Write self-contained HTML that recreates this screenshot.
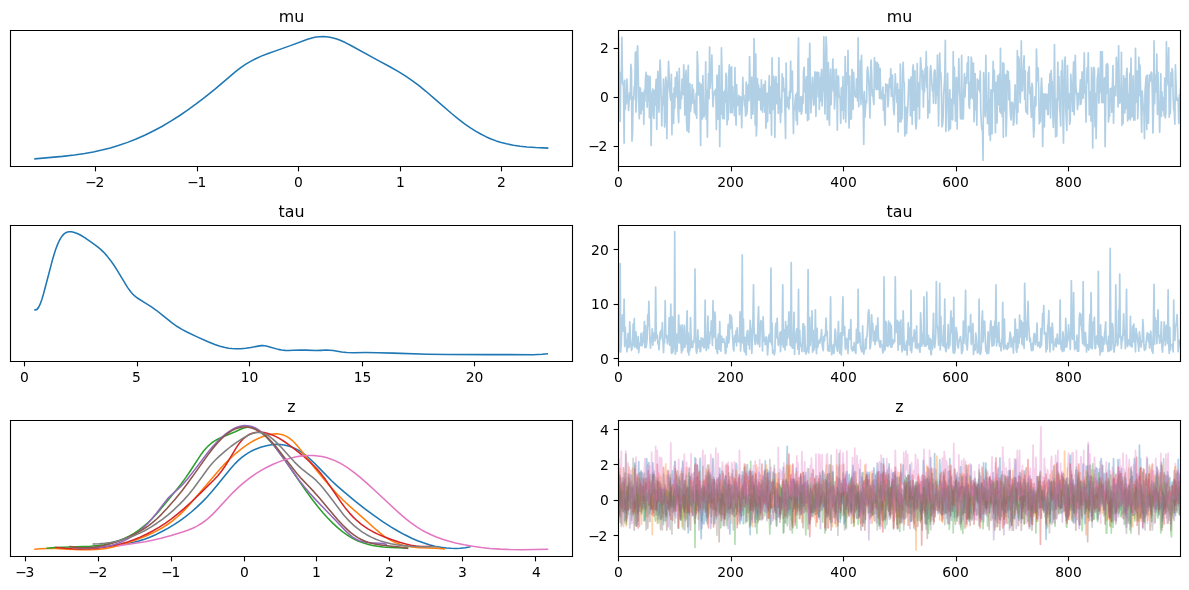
<!DOCTYPE html>
<html><head><meta charset="utf-8"><title>Trace plot</title>
<style>html,body{margin:0;padding:0;background:#fff;overflow:hidden}svg{display:block}</style>
</head><body>
<svg width="1189" height="590" viewBox="0 0 856.08 424.8">
 
 <defs>
  <style type="text/css">*{stroke-linejoin: round; stroke-linecap: butt}</style>
 </defs>
 <g id="figure_1">
  <g id="patch_1">
   <path d="M 0 424.8 
L 856.08 424.8 
L 856.08 0 
L 0 0 
z
" style="fill: #ffffff"/>
  </g>
  <g id="axes_1">
   <g id="patch_2">
    <path d="M 7.56 119.88 
L 412.2 119.88 
L 412.2 21.96 
L 7.56 21.96 
z
" style="fill: #ffffff"/>
   </g>
   <g id="matplotlib.axis_1">
    <g id="xtick_1">
     <g id="line2d_1">
      <defs>
       <path id="m1504cfccaf" d="M 0 0 
L 0 3.5 
" style="stroke: #000000; stroke-width: 0.8"/>
      </defs>
      <g>
       <use href="#m1504cfccaf" x="68.76" y="119.88" style="stroke: #000000; stroke-width: 0.8"/>
      </g>
     </g>
     <g id="text_1">
      <text style="font-size: 10px; font-family: 'DejaVu Sans', 'Liberation Sans', sans-serif; text-anchor: middle" x="68.26" y="134.48">−<tspan dx="-1.00">2</tspan></text>
     </g>
    </g>
    <g id="xtick_2">
     <g id="line2d_2">
      <g>
       <use href="#m1504cfccaf" x="142.20" y="119.88" style="stroke: #000000; stroke-width: 0.8"/>
      </g>
     </g>
     <g id="text_2">
      <text style="font-size: 10px; font-family: 'DejaVu Sans', 'Liberation Sans', sans-serif; text-anchor: middle" x="141.70" y="134.48">−<tspan dx="-1.00">1</tspan></text>
     </g>
    </g>
    <g id="xtick_3">
     <g id="line2d_3">
      <g>
       <use href="#m1504cfccaf" x="214.92" y="119.88" style="stroke: #000000; stroke-width: 0.8"/>
      </g>
     </g>
     <g id="text_3">
      <text style="font-size: 10px; font-family: 'DejaVu Sans', 'Liberation Sans', sans-serif; text-anchor: middle" x="214.92" y="134.48">0</text>
     </g>
    </g>
    <g id="xtick_4">
     <g id="line2d_4">
      <g>
       <use href="#m1504cfccaf" x="288.36" y="119.88" style="stroke: #000000; stroke-width: 0.8"/>
      </g>
     </g>
     <g id="text_4">
      <text style="font-size: 10px; font-family: 'DejaVu Sans', 'Liberation Sans', sans-serif; text-anchor: middle" x="288.36" y="134.48">1</text>
     </g>
    </g>
    <g id="xtick_5">
     <g id="line2d_5">
      <g>
       <use href="#m1504cfccaf" x="361.08" y="119.88" style="stroke: #000000; stroke-width: 0.8"/>
      </g>
     </g>
     <g id="text_5">
      <text style="font-size: 10px; font-family: 'DejaVu Sans', 'Liberation Sans', sans-serif; text-anchor: middle" x="361.08" y="134.48">2</text>
     </g>
    </g>
   </g>
   <g id="matplotlib.axis_2"/>
   <g id="line2d_6">
    <path d="M 25.2 114.36 
L 44.94 112.60 
L 53.59 111.60 
L 60.99 110.51 
L 67.16 109.41 
L 73.33 108.08 
L 79.51 106.50 
L 85.68 104.64 
L 91.85 102.50 
L 98.02 100.07 
L 104.19 97.36 
L 110.37 94.35 
L 116.54 91.05 
L 122.71 87.44 
L 128.88 83.53 
L 135.05 79.33 
L 141.22 74.85 
L 147.40 70.11 
L 154.80 64.11 
L 162.21 57.82 
L 169.61 51.59 
L 173.32 48.74 
L 177.02 46.19 
L 180.72 43.99 
L 184.43 42.08 
L 188.13 40.42 
L 193.07 38.48 
L 200.47 35.90 
L 209.11 32.86 
L 221.46 28.20 
L 225.16 27.17 
L 227.63 26.68 
L 230.10 26.39 
L 232.57 26.32 
L 235.04 26.46 
L 237.50 26.81 
L 239.97 27.35 
L 242.44 28.08 
L 244.91 28.99 
L 248.61 30.66 
L 252.32 32.60 
L 270.83 42.78 
L 280.71 48.07 
L 286.88 51.62 
L 291.82 54.69 
L 296.75 58.04 
L 301.69 61.72 
L 306.63 65.72 
L 314.03 72.09 
L 325.14 81.72 
L 330.08 85.75 
L 335.02 89.48 
L 338.72 92.04 
L 342.42 94.39 
L 346.13 96.51 
L 349.83 98.40 
L 353.53 100.04 
L 357.24 101.44 
L 360.94 102.61 
L 364.64 103.57 
L 369.58 104.57 
L 374.52 105.30 
L 379.45 105.81 
L 385.63 106.24 
L 394.27 106.62 
L 394.27 106.62 
" clip-path="url(#p5a673e6192)" style="fill: none; stroke: #1f77b4; stroke-width: 1.12; stroke-linecap: square"/>
   </g>
   <g id="patch_3">
    <path d="M 7.56 119.88 
L 7.56 21.96 
" style="fill: none; stroke: #000000; stroke-width: 0.8; stroke-linejoin: miter; stroke-linecap: square"/>
   </g>
   <g id="patch_4">
    <path d="M 412.2 119.88 
L 412.2 21.96 
" style="fill: none; stroke: #000000; stroke-width: 0.8; stroke-linejoin: miter; stroke-linecap: square"/>
   </g>
   <g id="patch_5">
    <path d="M 7.56 119.88 
L 412.2 119.88 
" style="fill: none; stroke: #000000; stroke-width: 0.8; stroke-linejoin: miter; stroke-linecap: square"/>
   </g>
   <g id="patch_6">
    <path d="M 7.56 21.96 
L 412.2 21.96 
" style="fill: none; stroke: #000000; stroke-width: 0.8; stroke-linejoin: miter; stroke-linecap: square"/>
   </g>
   <g id="text_6">
    <text style="font-size: 11.43px; font-family: 'DejaVu Sans', 'Liberation Sans', sans-serif; text-anchor: middle" x="209.88" y="15.96">mu</text>
   </g>
  </g>
  <g id="axes_2">
   <g id="patch_7">
    <path d="M 445.32 119.88 
L 849.96 119.88 
L 849.96 21.96 
L 445.32 21.96 
z
" style="fill: #ffffff"/>
   </g>
   <g id="matplotlib.axis_3">
    <g id="xtick_6">
     <g id="line2d_7">
      <g>
       <use href="#m1504cfccaf" x="445.32" y="119.88" style="stroke: #000000; stroke-width: 0.8"/>
      </g>
     </g>
     <g id="text_7">
      <text style="font-size: 10px; font-family: 'DejaVu Sans', 'Liberation Sans', sans-serif; text-anchor: middle" x="445.32" y="134.48">0</text>
     </g>
    </g>
    <g id="xtick_7">
     <g id="line2d_8">
      <g>
       <use href="#m1504cfccaf" x="526.68" y="119.88" style="stroke: #000000; stroke-width: 0.8"/>
      </g>
     </g>
     <g id="text_8">
      <text style="font-size: 10px; font-family: 'DejaVu Sans', 'Liberation Sans', sans-serif; text-anchor: middle" x="525.96" y="134.48">200</text>
     </g>
    </g>
    <g id="xtick_8">
     <g id="line2d_9">
      <g>
       <use href="#m1504cfccaf" x="607.32" y="119.88" style="stroke: #000000; stroke-width: 0.8"/>
      </g>
     </g>
     <g id="text_9">
      <text style="font-size: 10px; font-family: 'DejaVu Sans', 'Liberation Sans', sans-serif; text-anchor: middle" x="607.32" y="134.48">400</text>
     </g>
    </g>
    <g id="xtick_9">
     <g id="line2d_10">
      <g>
       <use href="#m1504cfccaf" x="688.68" y="119.88" style="stroke: #000000; stroke-width: 0.8"/>
      </g>
     </g>
     <g id="text_10">
      <text style="font-size: 10px; font-family: 'DejaVu Sans', 'Liberation Sans', sans-serif; text-anchor: middle" x="687.96" y="134.48">600</text>
     </g>
    </g>
    <g id="xtick_10">
     <g id="line2d_11">
      <g>
       <use href="#m1504cfccaf" x="769.32" y="119.88" style="stroke: #000000; stroke-width: 0.8"/>
      </g>
     </g>
     <g id="text_11">
      <text style="font-size: 10px; font-family: 'DejaVu Sans', 'Liberation Sans', sans-serif; text-anchor: middle" x="769.32" y="134.48">800</text>
     </g>
    </g>
   </g>
   <g id="matplotlib.axis_4">
    <g id="ytick_1">
     <g id="line2d_12">
      <defs>
       <path id="m5d545ce8f8" d="M 0 0 
L -3.5 0 
" style="stroke: #000000; stroke-width: 0.8"/>
      </defs>
      <g>
       <use href="#m5d545ce8f8" x="445.32" y="105.48" style="stroke: #000000; stroke-width: 0.8"/>
      </g>
     </g>
     <g id="text_12">
      <text style="font-size: 10px; font-family: 'DejaVu Sans', 'Liberation Sans', sans-serif; text-anchor: end" x="437.32" y="108.56">−<tspan dx="-1.00">2</tspan></text>
     </g>
    </g>
    <g id="ytick_2">
     <g id="line2d_13">
      <g>
       <use href="#m5d545ce8f8" x="445.32" y="70.20" style="stroke: #000000; stroke-width: 0.8"/>
      </g>
     </g>
     <g id="text_13">
      <text style="font-size: 10px; font-family: 'DejaVu Sans', 'Liberation Sans', sans-serif; text-anchor: end" x="438.32" y="73.28">0</text>
     </g>
    </g>
    <g id="ytick_3">
     <g id="line2d_14">
      <g>
       <use href="#m5d545ce8f8" x="445.32" y="34.92" style="stroke: #000000; stroke-width: 0.8"/>
      </g>
     </g>
     <g id="text_14">
      <text style="font-size: 10px; font-family: 'DejaVu Sans', 'Liberation Sans', sans-serif; text-anchor: end" x="438.32" y="38.00">2</text>
     </g>
    </g>
   </g>
   <g id="line2d_15">
    <path d="M 445.32 26.98 
L 445.72 53.40 
L 446.13 61.41 
L 446.53 87.32 
L 446.94 52.09 
L 447.34 59.51 
L 447.75 26.98 
L 448.15 57.29 
L 448.56 60.86 
L 448.96 62.01 
L 449.37 103.01 
L 449.77 57.85 
L 450.18 78.76 
L 450.58 69.40 
L 450.99 74.70 
L 451.39 56.99 
L 451.80 66.11 
L 452.20 71.55 
L 452.61 79.47 
L 453.01 70.97 
L 453.42 66.62 
L 453.82 71.27 
L 454.23 46.29 
L 454.63 50.54 
L 455.04 101.59 
L 455.44 95.16 
L 455.85 69.60 
L 456.25 71.75 
L 456.66 62.38 
L 457.06 62.32 
L 457.47 37.52 
L 457.87 80.66 
L 458.28 71.09 
L 458.68 38.21 
L 459.09 32.97 
L 459.90 73.07 
L 460.30 85.50 
L 460.71 63.07 
L 461.11 63.94 
L 461.52 81.87 
L 461.92 75.43 
L 462.33 66.61 
L 462.73 78.76 
L 463.14 66.99 
L 463.54 89.42 
L 463.95 65.02 
L 464.35 72.96 
L 464.76 56.58 
L 465.16 52.18 
L 465.57 60.76 
L 465.97 77.20 
L 466.38 54.50 
L 466.78 72.89 
L 467.19 55.44 
L 467.59 84.71 
L 468.00 54.97 
L 468.40 68.47 
L 468.81 104.77 
L 469.21 73.11 
L 469.62 67.33 
L 470.02 64.07 
L 470.43 83.37 
L 470.83 85.25 
L 471.24 65.15 
L 471.64 75.53 
L 472.05 64.62 
L 472.45 57.05 
L 472.86 93.02 
L 473.26 64.34 
L 473.67 51.30 
L 474.07 72.84 
L 474.48 80.81 
L 474.88 57.15 
L 475.29 43.21 
L 475.69 55.22 
L 476.50 90.71 
L 476.91 69.87 
L 477.31 75.20 
L 477.72 57.01 
L 478.12 65.22 
L 478.53 91.32 
L 478.93 85.76 
L 479.34 55.59 
L 479.74 58.30 
L 480.15 99.65 
L 480.55 68.09 
L 480.96 61.60 
L 481.36 44.09 
L 482.17 64.31 
L 482.58 69.50 
L 482.98 72.04 
L 483.39 53.50 
L 483.79 96.90 
L 484.20 70.18 
L 484.60 67.58 
L 485.01 88.81 
L 485.41 63.21 
L 485.82 78.04 
L 486.22 55.87 
L 486.63 69.98 
L 487.03 58.45 
L 487.44 51.71 
L 487.84 62.49 
L 488.25 81.29 
L 488.65 88.29 
L 489.06 49.27 
L 489.46 69.86 
L 489.87 78.19 
L 490.28 66.24 
L 490.68 71.03 
L 491.09 56.97 
L 491.49 67.78 
L 491.90 68.06 
L 492.30 46.73 
L 492.71 61.83 
L 493.11 82.73 
L 493.52 59.27 
L 493.92 50.63 
L 494.33 88.39 
L 494.73 94.26 
L 495.14 59.90 
L 495.54 47.11 
L 495.95 95.24 
L 496.35 85.38 
L 496.76 60.26 
L 497.16 80.24 
L 497.57 75.63 
L 497.97 73.34 
L 498.38 61.01 
L 498.78 74.17 
L 499.19 64.40 
L 499.59 70.22 
L 500.00 80.89 
L 500.40 72.57 
L 500.81 82.50 
L 501.21 67.29 
L 501.62 85.13 
L 502.02 37.21 
L 502.43 46.40 
L 502.83 68.24 
L 503.24 68.25 
L 503.64 59.40 
L 504.05 74.22 
L 504.45 104.77 
L 504.86 60.75 
L 505.26 62.98 
L 505.67 85.66 
L 506.07 54.48 
L 506.48 76.95 
L 506.88 84.10 
L 507.29 81.74 
L 507.69 73.73 
L 508.10 44.57 
L 508.50 85.91 
L 508.91 64.88 
L 509.31 98.71 
L 509.72 67.42 
L 510.12 53.00 
L 510.53 71.03 
L 510.93 33.86 
L 511.34 63.50 
L 511.74 56.04 
L 512.15 56.61 
L 512.55 39.68 
L 512.96 63.85 
L 513.36 76.86 
L 513.77 69.21 
L 514.17 68.34 
L 514.58 65.44 
L 514.98 67.66 
L 515.39 64.41 
L 515.79 93.13 
L 516.20 54.05 
L 516.60 76.58 
L 517.01 85.84 
L 517.41 57.02 
L 517.82 47.22 
L 518.22 105.48 
L 518.63 64.61 
L 519.03 82.15 
L 519.44 34.52 
L 519.84 53.28 
L 520.25 85.32 
L 520.65 79.80 
L 521.06 66.32 
L 521.46 85.67 
L 521.87 65.24 
L 522.27 73.78 
L 522.68 52.77 
L 523.08 55.37 
L 523.49 89.83 
L 523.89 66.93 
L 524.30 86.13 
L 524.70 53.86 
L 525.11 46.73 
L 525.51 60.30 
L 525.92 81.17 
L 526.32 48.83 
L 526.73 48.12 
L 527.13 81.17 
L 527.54 62.56 
L 527.94 76.59 
L 528.35 67.80 
L 528.75 83.20 
L 529.16 48.67 
L 529.56 80.12 
L 529.97 90.13 
L 530.37 60.90 
L 530.78 76.26 
L 531.18 70.76 
L 531.59 75.17 
L 531.99 68.61 
L 532.40 82.67 
L 532.80 73.11 
L 533.21 69.69 
L 533.61 71.57 
L 534.02 91.89 
L 534.83 55.78 
L 535.24 71.42 
L 535.64 68.66 
L 536.05 76.35 
L 536.45 74.40 
L 536.86 83.70 
L 537.26 59.12 
L 537.67 82.35 
L 538.07 77.45 
L 538.48 61.45 
L 538.88 60.81 
L 539.29 72.56 
L 539.69 40.74 
L 540.10 60.55 
L 540.50 62.89 
L 540.91 85.21 
L 541.31 55.55 
L 541.72 76.84 
L 542.12 82.17 
L 542.53 64.95 
L 542.93 27.86 
L 543.74 89.89 
L 544.15 38.89 
L 544.55 97.89 
L 544.96 89.12 
L 545.36 56.52 
L 545.77 72.17 
L 546.17 61.30 
L 546.58 71.93 
L 547.39 63.90 
L 547.79 79.06 
L 548.20 57.53 
L 548.60 74.90 
L 549.01 80.83 
L 549.41 66.42 
L 549.82 60.95 
L 550.63 80.73 
L 551.03 58.38 
L 551.44 92.24 
L 551.84 83.10 
L 552.25 66.98 
L 552.65 87.56 
L 553.06 67.16 
L 553.46 68.42 
L 553.87 54.48 
L 554.27 81.47 
L 554.68 77.27 
L 555.08 62.60 
L 555.49 97.21 
L 555.89 41.62 
L 556.30 78.35 
L 556.70 78.81 
L 557.11 54.98 
L 557.51 68.19 
L 557.92 98.77 
L 558.32 58.32 
L 558.73 55.09 
L 559.13 74.69 
L 559.54 72.03 
L 559.94 60.39 
L 560.35 81.54 
L 560.75 41.62 
L 561.16 64.64 
L 561.97 88.23 
L 562.37 71.15 
L 562.78 81.06 
L 563.18 53.17 
L 563.59 65.47 
L 563.99 56.10 
L 564.40 65.61 
L 564.80 63.70 
L 565.61 99.65 
L 566.02 45.44 
L 566.42 72.48 
L 566.83 76.89 
L 567.23 70.08 
L 567.64 75.17 
L 568.04 78.52 
L 568.45 65.56 
L 568.85 70.90 
L 569.26 44.08 
L 569.66 66.27 
L 570.07 61.15 
L 570.47 51.16 
L 571.28 96.13 
L 571.69 76.29 
L 572.09 78.88 
L 572.50 72.11 
L 572.90 68.08 
L 573.31 86.77 
L 573.71 66.83 
L 574.12 89.72 
L 574.52 44.75 
L 574.93 27.33 
L 575.33 76.43 
L 575.74 80.31 
L 576.14 72.40 
L 576.55 69.81 
L 576.95 82.18 
L 577.36 80.47 
L 577.76 69.24 
L 578.17 74.56 
L 578.57 51.35 
L 578.98 48.41 
L 579.38 66.02 
L 579.79 57.83 
L 580.2 81.31 
L 580.60 55.35 
L 581.01 65.30 
L 581.41 86.78 
L 581.82 42.27 
L 582.22 85.98 
L 583.03 31.21 
L 583.84 81.13 
L 585.06 55.71 
L 585.46 63.79 
L 585.87 75.74 
L 586.27 72.65 
L 586.68 51.73 
L 587.08 64.94 
L 587.49 83.76 
L 587.89 52.32 
L 588.30 58.70 
L 588.70 51.89 
L 589.11 69.64 
L 589.51 52.54 
L 589.92 78.76 
L 590.32 56.36 
L 590.73 72.74 
L 591.13 54.89 
L 591.54 49.87 
L 591.94 76.23 
L 592.35 66.17 
L 592.75 64.81 
L 593.16 26.62 
L 593.97 82.05 
L 594.37 58.31 
L 594.78 26.62 
L 595.18 33.50 
L 595.59 86.16 
L 595.99 73.42 
L 596.40 45.16 
L 596.80 83.43 
L 597.21 90.13 
L 597.61 57.37 
L 598.02 49.68 
L 598.42 75.30 
L 598.83 57.00 
L 599.23 63.62 
L 599.64 42.49 
L 600.04 65.42 
L 600.45 50.10 
L 600.85 78.40 
L 601.26 69.28 
L 601.66 67.93 
L 602.07 49.70 
L 602.47 57.65 
L 602.88 93.66 
L 603.28 56.10 
L 603.69 54.78 
L 604.09 68.16 
L 604.50 70.40 
L 604.90 69.41 
L 605.31 88.70 
L 605.71 63.62 
L 606.12 62.93 
L 606.52 79.33 
L 606.93 55.20 
L 607.33 85.55 
L 607.74 74.89 
L 608.14 73.74 
L 608.55 40.69 
L 608.95 87.85 
L 609.36 57.91 
L 609.76 52.33 
L 610.17 60.74 
L 610.57 36.33 
L 610.98 81.12 
L 611.38 92.19 
L 611.79 54.84 
L 612.19 85.86 
L 612.60 72.18 
L 613.00 85.60 
L 613.41 49.91 
L 613.81 52.77 
L 614.22 78.59 
L 614.62 52.17 
L 615.03 64.85 
L 615.43 69.07 
L 615.84 65.87 
L 616.24 70.12 
L 616.65 56.78 
L 617.05 61.79 
L 617.46 72.57 
L 617.86 27.33 
L 618.27 76.87 
L 618.67 62.17 
L 619.08 59.96 
L 619.48 43.70 
L 619.89 75.15 
L 620.29 39.83 
L 620.70 63.96 
L 621.10 69.97 
L 621.51 77.84 
L 621.91 103.89 
L 622.32 66.01 
L 622.72 84.47 
L 623.53 72.51 
L 623.94 73.98 
L 624.34 51.11 
L 624.75 48.22 
L 625.56 60.47 
L 625.97 70.90 
L 626.37 85.01 
L 626.78 53.51 
L 627.18 43.30 
L 627.59 53.17 
L 627.99 68.98 
L 628.40 64.78 
L 628.80 71.59 
L 629.21 75.22 
L 629.61 41.62 
L 630.02 62.67 
L 630.42 44.73 
L 630.83 64.60 
L 631.23 48.39 
L 631.64 45.15 
L 632.04 64.24 
L 632.45 46.27 
L 632.85 55.66 
L 633.26 70.76 
L 633.66 49.20 
L 634.07 67.87 
L 634.47 71.25 
L 634.88 70.80 
L 635.69 62.71 
L 636.09 79.49 
L 636.50 68.29 
L 636.90 85.59 
L 637.31 90.13 
L 637.71 60.46 
L 638.12 66.06 
L 638.52 64.53 
L 638.93 60.86 
L 639.33 76.90 
L 639.74 71.34 
L 640.14 61.79 
L 640.55 56.40 
L 640.95 63.19 
L 641.36 49.49 
L 641.76 69.37 
L 642.17 56.42 
L 642.57 54.09 
L 642.98 69.93 
L 643.38 78.76 
L 643.79 82.63 
L 644.60 53.26 
L 645.00 64.20 
L 645.41 65.61 
L 645.81 73.85 
L 646.22 60.16 
L 646.62 94.96 
L 647.03 64.76 
L 647.43 67.70 
L 647.84 87.62 
L 648.24 46.17 
L 648.65 87.83 
L 649.05 83.83 
L 649.46 85.47 
L 649.86 53.26 
L 650.27 44.97 
L 650.67 58.69 
L 651.08 59.79 
L 651.48 97.89 
L 652.29 77.17 
L 652.70 96.13 
L 653.10 86.11 
L 653.51 80.21 
L 653.91 70.52 
L 654.32 57.13 
L 654.72 64.58 
L 655.13 57.98 
L 655.53 83.32 
L 655.94 55.50 
L 656.34 60.25 
L 656.75 89.48 
L 657.15 49.91 
L 657.56 46.67 
L 657.96 79.35 
L 658.37 67.34 
L 658.77 50.99 
L 659.18 88.29 
L 659.58 92.81 
L 659.99 86.18 
L 660.39 45.85 
L 660.80 76.68 
L 661.20 59.74 
L 661.61 64.35 
L 662.01 85.56 
L 662.42 56.75 
L 662.82 41.74 
L 663.23 48.48 
L 663.63 50.99 
L 664.04 64.51 
L 664.44 51.09 
L 664.85 76.97 
L 665.25 54.17 
L 665.66 65.97 
L 666.06 49.27 
L 666.47 58.20 
L 666.87 37.21 
L 667.28 63.01 
L 667.68 48.23 
L 668.09 85.01 
L 668.49 72.24 
L 668.90 74.80 
L 669.30 81.36 
L 669.71 51.38 
L 670.12 47.17 
L 671.33 65.49 
L 671.74 61.45 
L 672.14 74.37 
L 672.55 52.25 
L 672.95 50.31 
L 673.36 51.55 
L 673.76 74.48 
L 674.17 64.96 
L 674.57 68.75 
L 674.98 39.59 
L 675.79 90.67 
L 676.19 59.92 
L 676.60 38.32 
L 677.00 55.34 
L 677.41 52.34 
L 677.81 65.61 
L 678.22 91.30 
L 678.62 90.12 
L 679.03 84.31 
L 679.43 68.15 
L 680.24 55.27 
L 680.65 29.09 
L 681.05 94.54 
L 681.46 70.55 
L 681.86 77.08 
L 682.27 52.76 
L 682.67 80.03 
L 683.08 94.05 
L 683.48 81.96 
L 683.89 64.71 
L 684.29 92.64 
L 684.70 71.81 
L 685.10 71.43 
L 685.51 85.71 
L 685.91 86.27 
L 686.32 37.21 
L 686.72 74.66 
L 687.13 48.36 
L 687.53 60.79 
L 687.94 87.19 
L 688.34 78.96 
L 688.75 55.81 
L 689.15 92.77 
L 689.56 60.62 
L 689.96 61.76 
L 690.37 42.18 
L 690.77 66.75 
L 691.18 71.08 
L 691.58 85.57 
L 691.99 74.16 
L 692.39 39.91 
L 692.80 85.66 
L 693.20 66.25 
L 693.61 85.52 
L 694.01 64.50 
L 694.42 53.19 
L 694.82 69.85 
L 695.23 55.92 
L 695.63 56.05 
L 696.04 59.94 
L 696.44 45.18 
L 696.85 55.26 
L 697.25 40.74 
L 697.66 76.02 
L 698.06 78.14 
L 698.47 59.53 
L 698.87 71.01 
L 699.28 41.15 
L 699.68 44.29 
L 700.09 69.43 
L 700.49 71.09 
L 700.90 45.38 
L 701.30 87.57 
L 701.71 72.85 
L 702.11 53.00 
L 702.52 78.95 
L 702.92 73.21 
L 703.33 90.13 
L 703.73 56.89 
L 704.14 64.39 
L 704.95 57.81 
L 705.35 65.92 
L 705.76 51.26 
L 706.16 78.96 
L 706.57 89.11 
L 706.97 93.36 
L 707.38 91.50 
L 707.78 115.35 
L 708.19 52.29 
L 709.00 76.97 
L 709.40 83.97 
L 709.81 39.85 
L 710.21 73.91 
L 710.62 76.46 
L 711.02 89.06 
L 711.43 75.06 
L 711.83 52.45 
L 712.24 97.20 
L 712.64 71.29 
L 713.05 101.07 
L 713.45 64.69 
L 714.26 96.47 
L 714.67 65.95 
L 715.08 44.14 
L 715.48 65.82 
L 715.89 50.63 
L 716.29 68.61 
L 716.70 95.54 
L 717.10 59.22 
L 717.91 88.61 
L 718.32 54.65 
L 718.72 62.42 
L 719.13 75.27 
L 719.53 53.41 
L 719.94 80.50 
L 720.34 34.74 
L 720.75 81.49 
L 721.15 58.53 
L 721.56 83.77 
L 721.96 45.19 
L 722.37 98.77 
L 722.77 45.87 
L 723.18 79.78 
L 723.58 74.50 
L 723.99 53.83 
L 724.39 98.03 
L 724.80 83.29 
L 725.20 51.05 
L 725.61 59.62 
L 726.01 51.81 
L 726.42 71.83 
L 726.82 58.06 
L 727.23 76.22 
L 727.63 83.62 
L 728.04 86.29 
L 728.44 73.71 
L 728.85 73.67 
L 729.25 74.82 
L 729.66 90.13 
L 730.06 88.04 
L 730.87 61.15 
L 731.28 74.10 
L 731.68 78.13 
L 732.09 89.12 
L 732.49 36.49 
L 732.90 80.80 
L 733.30 40.91 
L 733.71 42.55 
L 734.11 61.35 
L 734.52 74.01 
L 734.92 63.52 
L 735.33 29.45 
L 735.73 61.56 
L 736.14 65.46 
L 737.35 40.25 
L 737.76 71.31 
L 738.16 51.00 
L 738.57 79.35 
L 738.97 80.85 
L 739.38 76.74 
L 739.78 82.10 
L 740.19 51.88 
L 740.59 52.69 
L 741.00 47.98 
L 741.40 67.32 
L 741.81 62.66 
L 742.21 76.13 
L 742.62 84.48 
L 743.02 59.96 
L 743.43 62.75 
L 743.83 83.87 
L 744.24 98.77 
L 744.64 91.89 
L 745.05 69.75 
L 745.45 76.93 
L 745.86 75.36 
L 746.26 35.27 
L 746.67 52.27 
L 747.07 58.09 
L 747.48 49.12 
L 747.88 64.90 
L 748.29 89.03 
L 748.69 75.73 
L 749.10 87.51 
L 749.50 64.21 
L 749.91 56.18 
L 750.31 65.87 
L 750.72 105.48 
L 751.12 75.80 
L 751.53 67.52 
L 751.93 91.31 
L 752.34 68.28 
L 752.74 67.62 
L 753.15 78.39 
L 753.55 76.54 
L 753.96 68.02 
L 754.36 82.40 
L 754.77 82.43 
L 755.17 60.50 
L 755.58 67.35 
L 755.98 53.20 
L 756.39 84.85 
L 756.79 50.79 
L 757.20 58.79 
L 757.60 58.64 
L 758.01 81.30 
L 758.41 91.76 
L 758.82 71.20 
L 759.22 32.09 
L 759.63 73.02 
L 760.04 98.50 
L 760.44 71.35 
L 760.85 97.97 
L 761.66 44.66 
L 762.06 71.89 
L 762.47 55.25 
L 762.87 77.98 
L 763.28 81.83 
L 763.68 90.70 
L 764.09 51.21 
L 764.49 68.55 
L 764.90 43.42 
L 765.30 86.19 
L 765.71 103.01 
L 766.11 66.41 
L 766.52 46.17 
L 766.92 41.04 
L 767.33 78.26 
L 768.14 93.96 
L 768.54 47.23 
L 768.95 69.18 
L 769.35 78.30 
L 769.76 67.55 
L 770.16 89.42 
L 770.57 86.42 
L 770.97 53.54 
L 771.38 61.17 
L 771.78 64.70 
L 772.19 80.23 
L 772.59 58.40 
L 773.00 44.58 
L 773.40 82.54 
L 773.81 66.65 
L 774.21 39.85 
L 774.62 61.70 
L 775.02 66.66 
L 775.43 68.97 
L 775.83 78.90 
L 776.24 67.10 
L 776.64 75.55 
L 777.05 68.97 
L 777.45 67.78 
L 777.86 57.46 
L 778.26 75.13 
L 778.67 71.51 
L 779.07 51.82 
L 779.48 70.00 
L 779.88 70.63 
L 780.69 38.09 
L 781.10 66.93 
L 781.50 64.92 
L 781.91 87.90 
L 782.31 61.16 
L 782.72 48.81 
L 783.12 59.27 
L 783.53 38.09 
L 784.34 82.70 
L 784.74 71.94 
L 785.15 66.20 
L 785.55 87.05 
L 785.96 48.60 
L 786.36 69.30 
L 786.77 106.53 
L 787.17 58.29 
L 787.58 48.46 
L 787.98 50.32 
L 788.39 91.17 
L 788.79 67.44 
L 789.20 99.77 
L 790.01 56.98 
L 790.41 54.03 
L 790.82 49.06 
L 791.22 74.21 
L 791.63 62.94 
L 792.03 66.41 
L 792.44 37.21 
L 792.84 45.33 
L 793.25 73.78 
L 793.65 37.23 
L 794.06 67.98 
L 794.46 73.90 
L 794.87 58.53 
L 795.27 56.08 
L 795.68 105.48 
L 796.49 46.56 
L 796.89 67.00 
L 797.30 45.81 
L 797.70 47.45 
L 798.11 87.84 
L 798.51 83.38 
L 798.92 83.68 
L 799.32 63.86 
L 799.73 66.91 
L 800.13 63.54 
L 800.54 80.76 
L 800.94 61.05 
L 801.35 47.23 
L 801.75 88.65 
L 802.16 68.85 
L 802.56 62.23 
L 802.97 67.86 
L 803.37 68.86 
L 803.78 41.27 
L 804.59 53.08 
L 805 76.93 
L 805.40 32.97 
L 805.81 60.48 
L 806.21 74.41 
L 806.62 70.91 
L 807.02 73.14 
L 807.43 37.65 
L 807.83 90.13 
L 808.24 64.95 
L 808.64 88.72 
L 809.05 54.70 
L 809.45 80.53 
L 809.86 81.33 
L 810.26 56.58 
L 810.67 78.20 
L 811.07 53.24 
L 811.48 49.23 
L 811.88 87.02 
L 812.29 67.89 
L 812.69 85.53 
L 813.50 52.78 
L 813.91 86.25 
L 814.31 41.77 
L 814.72 71.61 
L 815.12 84.08 
L 815.93 54.58 
L 816.34 86.44 
L 816.74 66.77 
L 817.15 86.40 
L 817.55 34.74 
L 817.96 64.44 
L 818.36 73.46 
L 818.77 51.11 
L 819.17 85.42 
L 819.58 72.97 
L 819.98 41.38 
L 820.39 68.76 
L 820.79 46.92 
L 822.01 95.24 
L 822.41 65.68 
L 823.22 79.40 
L 823.63 78.81 
L 824.03 99.65 
L 824.44 65.26 
L 825.25 55.01 
L 825.65 93.12 
L 826.06 54.12 
L 826.46 67.30 
L 826.87 88.65 
L 827.27 65.47 
L 827.68 53.98 
L 828.08 58.66 
L 828.89 51.98 
L 829.30 52.73 
L 829.70 67.59 
L 830.11 95.67 
L 830.51 79.15 
L 830.92 29.45 
L 831.32 74.63 
L 831.73 56.01 
L 832.13 54.23 
L 832.54 66.24 
L 832.94 38.93 
L 833.35 82.31 
L 833.75 52.16 
L 834.16 74.66 
L 834.56 78.65 
L 834.97 95.24 
L 835.78 53.11 
L 836.18 83.84 
L 836.59 66.06 
L 836.99 79.53 
L 837.40 70.30 
L 837.80 72.47 
L 838.21 83.35 
L 838.61 56.26 
L 839.02 84.82 
L 839.42 81.39 
L 839.83 30.15 
L 840.23 51.38 
L 841.04 61.27 
L 841.45 34.49 
L 841.85 84.36 
L 842.26 78.08 
L 842.66 81.55 
L 843.07 52.47 
L 843.47 62.08 
L 843.88 49.37 
L 844.28 51.37 
L 844.69 70.09 
L 845.09 79.14 
L 845.50 80.25 
L 845.90 89.42 
L 846.31 46.73 
L 847.12 72.15 
L 847.52 70.23 
L 847.93 72.22 
L 848.33 71.94 
L 848.74 88.79 
L 849.14 68.37 
L 849.55 72.74 
L 849.96 63.73 
L 849.96 63.73 
" clip-path="url(#p54a7ca2164)" style="fill: none; stroke: #1f77b4; stroke-opacity: 0.35; stroke-width: 1.23; stroke-linecap: square"/>
   </g>
   <g id="patch_8">
    <path d="M 445.32 119.88 
L 445.32 21.96 
" style="fill: none; stroke: #000000; stroke-width: 0.8; stroke-linejoin: miter; stroke-linecap: square"/>
   </g>
   <g id="patch_9">
    <path d="M 849.96 119.88 
L 849.96 21.96 
" style="fill: none; stroke: #000000; stroke-width: 0.8; stroke-linejoin: miter; stroke-linecap: square"/>
   </g>
   <g id="patch_10">
    <path d="M 445.32 119.88 
L 849.96 119.88 
" style="fill: none; stroke: #000000; stroke-width: 0.8; stroke-linejoin: miter; stroke-linecap: square"/>
   </g>
   <g id="patch_11">
    <path d="M 445.32 21.96 
L 849.96 21.96 
" style="fill: none; stroke: #000000; stroke-width: 0.8; stroke-linejoin: miter; stroke-linecap: square"/>
   </g>
   <g id="text_15">
    <text style="font-size: 11.43px; font-family: 'DejaVu Sans', 'Liberation Sans', sans-serif; text-anchor: middle" x="647.64" y="15.96">mu</text>
   </g>
  </g>
  <g id="axes_3">
   <g id="patch_12">
    <path d="M 7.56 260.28 
L 412.2 260.28 
L 412.2 162.36 
L 7.56 162.36 
z
" style="fill: #ffffff"/>
   </g>
   <g id="matplotlib.axis_5">
    <g id="xtick_11">
     <g id="line2d_16">
      <g>
       <use href="#m1504cfccaf" x="17.64" y="260.28" style="stroke: #000000; stroke-width: 0.8"/>
      </g>
     </g>
     <g id="text_16">
      <text style="font-size: 10px; font-family: 'DejaVu Sans', 'Liberation Sans', sans-serif; text-anchor: middle" x="17.64" y="274.88">0</text>
     </g>
    </g>
    <g id="xtick_12">
     <g id="line2d_17">
      <g>
       <use href="#m1504cfccaf" x="99.00" y="260.28" style="stroke: #000000; stroke-width: 0.8"/>
      </g>
     </g>
     <g id="text_17">
      <text style="font-size: 10px; font-family: 'DejaVu Sans', 'Liberation Sans', sans-serif; text-anchor: middle" x="98.28" y="274.88">5</text>
     </g>
    </g>
    <g id="xtick_13">
     <g id="line2d_18">
      <g>
       <use href="#m1504cfccaf" x="179.64" y="260.28" style="stroke: #000000; stroke-width: 0.8"/>
      </g>
     </g>
     <g id="text_18">
      <text style="font-size: 10px; font-family: 'DejaVu Sans', 'Liberation Sans', sans-serif; text-anchor: middle" x="179.64" y="274.88">10</text>
     </g>
    </g>
    <g id="xtick_14">
     <g id="line2d_19">
      <g>
       <use href="#m1504cfccaf" x="261.00" y="260.28" style="stroke: #000000; stroke-width: 0.8"/>
      </g>
     </g>
     <g id="text_19">
      <text style="font-size: 10px; font-family: 'DejaVu Sans', 'Liberation Sans', sans-serif; text-anchor: middle" x="261.00" y="274.88">15</text>
     </g>
    </g>
    <g id="xtick_15">
     <g id="line2d_20">
      <g>
       <use href="#m1504cfccaf" x="341.64" y="260.28" style="stroke: #000000; stroke-width: 0.8"/>
      </g>
     </g>
     <g id="text_20">
      <text style="font-size: 10px; font-family: 'DejaVu Sans', 'Liberation Sans', sans-serif; text-anchor: middle" x="341.64" y="274.88">20</text>
     </g>
    </g>
   </g>
   <g id="matplotlib.axis_6"/>
   <g id="line2d_21">
    <path d="M 25.2 223.11 
L 26.43 222.93 
L 27.66 221.49 
L 28.90 218.99 
L 30.13 215.58 
L 31.36 211.48 
L 33.83 202.13 
L 37.53 187.98 
L 38.76 183.72 
L 40.00 179.87 
L 41.23 176.52 
L 42.46 173.71 
L 43.70 171.42 
L 44.93 169.65 
L 46.16 168.38 
L 47.40 167.53 
L 48.63 167.04 
L 49.86 166.84 
L 51.10 166.86 
L 52.33 167.03 
L 53.56 167.33 
L 56.03 168.26 
L 58.50 169.55 
L 60.96 171.09 
L 65.90 174.54 
L 69.60 177.20 
L 72.06 179.19 
L 74.53 181.51 
L 77.00 184.22 
L 79.46 187.32 
L 81.93 190.80 
L 84.40 194.67 
L 91.80 206.90 
L 94.26 210.27 
L 95.50 211.66 
L 96.73 212.85 
L 99.20 214.75 
L 104.13 217.84 
L 109.07 220.96 
L 112.77 223.57 
L 116.47 226.52 
L 123.87 232.52 
L 127.57 235.09 
L 131.27 237.29 
L 134.97 239.24 
L 141.13 242.17 
L 149.77 246.05 
L 154.70 248.01 
L 158.40 249.24 
L 162.10 250.21 
L 164.57 250.68 
L 167.04 250.99 
L 169.50 251.14 
L 173.20 251.08 
L 176.90 250.75 
L 180.60 250.18 
L 188.00 248.85 
L 189.24 248.82 
L 191.70 249.13 
L 194.17 249.76 
L 200.34 251.55 
L 202.80 252.02 
L 205.27 252.28 
L 207.74 252.35 
L 211.44 252.21 
L 216.37 251.99 
L 220.07 252.09 
L 227.47 252.43 
L 231.17 252.26 
L 234.87 252.06 
L 237.34 252.11 
L 239.81 252.41 
L 245.97 253.47 
L 249.67 253.80 
L 254.61 253.96 
L 263.24 253.87 
L 271.87 253.91 
L 282.97 254.24 
L 307.64 255.08 
L 322.44 255.27 
L 350.81 255.34 
L 384.11 255.36 
L 390.28 255.06 
L 393.98 254.76 
L 393.98 254.76 
" clip-path="url(#pdcc25c7797)" style="fill: none; stroke: #1f77b4; stroke-width: 1.12; stroke-linecap: square"/>
   </g>
   <g id="patch_13">
    <path d="M 7.56 260.28 
L 7.56 162.36 
" style="fill: none; stroke: #000000; stroke-width: 0.8; stroke-linejoin: miter; stroke-linecap: square"/>
   </g>
   <g id="patch_14">
    <path d="M 412.2 260.28 
L 412.2 162.36 
" style="fill: none; stroke: #000000; stroke-width: 0.8; stroke-linejoin: miter; stroke-linecap: square"/>
   </g>
   <g id="patch_15">
    <path d="M 7.56 260.28 
L 412.2 260.28 
" style="fill: none; stroke: #000000; stroke-width: 0.8; stroke-linejoin: miter; stroke-linecap: square"/>
   </g>
   <g id="patch_16">
    <path d="M 7.56 162.36 
L 412.2 162.36 
" style="fill: none; stroke: #000000; stroke-width: 0.8; stroke-linejoin: miter; stroke-linecap: square"/>
   </g>
   <g id="text_21">
    <text style="font-size: 11.43px; font-family: 'DejaVu Sans', 'Liberation Sans', sans-serif; text-anchor: middle" x="209.88" y="156.36">tau</text>
   </g>
  </g>
  <g id="axes_4">
   <g id="patch_17">
    <path d="M 445.32 260.28 
L 849.96 260.28 
L 849.96 162.36 
L 445.32 162.36 
z
" style="fill: #ffffff"/>
   </g>
   <g id="matplotlib.axis_7">
    <g id="xtick_16">
     <g id="line2d_22">
      <g>
       <use href="#m1504cfccaf" x="445.32" y="260.28" style="stroke: #000000; stroke-width: 0.8"/>
      </g>
     </g>
     <g id="text_22">
      <text style="font-size: 10px; font-family: 'DejaVu Sans', 'Liberation Sans', sans-serif; text-anchor: middle" x="445.32" y="274.88">0</text>
     </g>
    </g>
    <g id="xtick_17">
     <g id="line2d_23">
      <g>
       <use href="#m1504cfccaf" x="526.68" y="260.28" style="stroke: #000000; stroke-width: 0.8"/>
      </g>
     </g>
     <g id="text_23">
      <text style="font-size: 10px; font-family: 'DejaVu Sans', 'Liberation Sans', sans-serif; text-anchor: middle" x="525.96" y="274.88">200</text>
     </g>
    </g>
    <g id="xtick_18">
     <g id="line2d_24">
      <g>
       <use href="#m1504cfccaf" x="607.32" y="260.28" style="stroke: #000000; stroke-width: 0.8"/>
      </g>
     </g>
     <g id="text_24">
      <text style="font-size: 10px; font-family: 'DejaVu Sans', 'Liberation Sans', sans-serif; text-anchor: middle" x="607.32" y="274.88">400</text>
     </g>
    </g>
    <g id="xtick_19">
     <g id="line2d_25">
      <g>
       <use href="#m1504cfccaf" x="688.68" y="260.28" style="stroke: #000000; stroke-width: 0.8"/>
      </g>
     </g>
     <g id="text_25">
      <text style="font-size: 10px; font-family: 'DejaVu Sans', 'Liberation Sans', sans-serif; text-anchor: middle" x="687.96" y="274.88">600</text>
     </g>
    </g>
    <g id="xtick_20">
     <g id="line2d_26">
      <g>
       <use href="#m1504cfccaf" x="769.32" y="260.28" style="stroke: #000000; stroke-width: 0.8"/>
      </g>
     </g>
     <g id="text_26">
      <text style="font-size: 10px; font-family: 'DejaVu Sans', 'Liberation Sans', sans-serif; text-anchor: middle" x="769.32" y="274.88">800</text>
     </g>
    </g>
   </g>
   <g id="matplotlib.axis_8">
    <g id="ytick_4">
     <g id="line2d_27">
      <g>
       <use href="#m5d545ce8f8" x="445.32" y="258.12" style="stroke: #000000; stroke-width: 0.8"/>
      </g>
     </g>
     <g id="text_27">
      <text style="font-size: 10px; font-family: 'DejaVu Sans', 'Liberation Sans', sans-serif; text-anchor: end" x="438.32" y="261.92">0</text>
     </g>
    </g>
    <g id="ytick_5">
     <g id="line2d_28">
      <g>
       <use href="#m5d545ce8f8" x="445.32" y="219.24" style="stroke: #000000; stroke-width: 0.8"/>
      </g>
     </g>
     <g id="text_28">
      <text style="font-size: 10px; font-family: 'DejaVu Sans', 'Liberation Sans', sans-serif; text-anchor: end" x="438.32" y="222.68">10</text>
     </g>
    </g>
    <g id="ytick_6">
     <g id="line2d_29">
      <g>
       <use href="#m5d545ce8f8" x="445.32" y="179.64" style="stroke: #000000; stroke-width: 0.8"/>
      </g>
     </g>
     <g id="text_29">
      <text style="font-size: 10px; font-family: 'DejaVu Sans', 'Liberation Sans', sans-serif; text-anchor: end" x="438.32" y="183.44">20</text>
     </g>
    </g>
   </g>
   <g id="line2d_30">
    <path d="M 445.32 244.13 
L 445.72 241.29 
L 446.13 253.29 
L 446.53 189.84 
L 446.94 253.40 
L 447.34 245.90 
L 447.75 232.99 
L 448.15 226.76 
L 448.56 238.34 
L 448.96 236.46 
L 449.37 215.34 
L 449.77 249.41 
L 450.18 235.63 
L 450.58 244.40 
L 450.99 246.45 
L 451.39 253.30 
L 452.20 240.28 
L 452.61 250.24 
L 453.01 249.77 
L 453.42 231.71 
L 453.82 242.44 
L 454.63 252.39 
L 455.04 250.74 
L 455.44 248.30 
L 455.85 233.41 
L 456.25 248.58 
L 456.66 229.47 
L 457.06 250.08 
L 457.47 248.86 
L 457.87 238.86 
L 458.28 246.60 
L 458.68 251.00 
L 459.09 247.56 
L 459.49 242.37 
L 459.90 253.99 
L 460.30 249.09 
L 460.71 247.03 
L 461.11 248.69 
L 461.52 239.94 
L 461.92 248.92 
L 462.33 248.71 
L 462.73 245.89 
L 463.14 239.38 
L 463.54 246.52 
L 463.95 231.60 
L 464.35 250.16 
L 464.76 234.67 
L 465.16 250.14 
L 465.57 247.60 
L 465.97 243.10 
L 466.38 226.62 
L 466.78 234.41 
L 467.19 216.91 
L 467.59 233.88 
L 468.00 245.86 
L 468.40 250.74 
L 468.81 243.06 
L 469.21 244.56 
L 469.62 236.76 
L 470.02 248.52 
L 470.43 243.13 
L 470.83 239.81 
L 471.64 245.46 
L 472.05 206.71 
L 472.45 238.59 
L 472.86 243.65 
L 473.26 241.25 
L 473.67 247.64 
L 474.07 245.89 
L 474.48 251.87 
L 475.29 239.07 
L 475.69 244.07 
L 476.10 237.64 
L 476.50 242.05 
L 476.91 232.27 
L 477.31 245.49 
L 477.72 253.93 
L 478.12 244.22 
L 478.53 246.70 
L 478.93 216.52 
L 479.34 241.56 
L 479.74 242.97 
L 480.15 241.61 
L 480.55 247.55 
L 480.96 244.45 
L 481.36 243.48 
L 481.77 228.75 
L 482.17 248.57 
L 482.58 246.22 
L 482.98 218.88 
L 483.39 254.04 
L 483.79 254.49 
L 484.20 228.18 
L 484.60 253.48 
L 485.01 242.86 
L 485.41 250.74 
L 485.82 166.69 
L 486.22 255.01 
L 486.63 252.57 
L 487.03 240.62 
L 487.44 252.86 
L 487.84 242.45 
L 488.25 242.69 
L 488.65 226.82 
L 489.06 246.89 
L 489.46 234.14 
L 489.87 235.76 
L 490.28 246.61 
L 490.68 254.06 
L 491.09 233.96 
L 491.49 252.41 
L 491.90 249.98 
L 492.30 238.74 
L 492.71 234.19 
L 493.11 250.04 
L 493.52 246.65 
L 493.92 247.69 
L 494.73 223.90 
L 495.14 253.31 
L 495.54 239.61 
L 495.95 255.62 
L 496.35 248.49 
L 496.76 252.38 
L 497.16 228.75 
L 497.57 242.12 
L 497.97 250.09 
L 498.38 249.70 
L 498.78 250.06 
L 499.19 245.00 
L 499.59 246.75 
L 500.00 240.30 
L 500.40 193.76 
L 500.81 237.06 
L 501.21 252.04 
L 501.62 254.33 
L 502.02 251.79 
L 502.43 237.54 
L 502.83 247.15 
L 503.24 250.24 
L 503.64 245.42 
L 504.05 253.25 
L 504.45 253.05 
L 504.86 243.24 
L 505.26 247.54 
L 505.67 249.07 
L 506.07 243.76 
L 506.48 249.40 
L 506.88 250.60 
L 507.29 249.56 
L 507.69 216.13 
L 508.10 244.62 
L 508.50 252.40 
L 508.91 248.99 
L 509.31 240.86 
L 509.72 227.65 
L 510.12 251.00 
L 510.53 244.03 
L 510.93 247.34 
L 511.34 238.68 
L 511.74 240.94 
L 512.15 231.06 
L 512.96 248.70 
L 513.36 216.52 
L 513.77 243.18 
L 514.17 242.09 
L 514.58 224.66 
L 514.98 227.01 
L 515.39 251.09 
L 515.79 243.95 
L 516.20 252.86 
L 516.60 254.49 
L 517.01 241.88 
L 517.41 240.43 
L 517.82 251.45 
L 518.22 231.58 
L 518.63 250.52 
L 519.03 252.80 
L 519.44 241.93 
L 519.84 243.38 
L 520.25 246.55 
L 520.65 246.31 
L 521.06 244.03 
L 521.46 246.48 
L 521.87 247.07 
L 522.27 254.65 
L 522.68 253.92 
L 523.08 242.75 
L 523.49 249.98 
L 524.30 233.52 
L 524.70 246.86 
L 525.11 243.64 
L 525.51 226.55 
L 525.92 236.39 
L 526.32 227.38 
L 526.73 228.62 
L 527.94 250.94 
L 528.35 252.64 
L 528.75 243.30 
L 529.16 241.45 
L 529.56 246.41 
L 529.97 238.23 
L 530.37 248.99 
L 530.78 236.12 
L 531.18 244.15 
L 531.59 245.73 
L 531.99 245.69 
L 532.40 246.42 
L 532.80 224.62 
L 533.21 252.65 
L 533.61 245.75 
L 534.02 234.10 
L 534.42 183.56 
L 534.83 246.91 
L 535.24 229.62 
L 535.64 250.82 
L 536.05 253.30 
L 536.45 242.85 
L 536.86 253.22 
L 537.26 255.53 
L 537.67 241.62 
L 538.07 238.22 
L 538.48 237.98 
L 538.88 248.23 
L 539.29 244.68 
L 539.69 251.45 
L 540.10 230.73 
L 540.50 236.21 
L 540.91 237.57 
L 541.31 254.40 
L 542.12 230.90 
L 542.53 205.14 
L 542.93 236.44 
L 543.34 244.52 
L 543.74 247.97 
L 544.15 241.08 
L 544.55 241.88 
L 544.96 243.25 
L 545.36 247.59 
L 545.77 230.27 
L 546.17 220.84 
L 546.58 246.87 
L 546.98 249.72 
L 547.39 237.11 
L 547.79 230.92 
L 548.20 231.80 
L 548.60 236.74 
L 549.01 252.71 
L 549.41 228.14 
L 549.82 238.58 
L 550.22 245.59 
L 550.63 245.50 
L 551.03 248.08 
L 551.44 242.69 
L 551.84 242.75 
L 552.25 247.87 
L 552.65 255.55 
L 553.46 242.35 
L 553.87 240.75 
L 554.27 246.17 
L 554.68 242.08 
L 555.08 192.98 
L 555.49 247.88 
L 555.89 232.37 
L 556.30 254.22 
L 556.70 253.60 
L 557.11 252.24 
L 557.51 255.55 
L 557.92 253.19 
L 558.32 236.11 
L 558.73 232.59 
L 559.13 243.24 
L 559.54 229.17 
L 559.94 241.53 
L 560.35 248.63 
L 560.75 244.29 
L 561.16 246.50 
L 561.56 239.44 
L 561.97 253.20 
L 562.37 238.69 
L 562.78 248.11 
L 563.18 238.55 
L 563.59 205.14 
L 563.99 249.88 
L 564.40 245.81 
L 564.80 237.55 
L 565.21 252.04 
L 565.61 231.55 
L 566.42 248.62 
L 566.83 234.97 
L 567.23 243.50 
L 568.04 224.50 
L 568.85 248.20 
L 569.26 248.99 
L 569.66 189.05 
L 570.07 242.76 
L 570.47 250.65 
L 570.88 250.69 
L 571.28 241.13 
L 571.69 224.81 
L 572.09 255.23 
L 572.50 242.60 
L 572.90 246.82 
L 573.31 239.05 
L 573.71 236.70 
L 574.52 251.63 
L 574.93 208.28 
L 575.33 254.99 
L 575.74 237.47 
L 576.14 246.23 
L 576.55 249.42 
L 576.95 248.24 
L 577.36 253.19 
L 577.76 244.94 
L 578.17 233.22 
L 578.57 233.17 
L 578.98 253.09 
L 579.38 234.92 
L 579.79 249.65 
L 580.2 254.81 
L 581.01 252.48 
L 581.41 247.05 
L 581.82 194.15 
L 582.22 254.03 
L 582.63 249.20 
L 583.03 228.51 
L 583.44 248.65 
L 583.84 242.45 
L 584.25 244.59 
L 584.65 223.89 
L 585.06 253.52 
L 585.46 237.84 
L 585.87 252.31 
L 586.27 250.59 
L 586.68 247.23 
L 587.08 223.06 
L 587.49 247.77 
L 587.89 254.67 
L 588.30 236.43 
L 588.70 250.19 
L 589.51 246.25 
L 589.92 245.02 
L 590.32 246.84 
L 590.73 243.76 
L 591.13 242.25 
L 591.54 237.36 
L 591.94 247.77 
L 592.35 250.72 
L 592.75 252.43 
L 593.16 242.33 
L 593.56 245.56 
L 593.97 241.06 
L 594.37 240.43 
L 594.78 229.07 
L 595.18 241.81 
L 595.59 238.34 
L 595.99 252.02 
L 596.40 252.66 
L 596.80 249.10 
L 597.21 252.84 
L 597.61 241.61 
L 598.02 213.77 
L 598.42 246.58 
L 598.83 255.45 
L 599.23 253.46 
L 599.64 249.47 
L 600.04 248.12 
L 600.45 254.47 
L 600.85 246.92 
L 601.26 237.03 
L 601.66 238.69 
L 602.07 249.35 
L 602.47 250.08 
L 602.88 252.82 
L 603.69 231.53 
L 604.09 247.84 
L 604.50 254.22 
L 605.31 239.65 
L 605.71 255.55 
L 606.12 247.53 
L 606.52 226.48 
L 606.93 213.77 
L 607.33 239.42 
L 607.74 241.48 
L 608.14 235.12 
L 608.55 250.61 
L 608.95 251.52 
L 609.36 243.60 
L 609.76 249.96 
L 610.17 244.42 
L 610.57 254.57 
L 610.98 241.80 
L 611.38 237.35 
L 611.79 244.27 
L 612.19 244.18 
L 612.60 230.20 
L 613.00 250.94 
L 613.81 252.68 
L 614.22 249.77 
L 614.62 252.12 
L 615.03 246.63 
L 615.84 253.69 
L 616.24 254.32 
L 616.65 237.08 
L 617.05 245.12 
L 617.46 247.26 
L 617.86 208.28 
L 618.27 246.30 
L 618.67 239.18 
L 619.08 239.90 
L 619.48 249.05 
L 619.89 251.23 
L 620.29 252.58 
L 620.70 253.33 
L 621.10 234.65 
L 621.51 250.45 
L 621.91 255.03 
L 622.32 252.36 
L 622.72 251.53 
L 623.13 244.23 
L 623.53 251.04 
L 623.94 242.41 
L 624.34 242.03 
L 625.16 225.10 
L 625.56 223.02 
L 625.97 228.63 
L 626.37 251.17 
L 626.78 249.34 
L 627.18 244.38 
L 627.59 226.69 
L 627.99 236.61 
L 628.40 233.04 
L 628.80 245.46 
L 629.21 240.69 
L 629.61 238.51 
L 630.02 248.07 
L 630.42 239.36 
L 630.83 234.72 
L 631.23 245.54 
L 632.04 228.88 
L 632.45 243.00 
L 633.66 250.06 
L 634.07 245.25 
L 634.47 248.52 
L 634.88 248.32 
L 635.69 254.01 
L 636.09 252.45 
L 636.50 199.26 
L 636.90 252.35 
L 637.31 250.87 
L 637.71 231.42 
L 638.12 233.01 
L 638.52 249.06 
L 638.93 241.30 
L 639.33 249.53 
L 639.74 231.20 
L 640.14 248.20 
L 640.55 245.46 
L 640.95 232.67 
L 641.36 249.81 
L 641.76 234.40 
L 642.17 249.90 
L 642.57 244.57 
L 642.98 247.66 
L 643.38 246.64 
L 643.79 244.59 
L 644.19 246.08 
L 644.60 199.26 
L 645.00 239.50 
L 645.41 238.30 
L 645.81 232.43 
L 646.22 230.69 
L 646.62 252.12 
L 647.03 235.31 
L 647.43 231.93 
L 647.84 247.92 
L 648.24 236.61 
L 648.65 230.50 
L 649.05 247.81 
L 649.46 253.29 
L 649.86 249.55 
L 650.27 223.81 
L 651.08 252.18 
L 651.48 248.62 
L 651.89 251.93 
L 652.29 249.46 
L 652.70 245.59 
L 653.10 255.51 
L 653.51 245.86 
L 653.91 232.46 
L 654.32 245.57 
L 654.72 248.37 
L 655.13 236.14 
L 655.53 252.15 
L 655.94 209.07 
L 656.34 253.84 
L 657.15 243.02 
L 657.56 245.98 
L 658.37 237.41 
L 658.77 240.31 
L 659.18 250.32 
L 659.58 248.33 
L 659.99 234.60 
L 660.39 251.09 
L 660.80 248.39 
L 661.20 248.96 
L 661.61 247.51 
L 662.01 252.16 
L 662.42 253.59 
L 662.82 225.30 
L 663.23 233.59 
L 663.63 249.22 
L 664.04 246.69 
L 664.44 240.08 
L 664.85 247.46 
L 665.25 213.77 
L 665.66 249.28 
L 666.06 248.73 
L 666.47 246.79 
L 666.87 248.99 
L 667.28 210.24 
L 667.68 248.22 
L 668.09 244.05 
L 668.49 241.51 
L 668.90 251.32 
L 669.30 244.06 
L 669.71 243.74 
L 670.12 254.20 
L 670.52 255.43 
L 670.93 244.85 
L 671.33 251.42 
L 672.14 225.62 
L 672.55 247.44 
L 672.95 250.38 
L 673.36 246.58 
L 673.76 240.08 
L 674.17 202.79 
L 674.57 235.61 
L 674.98 234.96 
L 675.38 238.23 
L 675.79 248.59 
L 676.19 238.02 
L 676.60 203.96 
L 677.00 251.91 
L 677.41 227.84 
L 677.81 245.76 
L 678.22 242.74 
L 678.62 248.93 
L 679.03 243.18 
L 679.43 234.45 
L 679.84 249.85 
L 680.24 215.34 
L 680.65 250.31 
L 681.05 253.25 
L 681.46 251.56 
L 681.86 247.65 
L 682.27 246.46 
L 682.67 233.79 
L 683.08 250.88 
L 683.48 243.88 
L 683.89 248.95 
L 684.29 233.60 
L 684.70 223.77 
L 685.10 239.52 
L 685.51 229.05 
L 685.91 247.59 
L 686.32 253.95 
L 686.72 214.17 
L 687.13 254.38 
L 687.53 252.60 
L 687.94 248.65 
L 688.34 235.64 
L 689.15 240.70 
L 689.56 248.07 
L 689.96 250.62 
L 690.37 246.30 
L 691.18 243.51 
L 691.58 242.35 
L 691.99 246.10 
L 692.39 254.67 
L 693.20 251.84 
L 693.61 231.21 
L 694.01 247.12 
L 694.42 240.19 
L 694.82 231.02 
L 695.23 209.07 
L 695.63 247.89 
L 696.04 248.10 
L 696.44 252.00 
L 696.85 244.55 
L 697.25 235.01 
L 697.66 239.20 
L 698.06 237.72 
L 698.47 238.06 
L 698.87 226.44 
L 699.28 247.93 
L 699.68 244.83 
L 700.49 233.00 
L 700.90 255.17 
L 701.30 251.03 
L 701.71 248.08 
L 702.11 252.03 
L 702.52 239.79 
L 702.92 243.12 
L 703.73 254.08 
L 704.14 253.77 
L 704.54 252.58 
L 704.95 215.34 
L 705.35 252.42 
L 705.76 255.20 
L 706.16 254.34 
L 706.57 251.06 
L 706.97 231.18 
L 707.38 223.74 
L 707.78 246.21 
L 708.19 237.20 
L 708.59 231.21 
L 709.00 231.45 
L 709.40 244.83 
L 709.81 252.82 
L 710.21 250.15 
L 710.62 254.73 
L 711.43 238.92 
L 711.83 254.31 
L 712.24 247.96 
L 712.64 243.76 
L 713.05 233.68 
L 713.45 230.92 
L 713.86 236.14 
L 714.26 249.30 
L 714.67 248.80 
L 715.08 235.14 
L 715.48 248.72 
L 715.89 246.48 
L 716.29 231.18 
L 716.70 242.80 
L 717.10 205.14 
L 717.51 249.08 
L 717.91 240.97 
L 718.32 246.47 
L 718.72 235.05 
L 719.13 232.05 
L 719.53 248.70 
L 719.94 249.52 
L 720.34 247.07 
L 720.75 252.61 
L 721.15 244.17 
L 721.56 246.80 
L 721.96 217.70 
L 722.37 249.03 
L 722.77 251.48 
L 723.18 229.80 
L 723.58 249.84 
L 723.99 250.14 
L 724.39 250.93 
L 724.80 248.68 
L 725.20 251.60 
L 725.61 247.09 
L 726.01 250.43 
L 726.42 249.28 
L 727.23 239.18 
L 727.63 240.84 
L 728.04 249.97 
L 728.44 243.30 
L 728.85 246.25 
L 729.25 246.56 
L 729.66 254.22 
L 730.06 242.37 
L 730.47 246.26 
L 730.87 229.80 
L 731.28 237.60 
L 731.68 251.61 
L 732.09 253.60 
L 732.49 237.30 
L 732.90 250.44 
L 733.30 240.89 
L 733.71 247.25 
L 734.11 226.84 
L 734.52 242.54 
L 734.92 230.90 
L 735.33 230.94 
L 735.73 247.33 
L 736.14 248.23 
L 736.54 232.22 
L 736.95 243.94 
L 737.35 250.90 
L 737.76 203.96 
L 738.57 242.55 
L 738.97 231.83 
L 739.38 245.05 
L 740.19 216.91 
L 740.59 232.93 
L 741.40 245.90 
L 741.81 243.54 
L 742.21 248.87 
L 742.62 252.31 
L 743.02 252.44 
L 743.43 247.05 
L 743.83 251.84 
L 744.24 242.98 
L 744.64 240.26 
L 745.05 240.40 
L 745.45 248.13 
L 745.86 245.17 
L 746.26 245.32 
L 746.67 232.62 
L 747.07 249.31 
L 747.48 248.48 
L 748.29 246.50 
L 748.69 250.24 
L 749.10 250.06 
L 749.50 236.66 
L 749.91 248.63 
L 750.72 225.76 
L 751.12 229.88 
L 751.53 220.05 
L 751.93 240.42 
L 752.34 240.22 
L 752.74 239.51 
L 753.15 253.37 
L 753.55 240.51 
L 753.96 251.37 
L 754.36 234.27 
L 754.77 233.30 
L 755.17 223.55 
L 755.58 244.88 
L 755.98 253.35 
L 756.39 237.56 
L 756.79 235.77 
L 757.20 246.84 
L 757.60 232.56 
L 758.01 236.89 
L 758.41 252.03 
L 758.82 248.82 
L 759.22 248.82 
L 760.04 243.82 
L 760.44 249.69 
L 760.85 247.33 
L 761.25 240.47 
L 761.66 245.06 
L 762.06 247.13 
L 762.47 247.66 
L 762.87 246.28 
L 763.28 216.13 
L 763.68 246.12 
L 764.09 251.59 
L 764.49 245.53 
L 764.90 253.24 
L 765.30 238.89 
L 765.71 242.34 
L 766.11 252.61 
L 766.52 244.80 
L 766.92 250.15 
L 767.33 229.23 
L 768.14 249.78 
L 768.54 244.16 
L 768.95 245.23 
L 769.35 233.84 
L 769.76 240.53 
L 770.16 239.95 
L 770.57 251.49 
L 770.97 239.49 
L 771.38 202.00 
L 771.78 236.07 
L 772.19 244.25 
L 772.59 243.65 
L 773.00 210.63 
L 773.40 244.70 
L 773.81 251.74 
L 774.21 245.98 
L 774.62 248.01 
L 775.02 250.82 
L 775.43 241.33 
L 775.83 253.02 
L 776.24 246.96 
L 776.64 252.80 
L 777.05 229.69 
L 777.45 225.45 
L 777.86 233.92 
L 778.26 226.29 
L 778.67 236.65 
L 779.07 239.02 
L 779.48 247.45 
L 779.88 202.79 
L 780.29 245.17 
L 780.69 248.85 
L 781.10 248.74 
L 781.50 239.31 
L 781.91 245.30 
L 782.31 253.49 
L 782.72 248.32 
L 783.12 250.53 
L 783.53 248.12 
L 783.93 252.04 
L 784.34 235.48 
L 784.74 226.43 
L 785.15 250.39 
L 785.55 210.63 
L 785.96 239.08 
L 786.36 251.23 
L 786.77 245.44 
L 787.17 231.80 
L 787.58 235.18 
L 787.98 228.46 
L 788.39 250.91 
L 788.79 250.81 
L 789.20 243.87 
L 789.60 242.03 
L 790.01 244.51 
L 790.41 247.88 
L 790.82 195.33 
L 791.22 249.76 
L 791.63 242.33 
L 792.03 255.56 
L 792.44 233.96 
L 792.84 247.75 
L 793.25 253.28 
L 793.65 242.61 
L 794.06 252.86 
L 794.46 243.79 
L 794.87 247.95 
L 795.27 240.73 
L 795.68 237.29 
L 796.08 231.81 
L 796.49 247.35 
L 796.89 247.72 
L 797.30 245.77 
L 797.70 253.13 
L 798.11 242.22 
L 798.51 243.85 
L 798.92 252.75 
L 799.32 178.85 
L 799.73 231.00 
L 800.13 251.88 
L 800.94 233.00 
L 801.35 235.71 
L 801.75 250.68 
L 802.16 253.47 
L 802.56 247.85 
L 802.97 249.16 
L 803.37 205.14 
L 803.78 246.26 
L 804.18 241.13 
L 804.59 248.79 
L 805 247.13 
L 805.40 223.27 
L 805.81 242.92 
L 806.21 197.29 
L 806.62 242.11 
L 807.02 243.20 
L 807.43 250.94 
L 807.83 242.21 
L 808.24 245.38 
L 808.64 238.07 
L 809.05 225.99 
L 809.45 241.20 
L 809.86 237.88 
L 810.26 251.10 
L 810.67 245.60 
L 811.07 208.28 
L 811.48 244.12 
L 811.88 249.61 
L 812.29 244.58 
L 812.69 246.72 
L 813.10 247.42 
L 813.50 248.40 
L 813.91 227.69 
L 814.31 249.45 
L 814.72 248.96 
L 815.12 249.81 
L 815.53 234.82 
L 815.93 246.29 
L 816.34 233.41 
L 816.74 242.58 
L 817.15 245.25 
L 817.55 253.31 
L 817.96 236.33 
L 818.36 239.48 
L 818.77 241.27 
L 819.17 245.80 
L 819.58 248.48 
L 819.98 252.89 
L 820.39 238.90 
L 820.79 242.41 
L 821.20 247.68 
L 821.60 249.98 
L 822.01 245.38 
L 822.41 246.16 
L 822.82 230.16 
L 823.22 236.07 
L 823.63 248.61 
L 824.03 252.29 
L 824.44 248.41 
L 824.84 251.46 
L 825.25 246.01 
L 826.06 239.41 
L 826.46 241.14 
L 826.87 246.31 
L 827.27 240.52 
L 827.68 250.62 
L 828.08 246.92 
L 828.49 238.45 
L 828.89 242.14 
L 829.30 252.42 
L 829.70 252.88 
L 830.11 254.32 
L 830.92 204.75 
L 831.32 247.84 
L 831.73 228.71 
L 832.13 232.75 
L 832.54 231.07 
L 832.94 247.38 
L 833.35 239.26 
L 833.75 223.04 
L 834.16 241.80 
L 834.56 241.41 
L 834.97 247.17 
L 835.37 245.75 
L 835.78 242.40 
L 836.18 231.77 
L 836.59 249.94 
L 836.99 253.50 
L 837.40 246.88 
L 837.80 243.98 
L 838.21 231.80 
L 838.61 236.76 
L 839.02 248.76 
L 839.83 234.19 
L 840.64 247.34 
L 841.04 208.67 
L 841.45 247.26 
L 841.85 254.52 
L 842.26 235.63 
L 842.66 252.07 
L 843.07 248.89 
L 843.47 248.18 
L 843.88 248.20 
L 844.28 247.87 
L 844.69 253.39 
L 845.09 216.13 
L 845.50 244.84 
L 845.90 245.02 
L 846.31 235.36 
L 846.71 233.58 
L 847.12 231.01 
L 847.52 226.56 
L 848.33 253.18 
L 848.74 245.43 
L 849.14 245.33 
L 849.55 244.88 
L 849.96 249.45 
L 849.96 249.45 
" clip-path="url(#pd38983baa3)" style="fill: none; stroke: #1f77b4; stroke-opacity: 0.35; stroke-width: 1.23; stroke-linecap: square"/>
   </g>
   <g id="patch_18">
    <path d="M 445.32 260.28 
L 445.32 162.36 
" style="fill: none; stroke: #000000; stroke-width: 0.8; stroke-linejoin: miter; stroke-linecap: square"/>
   </g>
   <g id="patch_19">
    <path d="M 849.96 260.28 
L 849.96 162.36 
" style="fill: none; stroke: #000000; stroke-width: 0.8; stroke-linejoin: miter; stroke-linecap: square"/>
   </g>
   <g id="patch_20">
    <path d="M 445.32 260.28 
L 849.96 260.28 
" style="fill: none; stroke: #000000; stroke-width: 0.8; stroke-linejoin: miter; stroke-linecap: square"/>
   </g>
   <g id="patch_21">
    <path d="M 445.32 162.36 
L 849.96 162.36 
" style="fill: none; stroke: #000000; stroke-width: 0.8; stroke-linejoin: miter; stroke-linecap: square"/>
   </g>
   <g id="text_30">
    <text style="font-size: 11.43px; font-family: 'DejaVu Sans', 'Liberation Sans', sans-serif; text-anchor: middle" x="647.64" y="156.36">tau</text>
   </g>
  </g>
  <g id="axes_5">
   <g id="patch_22">
    <path d="M 7.56 400.68 
L 412.2 400.68 
L 412.2 302.76 
L 7.56 302.76 
z
" style="fill: #ffffff"/>
   </g>
   <g id="matplotlib.axis_9">
    <g id="xtick_21">
     <g id="line2d_31">
      <g>
       <use href="#m1504cfccaf" x="18.36" y="400.68" style="stroke: #000000; stroke-width: 0.8"/>
      </g>
     </g>
     <g id="text_31">
      <text style="font-size: 10px; font-family: 'DejaVu Sans', 'Liberation Sans', sans-serif; text-anchor: middle" x="17.86" y="415.28">−<tspan dx="-1.00">3</tspan></text>
     </g>
    </g>
    <g id="xtick_22">
     <g id="line2d_32">
      <g>
       <use href="#m1504cfccaf" x="70.92" y="400.68" style="stroke: #000000; stroke-width: 0.8"/>
      </g>
     </g>
     <g id="text_32">
      <text style="font-size: 10px; font-family: 'DejaVu Sans', 'Liberation Sans', sans-serif; text-anchor: middle" x="70.42" y="415.28">−<tspan dx="-1.00">2</tspan></text>
     </g>
    </g>
    <g id="xtick_23">
     <g id="line2d_33">
      <g>
       <use href="#m1504cfccaf" x="123.48" y="400.68" style="stroke: #000000; stroke-width: 0.8"/>
      </g>
     </g>
     <g id="text_33">
      <text style="font-size: 10px; font-family: 'DejaVu Sans', 'Liberation Sans', sans-serif; text-anchor: middle" x="122.98" y="415.28">−<tspan dx="-1.00">1</tspan></text>
     </g>
    </g>
    <g id="xtick_24">
     <g id="line2d_34">
      <g>
       <use href="#m1504cfccaf" x="176.04" y="400.68" style="stroke: #000000; stroke-width: 0.8"/>
      </g>
     </g>
     <g id="text_34">
      <text style="font-size: 10px; font-family: 'DejaVu Sans', 'Liberation Sans', sans-serif; text-anchor: middle" x="176.04" y="415.28">0</text>
     </g>
    </g>
    <g id="xtick_25">
     <g id="line2d_35">
      <g>
       <use href="#m1504cfccaf" x="227.88" y="400.68" style="stroke: #000000; stroke-width: 0.8"/>
      </g>
     </g>
     <g id="text_35">
      <text style="font-size: 10px; font-family: 'DejaVu Sans', 'Liberation Sans', sans-serif; text-anchor: middle" x="227.88" y="415.28">1</text>
     </g>
    </g>
    <g id="xtick_26">
     <g id="line2d_36">
      <g>
       <use href="#m1504cfccaf" x="280.44" y="400.68" style="stroke: #000000; stroke-width: 0.8"/>
      </g>
     </g>
     <g id="text_36">
      <text style="font-size: 10px; font-family: 'DejaVu Sans', 'Liberation Sans', sans-serif; text-anchor: middle" x="280.44" y="415.28">2</text>
     </g>
    </g>
    <g id="xtick_27">
     <g id="line2d_37">
      <g>
       <use href="#m1504cfccaf" x="333.00" y="400.68" style="stroke: #000000; stroke-width: 0.8"/>
      </g>
     </g>
     <g id="text_37">
      <text style="font-size: 10px; font-family: 'DejaVu Sans', 'Liberation Sans', sans-serif; text-anchor: middle" x="333.00" y="415.28">3</text>
     </g>
    </g>
    <g id="xtick_28">
     <g id="line2d_38">
      <g>
       <use href="#m1504cfccaf" x="385.56" y="400.68" style="stroke: #000000; stroke-width: 0.8"/>
      </g>
     </g>
     <g id="text_38">
      <text style="font-size: 10px; font-family: 'DejaVu Sans', 'Liberation Sans', sans-serif; text-anchor: middle" x="386.28" y="415.28">4</text>
     </g>
    </g>
   </g>
   <g id="matplotlib.axis_10"/>
   <g id="line2d_39">
    <path d="M 88.2 391.79 
L 91.54 391.36 
L 95.72 390.58 
L 99.90 389.52 
L 104.08 388.20 
L 108.27 386.61 
L 112.45 384.78 
L 116.63 382.71 
L 120.81 380.41 
L 124.99 377.89 
L 129.17 375.14 
L 133.36 372.12 
L 137.54 368.81 
L 141.72 365.17 
L 145.90 361.17 
L 149.25 357.69 
L 152.59 353.95 
L 156.77 348.90 
L 165.97 337.52 
L 169.32 333.79 
L 171.83 331.30 
L 174.33 329.13 
L 176.84 327.27 
L 179.35 325.69 
L 181.86 324.36 
L 184.37 323.23 
L 187.72 322.01 
L 191.06 321.05 
L 194.41 320.37 
L 196.92 320.07 
L 199.42 319.95 
L 201.93 320.04 
L 204.44 320.34 
L 206.95 320.86 
L 209.46 321.63 
L 211.97 322.64 
L 214.48 323.92 
L 216.99 325.48 
L 219.50 327.32 
L 222.00 329.41 
L 225.35 332.51 
L 229.53 336.71 
L 238.73 346.12 
L 242.91 350.02 
L 247.93 354.39 
L 255.46 360.59 
L 262.98 366.51 
L 269.67 371.49 
L 275.53 375.57 
L 281.38 379.36 
L 286.40 382.35 
L 291.42 385.07 
L 296.44 387.49 
L 300.62 389.28 
L 304.80 390.85 
L 308.98 392.17 
L 313.16 393.24 
L 317.34 394.05 
L 321.52 394.59 
L 324.87 394.81 
L 328.22 394.85 
L 331.56 394.68 
L 334.91 394.32 
L 338.25 393.75 
L 338.25 393.75 
" clip-path="url(#pd3d91a87b0)" style="fill: none; stroke: #1f77b4; stroke-width: 1.12; stroke-linecap: square"/>
   </g>
   <g id="line2d_40">
    <path d="M 25.2 395.40 
L 29.14 395.09 
L 34.07 394.93 
L 39.98 394.99 
L 48.85 395.37 
L 58.71 395.77 
L 64.62 395.79 
L 69.55 395.59 
L 73.49 395.23 
L 77.43 394.67 
L 81.37 393.87 
L 85.32 392.82 
L 90.24 391.27 
L 99.12 388.19 
L 105.03 385.90 
L 108.97 384.18 
L 112.91 382.23 
L 116.86 380.01 
L 120.80 377.46 
L 123.76 375.32 
L 126.71 372.94 
L 129.67 370.32 
L 132.63 367.45 
L 135.58 364.30 
L 139.53 359.79 
L 158.25 337.81 
L 162.19 333.62 
L 166.14 329.74 
L 170.08 326.19 
L 174.02 322.98 
L 176.98 320.83 
L 179.94 318.89 
L 182.89 317.18 
L 185.85 315.71 
L 188.81 314.49 
L 191.76 313.51 
L 194.72 312.81 
L 196.69 312.52 
L 198.66 312.40 
L 200.63 312.50 
L 202.60 312.84 
L 204.58 313.45 
L 206.55 314.35 
L 208.52 315.59 
L 210.49 317.19 
L 212.46 319.15 
L 214.43 321.40 
L 217.39 325.12 
L 226.26 336.55 
L 232.17 343.74 
L 238.09 350.64 
L 243.01 356.03 
L 246.96 359.99 
L 251.88 364.55 
L 261.74 373.21 
L 269.63 380.32 
L 273.57 383.72 
L 276.52 385.99 
L 279.48 387.95 
L 282.44 389.62 
L 285.39 391.00 
L 288.35 392.08 
L 291.31 392.91 
L 294.27 393.52 
L 298.21 394.05 
L 302.15 394.34 
L 309.05 394.57 
L 315.95 394.84 
L 319.89 395.20 
L 319.89 395.20 
" clip-path="url(#pd3d91a87b0)" style="fill: none; stroke: #ff7f0e; stroke-width: 1.12; stroke-linecap: square"/>
   </g>
   <g id="line2d_41">
    <path d="M 33.98 394.67 
L 39.18 394.24 
L 45.26 393.97 
L 65.21 393.33 
L 70.42 392.82 
L 74.76 392.17 
L 79.09 391.25 
L 82.57 390.30 
L 86.04 389.12 
L 89.51 387.70 
L 92.98 386.01 
L 96.45 384.02 
L 99.92 381.71 
L 103.39 379.05 
L 106.86 376.02 
L 110.33 372.60 
L 113.80 368.76 
L 119.00 362.46 
L 130.28 348.63 
L 133.75 343.86 
L 137.22 338.73 
L 145.03 326.83 
L 146.77 324.54 
L 148.50 322.52 
L 150.24 320.79 
L 151.97 319.30 
L 153.71 318.03 
L 156.31 316.45 
L 158.92 315.15 
L 162.39 313.68 
L 169.33 310.85 
L 174.53 308.50 
L 176.27 307.91 
L 178.00 307.56 
L 179.74 307.50 
L 181.47 307.79 
L 183.21 308.39 
L 184.94 309.26 
L 186.68 310.38 
L 189.28 312.44 
L 191.88 314.86 
L 194.49 317.60 
L 197.09 320.62 
L 200.56 325.02 
L 204.90 330.97 
L 210.97 339.81 
L 220.52 353.75 
L 224.85 359.67 
L 229.19 365.20 
L 232.66 369.32 
L 236.13 373.15 
L 239.60 376.67 
L 243.07 379.87 
L 246.54 382.73 
L 250.01 385.22 
L 252.62 386.85 
L 255.22 388.27 
L 257.82 389.49 
L 261.29 390.83 
L 264.76 391.89 
L 268.23 392.70 
L 271.70 393.30 
L 276.04 393.81 
L 281.25 394.18 
L 290.79 394.53 
L 293.4 394.63 
L 293.4 394.63 
" clip-path="url(#pd3d91a87b0)" style="fill: none; stroke: #2ca02c; stroke-width: 1.12; stroke-linecap: square"/>
   </g>
   <g id="line2d_42">
    <path d="M 40.39 394.13 
L 46.71 394.76 
L 52.12 395.10 
L 57.54 395.23 
L 62.96 395.15 
L 68.37 394.82 
L 73.79 394.23 
L 78.30 393.53 
L 82.82 392.62 
L 87.33 391.50 
L 91.84 390.16 
L 96.36 388.58 
L 100.87 386.75 
L 105.39 384.67 
L 109.90 382.32 
L 114.41 379.69 
L 118.93 376.78 
L 123.44 373.57 
L 127.96 370.04 
L 132.47 366.21 
L 137.89 361.28 
L 145.11 354.37 
L 154.14 345.46 
L 156.84 342.47 
L 159.55 339.13 
L 162.26 335.32 
L 164.97 330.95 
L 170.39 321.94 
L 172.19 319.35 
L 174.00 317.16 
L 175.80 315.38 
L 177.61 313.96 
L 179.41 312.86 
L 181.22 312.07 
L 183.02 311.54 
L 184.83 311.24 
L 186.64 311.13 
L 188.44 311.19 
L 190.25 311.42 
L 192.96 312.05 
L 195.66 312.98 
L 198.37 314.19 
L 201.08 315.64 
L 204.69 317.88 
L 208.30 320.42 
L 212.82 323.87 
L 219.14 329.01 
L 222.75 332.20 
L 226.36 335.73 
L 229.07 338.66 
L 231.77 341.90 
L 234.48 345.48 
L 238.09 350.65 
L 246.22 362.57 
L 248.93 366.19 
L 251.64 369.44 
L 254.34 372.33 
L 257.05 374.90 
L 259.76 377.17 
L 262.47 379.18 
L 265.18 380.95 
L 268.79 382.99 
L 272.40 384.75 
L 276.91 386.64 
L 282.33 388.64 
L 287.75 390.44 
L 292.26 391.70 
L 295.87 392.51 
L 299.48 393.10 
L 303.09 393.45 
L 306.70 393.52 
L 309.41 393.37 
L 310.32 393.28 
L 310.32 393.28 
" clip-path="url(#pd3d91a87b0)" style="fill: none; stroke: #d62728; stroke-width: 1.12; stroke-linecap: square"/>
   </g>
   <g id="line2d_43">
    <path d="M 55.29 394.36 
L 62.74 394.48 
L 67.96 394.34 
L 72.43 393.97 
L 76.15 393.44 
L 79.88 392.68 
L 82.86 391.86 
L 85.84 390.84 
L 88.82 389.61 
L 91.80 388.14 
L 94.78 386.41 
L 97.76 384.40 
L 100.74 382.09 
L 103.72 379.47 
L 106.70 376.51 
L 109.68 373.19 
L 112.66 369.50 
L 120.11 359.74 
L 122.34 357.38 
L 125.33 354.67 
L 129.80 350.67 
L 132.03 348.35 
L 135.01 344.87 
L 138.74 340.10 
L 149.91 325.41 
L 153.64 321.02 
L 156.62 317.82 
L 159.60 314.93 
L 162.58 312.40 
L 164.81 310.76 
L 167.05 309.35 
L 169.28 308.20 
L 171.52 307.32 
L 173.75 306.73 
L 175.99 306.44 
L 178.22 306.48 
L 179.71 306.70 
L 181.20 307.07 
L 182.69 307.60 
L 184.18 308.30 
L 186.42 309.66 
L 188.65 311.38 
L 190.89 313.43 
L 193.12 315.76 
L 196.10 319.23 
L 199.08 323.05 
L 203.55 329.21 
L 215.48 345.99 
L 219.20 350.69 
L 222.93 355.03 
L 227.40 359.90 
L 234.10 366.82 
L 241.55 374.54 
L 249.00 382.40 
L 251.98 385.14 
L 254.22 386.87 
L 256.45 388.24 
L 258.69 389.25 
L 260.92 389.94 
L 263.16 390.39 
L 266.14 390.72 
L 275.82 391.41 
L 278.06 391.88 
L 278.06 391.88 
" clip-path="url(#pd3d91a87b0)" style="fill: none; stroke: #9467bd; stroke-width: 1.12; stroke-linecap: square"/>
   </g>
   <g id="line2d_44">
    <path d="M 50.47 393.58 
L 54.53 394.10 
L 58.59 394.35 
L 62.65 394.34 
L 66.72 394.06 
L 70.78 393.54 
L 74.84 392.76 
L 78.90 391.75 
L 82.97 390.50 
L 87.03 389.02 
L 91.09 387.32 
L 95.15 385.40 
L 99.22 383.27 
L 103.28 380.89 
L 106.53 378.74 
L 109.78 376.30 
L 113.03 373.50 
L 116.28 370.32 
L 120.34 365.94 
L 126.03 359.39 
L 130.90 353.45 
L 134.96 348.14 
L 139.84 341.36 
L 149.59 327.68 
L 153.65 322.42 
L 156.90 318.60 
L 159.34 316.02 
L 161.78 313.73 
L 164.21 311.78 
L 166.65 310.19 
L 169.09 308.96 
L 171.52 308.09 
L 173.15 307.71 
L 174.77 307.49 
L 176.40 307.43 
L 178.02 307.52 
L 179.65 307.77 
L 181.27 308.17 
L 183.71 309.05 
L 186.15 310.28 
L 188.59 311.84 
L 191.02 313.73 
L 193.46 315.96 
L 195.90 318.49 
L 199.15 322.24 
L 203.21 327.34 
L 213.77 340.91 
L 217.02 344.63 
L 221.09 348.88 
L 225.96 353.98 
L 230.02 358.60 
L 238.15 368.34 
L 243.02 374.01 
L 247.08 378.37 
L 250.33 381.51 
L 252.77 383.62 
L 255.21 385.48 
L 257.65 387.08 
L 260.08 388.41 
L 262.52 389.51 
L 264.96 390.41 
L 268.21 391.34 
L 271.46 392.01 
L 275.52 392.60 
L 282.02 393.24 
L 287.71 393.86 
L 291.77 394.52 
L 293.4 394.88 
L 293.4 394.88 
" clip-path="url(#pd3d91a87b0)" style="fill: none; stroke: #8c564b; stroke-width: 1.12; stroke-linecap: square"/>
   </g>
   <g id="line2d_45">
    <path d="M 84.96 392.95 
L 91.16 391.97 
L 104.61 390.03 
L 109.78 389.02 
L 115.98 387.56 
L 123.22 385.57 
L 131.50 383.05 
L 135.63 381.59 
L 138.74 380.30 
L 141.84 378.78 
L 144.94 376.95 
L 148.04 374.76 
L 150.11 373.06 
L 153.22 370.16 
L 156.32 366.93 
L 167.69 354.65 
L 171.83 350.72 
L 175.97 347.16 
L 180.11 343.95 
L 184.24 341.07 
L 188.38 338.51 
L 192.52 336.24 
L 196.65 334.26 
L 200.79 332.54 
L 204.93 331.08 
L 209.06 329.86 
L 213.20 328.92 
L 216.30 328.40 
L 219.41 328.07 
L 222.51 327.92 
L 225.61 327.98 
L 228.72 328.25 
L 231.82 328.74 
L 234.92 329.46 
L 238.02 330.42 
L 241.13 331.65 
L 244.23 333.13 
L 247.33 334.89 
L 250.43 336.88 
L 254.57 339.86 
L 258.71 343.16 
L 263.88 347.63 
L 270.09 353.33 
L 286.63 368.76 
L 291.80 373.18 
L 295.94 376.43 
L 300.08 379.35 
L 303.18 381.29 
L 306.28 383.03 
L 310.42 385.06 
L 314.56 386.79 
L 318.69 388.27 
L 322.83 389.54 
L 328.00 390.89 
L 334.21 392.24 
L 340.41 393.34 
L 346.62 394.20 
L 352.83 394.85 
L 360.06 395.38 
L 367.30 395.67 
L 375.58 395.79 
L 384.89 395.68 
L 394.2 395.41 
L 394.2 395.41 
" clip-path="url(#pd3d91a87b0)" style="fill: none; stroke: #e377c2; stroke-width: 1.12; stroke-linecap: square"/>
   </g>
   <g id="line2d_46">
    <path d="M 67.24 391.69 
L 71.38 391.52 
L 75.51 391.15 
L 79.64 390.56 
L 83.78 389.74 
L 87.91 388.69 
L 92.04 387.39 
L 96.18 385.84 
L 100.31 384.03 
L 104.44 381.94 
L 108.58 379.56 
L 112.71 376.90 
L 116.84 373.94 
L 120.98 370.66 
L 125.11 367.07 
L 129.24 363.14 
L 132.55 359.72 
L 135.86 355.99 
L 139.16 351.91 
L 142.47 347.45 
L 149.91 337.11 
L 152.39 334.08 
L 154.87 331.40 
L 158.18 328.22 
L 162.31 324.60 
L 166.44 321.30 
L 170.58 318.32 
L 174.71 315.64 
L 178.02 313.75 
L 180.50 312.59 
L 182.15 311.99 
L 183.80 311.58 
L 185.46 311.37 
L 187.11 311.39 
L 188.76 311.68 
L 190.42 312.24 
L 192.07 313.04 
L 193.72 314.06 
L 196.20 315.94 
L 198.68 318.17 
L 201.99 321.55 
L 206.95 327.07 
L 211.91 332.53 
L 215.22 335.81 
L 217.70 337.95 
L 221.83 341.12 
L 225.14 343.70 
L 227.62 345.91 
L 230.10 348.46 
L 232.58 351.32 
L 235.88 355.50 
L 247.46 370.76 
L 249.94 373.56 
L 252.42 376.10 
L 254.90 378.40 
L 257.38 380.47 
L 260.69 382.90 
L 263.99 384.98 
L 267.30 386.74 
L 270.61 388.22 
L 273.91 389.44 
L 277.22 390.44 
L 281.35 391.44 
L 285.49 392.20 
L 290.45 392.85 
L 295.41 393.27 
L 301.19 393.53 
L 309.46 393.64 
L 314.42 393.65 
L 314.42 393.65 
" clip-path="url(#pd3d91a87b0)" style="fill: none; stroke: #7f7f7f; stroke-width: 1.12; stroke-linecap: square"/>
   </g>
   <g id="patch_23">
    <path d="M 7.56 400.68 
L 7.56 302.76 
" style="fill: none; stroke: #000000; stroke-width: 0.8; stroke-linejoin: miter; stroke-linecap: square"/>
   </g>
   <g id="patch_24">
    <path d="M 412.2 400.68 
L 412.2 302.76 
" style="fill: none; stroke: #000000; stroke-width: 0.8; stroke-linejoin: miter; stroke-linecap: square"/>
   </g>
   <g id="patch_25">
    <path d="M 7.56 400.68 
L 412.2 400.68 
" style="fill: none; stroke: #000000; stroke-width: 0.8; stroke-linejoin: miter; stroke-linecap: square"/>
   </g>
   <g id="patch_26">
    <path d="M 7.56 302.76 
L 412.2 302.76 
" style="fill: none; stroke: #000000; stroke-width: 0.8; stroke-linejoin: miter; stroke-linecap: square"/>
   </g>
   <g id="text_39">
    <text style="font-size: 11.43px; font-family: 'DejaVu Sans', 'Liberation Sans', sans-serif; text-anchor: middle" x="209.88" y="296.76">z</text>
   </g>
  </g>
  <g id="axes_6">
   <g id="patch_27">
    <path d="M 445.32 400.68 
L 849.96 400.68 
L 849.96 302.76 
L 445.32 302.76 
z
" style="fill: #ffffff"/>
   </g>
   <g id="matplotlib.axis_11">
    <g id="xtick_29">
     <g id="line2d_47">
      <g>
       <use href="#m1504cfccaf" x="445.32" y="400.68" style="stroke: #000000; stroke-width: 0.8"/>
      </g>
     </g>
     <g id="text_40">
      <text style="font-size: 10px; font-family: 'DejaVu Sans', 'Liberation Sans', sans-serif; text-anchor: middle" x="445.32" y="415.28">0</text>
     </g>
    </g>
    <g id="xtick_30">
     <g id="line2d_48">
      <g>
       <use href="#m1504cfccaf" x="526.68" y="400.68" style="stroke: #000000; stroke-width: 0.8"/>
      </g>
     </g>
     <g id="text_41">
      <text style="font-size: 10px; font-family: 'DejaVu Sans', 'Liberation Sans', sans-serif; text-anchor: middle" x="525.96" y="415.28">200</text>
     </g>
    </g>
    <g id="xtick_31">
     <g id="line2d_49">
      <g>
       <use href="#m1504cfccaf" x="607.32" y="400.68" style="stroke: #000000; stroke-width: 0.8"/>
      </g>
     </g>
     <g id="text_42">
      <text style="font-size: 10px; font-family: 'DejaVu Sans', 'Liberation Sans', sans-serif; text-anchor: middle" x="607.32" y="415.28">400</text>
     </g>
    </g>
    <g id="xtick_32">
     <g id="line2d_50">
      <g>
       <use href="#m1504cfccaf" x="688.68" y="400.68" style="stroke: #000000; stroke-width: 0.8"/>
      </g>
     </g>
     <g id="text_43">
      <text style="font-size: 10px; font-family: 'DejaVu Sans', 'Liberation Sans', sans-serif; text-anchor: middle" x="687.96" y="415.28">600</text>
     </g>
    </g>
    <g id="xtick_33">
     <g id="line2d_51">
      <g>
       <use href="#m1504cfccaf" x="769.32" y="400.68" style="stroke: #000000; stroke-width: 0.8"/>
      </g>
     </g>
     <g id="text_44">
      <text style="font-size: 10px; font-family: 'DejaVu Sans', 'Liberation Sans', sans-serif; text-anchor: middle" x="769.32" y="415.28">800</text>
     </g>
    </g>
   </g>
   <g id="matplotlib.axis_12">
    <g id="ytick_7">
     <g id="line2d_52">
      <g>
       <use href="#m5d545ce8f8" x="445.32" y="385.56" style="stroke: #000000; stroke-width: 0.8"/>
      </g>
     </g>
     <g id="text_45">
      <text style="font-size: 10px; font-family: 'DejaVu Sans', 'Liberation Sans', sans-serif; text-anchor: end" x="437.32" y="389.36">−<tspan dx="-1.00">2</tspan></text>
     </g>
    </g>
    <g id="ytick_8">
     <g id="line2d_53">
      <g>
       <use href="#m5d545ce8f8" x="445.32" y="360.36" style="stroke: #000000; stroke-width: 0.8"/>
      </g>
     </g>
     <g id="text_46">
      <text style="font-size: 10px; font-family: 'DejaVu Sans', 'Liberation Sans', sans-serif; text-anchor: end" x="438.32" y="363.92">0</text>
     </g>
    </g>
    <g id="ytick_9">
     <g id="line2d_54">
      <g>
       <use href="#m5d545ce8f8" x="445.32" y="334.44" style="stroke: #000000; stroke-width: 0.8"/>
      </g>
     </g>
     <g id="text_47">
      <text style="font-size: 10px; font-family: 'DejaVu Sans', 'Liberation Sans', sans-serif; text-anchor: end" x="438.32" y="338.48">2</text>
     </g>
    </g>
    <g id="ytick_10">
     <g id="line2d_55">
      <g>
       <use href="#m5d545ce8f8" x="445.32" y="309.24" style="stroke: #000000; stroke-width: 0.8"/>
      </g>
     </g>
     <g id="text_48">
      <text style="font-size: 10px; font-family: 'DejaVu Sans', 'Liberation Sans', sans-serif; text-anchor: end" x="438.32" y="313.04">4</text>
     </g>
    </g>
   </g>
   <g id="line2d_56">
    <path d="M 445.32 363.18 
L 445.72 346.14 
L 446.13 342.34 
L 446.53 364.39 
L 446.94 349.11 
L 447.34 355.17 
L 447.75 358.09 
L 448.15 346.85 
L 448.96 359.68 
L 449.37 353.83 
L 449.77 374.51 
L 450.18 362.14 
L 450.58 359.36 
L 450.99 369.05 
L 451.39 353.54 
L 451.80 350.98 
L 452.20 359.99 
L 452.61 356.37 
L 453.01 346.91 
L 453.42 341.53 
L 453.82 360.78 
L 454.63 342.24 
L 455.44 362.01 
L 455.85 362.83 
L 456.25 358.37 
L 456.66 365.24 
L 457.06 333.43 
L 457.47 358.12 
L 457.87 350.44 
L 458.28 351.77 
L 458.68 346.98 
L 459.49 368.03 
L 459.90 332.39 
L 460.30 353.37 
L 460.71 352.82 
L 461.11 351.87 
L 461.52 339.96 
L 461.92 344.33 
L 462.33 340.18 
L 462.73 343.74 
L 463.14 351.49 
L 463.54 351.15 
L 464.35 374.88 
L 464.76 358.81 
L 465.16 365.77 
L 465.57 330.17 
L 466.38 339.19 
L 466.78 358.55 
L 467.19 333.02 
L 467.59 369.86 
L 468.00 368.34 
L 468.40 363.69 
L 468.81 365.07 
L 469.21 353.84 
L 469.62 352.03 
L 470.02 333.26 
L 470.43 340.98 
L 470.83 339.32 
L 471.64 355.12 
L 472.05 361.43 
L 472.45 370.66 
L 473.26 359.26 
L 473.67 346.39 
L 474.07 371.03 
L 474.48 370.13 
L 474.88 353.42 
L 475.29 364.99 
L 475.69 351.66 
L 476.10 358.27 
L 476.50 362.40 
L 476.91 368.91 
L 477.31 356.65 
L 477.72 362.01 
L 478.12 361.36 
L 478.53 361.54 
L 478.93 352.90 
L 479.34 352.43 
L 479.74 371.89 
L 480.15 357.68 
L 480.96 342.29 
L 481.36 344.40 
L 481.77 350.95 
L 482.17 365.75 
L 482.58 363.34 
L 482.98 345.14 
L 483.39 360.67 
L 483.79 343.56 
L 484.20 339.00 
L 484.60 363.79 
L 485.01 350.42 
L 485.41 354.98 
L 485.82 332.43 
L 486.22 342.70 
L 486.63 358.48 
L 487.03 350.22 
L 487.44 363.34 
L 487.84 356.72 
L 488.25 352.21 
L 488.65 352.36 
L 489.06 350.67 
L 489.87 374.26 
L 490.28 360.03 
L 490.68 364.03 
L 491.09 362.46 
L 491.49 332.08 
L 491.90 339.02 
L 492.71 369.19 
L 493.11 369.24 
L 493.52 351.83 
L 493.92 342.12 
L 494.33 356.08 
L 494.73 352.90 
L 495.14 351.30 
L 495.54 383.77 
L 495.95 372.63 
L 496.35 354.38 
L 496.76 349.82 
L 497.16 343.26 
L 497.57 348.83 
L 497.97 365.10 
L 498.38 361.35 
L 498.78 370.82 
L 499.19 353.79 
L 499.59 352.06 
L 500.00 348.43 
L 500.40 329.59 
L 500.81 367.01 
L 501.21 338.66 
L 501.62 350.70 
L 502.02 334.75 
L 502.43 347.49 
L 502.83 368.80 
L 503.24 346.95 
L 503.64 339.76 
L 504.05 329.97 
L 504.45 374.41 
L 504.86 387.97 
L 505.26 355.16 
L 505.67 351.28 
L 506.07 377.07 
L 506.48 352.11 
L 506.88 377.07 
L 507.29 366.04 
L 507.69 345.76 
L 508.10 372.39 
L 508.50 375.15 
L 508.91 361.02 
L 509.31 336.76 
L 509.72 334.80 
L 510.12 358.73 
L 510.53 343.65 
L 511.34 350.63 
L 511.74 350.00 
L 512.15 361.36 
L 512.55 346.22 
L 512.96 341.64 
L 513.36 330.17 
L 513.77 340.93 
L 514.17 377.07 
L 514.58 369.23 
L 514.98 352.16 
L 515.39 353.26 
L 515.79 373.46 
L 516.20 357.67 
L 516.60 358.36 
L 517.01 355.16 
L 517.41 355.62 
L 517.82 344.28 
L 518.22 337.09 
L 518.63 345.06 
L 519.03 364.90 
L 519.44 364.27 
L 519.84 362.14 
L 520.25 355.63 
L 520.65 358.88 
L 521.06 358.40 
L 521.46 364.22 
L 521.87 344.89 
L 522.27 343.93 
L 522.68 342.66 
L 523.08 353.94 
L 523.49 349.29 
L 523.89 363.22 
L 524.30 365.64 
L 524.70 361.06 
L 525.11 348.61 
L 525.51 384.54 
L 525.92 366.20 
L 526.32 354.43 
L 526.73 349.67 
L 527.13 351.99 
L 527.54 360.97 
L 527.94 354.19 
L 528.35 358.66 
L 528.75 358.10 
L 529.16 355.54 
L 529.56 346.14 
L 529.97 333.59 
L 530.37 335.07 
L 531.18 357.58 
L 531.59 357.80 
L 531.99 357.37 
L 532.40 341.78 
L 532.80 377.07 
L 533.21 354.24 
L 533.61 374.75 
L 534.42 339.73 
L 534.83 362.31 
L 535.24 377.07 
L 535.64 342.46 
L 536.05 336.44 
L 536.45 347.02 
L 536.86 339.54 
L 537.26 361.19 
L 537.67 341.95 
L 538.07 334.43 
L 538.48 345.20 
L 538.88 350.26 
L 539.29 339.56 
L 539.69 340.17 
L 540.10 384.92 
L 540.50 339.80 
L 540.91 344.59 
L 541.31 351.52 
L 541.72 339.46 
L 542.53 344.85 
L 542.93 358.65 
L 543.34 345.54 
L 543.74 364.87 
L 544.15 356.61 
L 544.55 372.08 
L 544.96 373.65 
L 545.36 351.42 
L 545.77 354.76 
L 546.17 353.31 
L 546.58 347.68 
L 546.98 349.75 
L 547.39 362.97 
L 547.79 354.28 
L 548.20 354.89 
L 548.60 359.72 
L 549.01 356.05 
L 549.41 358.23 
L 549.82 361.36 
L 550.22 358.44 
L 550.63 352.07 
L 551.03 331.85 
L 551.44 360.56 
L 551.84 349.20 
L 552.25 368.96 
L 552.65 338.16 
L 553.06 356.17 
L 553.46 352.87 
L 553.87 339.89 
L 554.27 341.83 
L 554.68 368.59 
L 555.08 349.67 
L 555.49 356.14 
L 555.89 347.67 
L 556.30 351.88 
L 556.70 345.92 
L 557.51 355.26 
L 557.92 341.26 
L 558.32 369.09 
L 558.73 360.23 
L 559.13 364.70 
L 559.54 356.78 
L 559.94 358.98 
L 560.35 356.23 
L 560.75 359.55 
L 561.16 359.66 
L 561.56 371.88 
L 561.97 356.37 
L 562.37 351.07 
L 562.78 360.14 
L 563.18 361.63 
L 563.59 361.65 
L 563.99 336.48 
L 564.40 350.41 
L 564.80 349.62 
L 565.21 356.91 
L 565.61 359.71 
L 566.02 363.85 
L 566.42 338.15 
L 566.83 321.32 
L 567.23 352.61 
L 567.64 354.26 
L 568.04 356.90 
L 568.45 370.82 
L 568.85 368.74 
L 569.26 344.96 
L 569.66 360.57 
L 570.07 345.23 
L 570.47 345.99 
L 570.88 347.08 
L 571.28 345.13 
L 571.69 365.90 
L 572.09 360.34 
L 572.50 347.46 
L 572.90 366.68 
L 573.31 337.14 
L 573.71 358.46 
L 574.12 355.28 
L 574.52 364.94 
L 574.93 351.34 
L 575.33 361.57 
L 575.74 357.50 
L 576.14 366.35 
L 576.55 342.30 
L 576.95 370.12 
L 577.36 350.95 
L 577.76 351.29 
L 578.17 349.16 
L 578.57 364.30 
L 578.98 343.88 
L 579.38 342.49 
L 579.79 351.31 
L 580.2 350.52 
L 580.60 355.48 
L 581.01 347.34 
L 581.41 362.08 
L 581.82 349.00 
L 582.22 349.27 
L 582.63 368.42 
L 583.03 377.07 
L 583.44 358.34 
L 583.84 356.31 
L 584.25 340.91 
L 584.65 352.25 
L 585.06 359.24 
L 585.46 368.88 
L 585.87 356.60 
L 586.27 360.54 
L 586.68 366.28 
L 587.08 356.69 
L 587.49 342.77 
L 587.89 352.05 
L 588.30 364.87 
L 588.70 351.75 
L 589.11 365.36 
L 589.51 371.77 
L 589.92 350.66 
L 590.32 359.63 
L 590.73 342.45 
L 591.13 349.67 
L 591.54 362.15 
L 591.94 352.62 
L 592.35 339.67 
L 592.75 354.78 
L 593.16 365.27 
L 593.56 362.19 
L 593.97 363.43 
L 594.37 367.42 
L 594.78 369.01 
L 595.18 351.15 
L 595.59 341.59 
L 595.99 356.81 
L 596.40 345.87 
L 596.80 343.33 
L 597.21 334.71 
L 597.61 354.24 
L 598.02 357.89 
L 598.42 350.01 
L 598.83 352.70 
L 599.23 350.77 
L 599.64 339.47 
L 600.04 357.32 
L 600.45 352.15 
L 600.85 364.18 
L 601.26 356.89 
L 601.66 361.48 
L 602.07 362.79 
L 602.47 357.38 
L 602.88 359.21 
L 603.28 350.68 
L 603.69 345.03 
L 604.09 368.89 
L 604.50 344.73 
L 604.90 376.04 
L 605.31 353.80 
L 605.71 346.42 
L 606.12 360.26 
L 606.52 357.22 
L 606.93 362.62 
L 607.33 345.28 
L 607.74 377.07 
L 608.14 367.53 
L 608.55 375.39 
L 608.95 354.35 
L 609.36 339.80 
L 609.76 339.54 
L 610.57 350.63 
L 610.98 361.83 
L 611.38 341.50 
L 611.79 346.14 
L 612.19 362.21 
L 612.60 368.34 
L 613.00 362.15 
L 613.41 343.09 
L 614.22 335.03 
L 614.62 360.48 
L 615.03 358.62 
L 615.43 339.33 
L 615.84 350.35 
L 616.24 345.44 
L 616.65 367.11 
L 617.05 359.38 
L 617.46 354.85 
L 617.86 357.99 
L 618.27 358.93 
L 618.67 371.69 
L 619.08 338.00 
L 619.48 350.99 
L 619.89 369.05 
L 620.29 343.86 
L 620.70 352.37 
L 621.10 346.11 
L 621.91 362.35 
L 622.32 362.77 
L 622.72 351.22 
L 623.13 345.26 
L 623.53 347.84 
L 623.94 346.35 
L 624.34 339.87 
L 624.75 349.48 
L 625.16 342.38 
L 625.56 340.48 
L 625.97 349.42 
L 626.78 358.49 
L 627.18 366.82 
L 627.59 371.39 
L 627.99 341.10 
L 628.40 352.66 
L 628.80 359.44 
L 629.21 336.93 
L 629.61 341.27 
L 630.02 351.84 
L 630.42 342.38 
L 630.83 354.60 
L 631.23 349.87 
L 631.64 333.50 
L 632.04 339.81 
L 632.45 355.17 
L 632.85 346.17 
L 633.26 339.69 
L 633.66 353.43 
L 634.07 357.93 
L 634.47 333.58 
L 634.88 354.63 
L 635.28 367.30 
L 635.69 353.23 
L 636.09 330.17 
L 636.50 343.76 
L 636.90 341.58 
L 637.31 374.46 
L 637.71 360.98 
L 638.12 340.36 
L 638.52 355.95 
L 638.93 338.52 
L 639.33 346.15 
L 639.74 347.76 
L 640.14 333.90 
L 640.55 356.19 
L 640.95 357.97 
L 641.36 351.99 
L 641.76 350.17 
L 642.17 370.14 
L 642.57 340.77 
L 642.98 348.95 
L 643.38 353.97 
L 643.79 345.91 
L 644.19 356.13 
L 644.60 339.50 
L 645.00 350.57 
L 645.41 344.40 
L 645.81 361.09 
L 646.22 356.38 
L 646.62 348.92 
L 647.03 362.12 
L 647.43 360.50 
L 647.84 353.94 
L 648.24 340.37 
L 648.65 342.97 
L 649.05 341.61 
L 649.46 348.27 
L 650.27 334.76 
L 650.67 349.07 
L 651.48 345.77 
L 651.89 372.90 
L 652.29 355.81 
L 652.70 348.49 
L 653.10 343.96 
L 653.51 355.29 
L 653.91 342.18 
L 654.32 358.53 
L 654.72 355.21 
L 655.13 334.63 
L 655.53 365.14 
L 655.94 354.91 
L 656.34 354.61 
L 656.75 353.99 
L 657.15 358.66 
L 657.56 346.42 
L 657.96 363.48 
L 658.37 367.82 
L 658.77 349.33 
L 659.18 365.08 
L 659.58 350.24 
L 659.99 352.53 
L 660.39 360.26 
L 661.20 354.61 
L 661.61 348.45 
L 662.01 359.40 
L 662.42 356.07 
L 662.82 368.49 
L 663.23 357.73 
L 663.63 373.66 
L 664.04 355.90 
L 664.44 358.44 
L 664.85 331.54 
L 665.25 336.99 
L 665.66 353.44 
L 666.06 343.01 
L 666.47 349.41 
L 667.28 377.07 
L 667.68 344.19 
L 668.09 348.47 
L 668.49 373.45 
L 668.90 348.83 
L 669.30 343.10 
L 669.71 359.88 
L 670.12 329.59 
L 670.52 370.93 
L 670.93 357.80 
L 671.33 353.76 
L 671.74 345.21 
L 672.14 348.62 
L 672.55 350.86 
L 672.95 326.53 
L 673.36 360.07 
L 673.76 338.11 
L 674.17 355.92 
L 674.57 345.36 
L 674.98 353.02 
L 675.38 356.37 
L 675.79 347.76 
L 676.19 348.41 
L 676.60 330.86 
L 677.00 340.40 
L 677.41 358.57 
L 677.81 348.92 
L 678.22 352.25 
L 678.62 362.01 
L 679.03 366.12 
L 679.43 352.37 
L 679.84 359.36 
L 680.24 368.90 
L 680.65 356.40 
L 681.05 351.74 
L 681.46 352.58 
L 681.86 366.30 
L 682.27 361.21 
L 682.67 339.50 
L 683.08 360.62 
L 683.48 358.05 
L 683.89 330.17 
L 684.29 347.70 
L 684.70 358.63 
L 685.10 374.50 
L 685.51 352.75 
L 685.91 368.35 
L 686.32 355.70 
L 687.13 372.37 
L 687.53 337.70 
L 687.94 353.56 
L 688.34 343.88 
L 688.75 344.94 
L 689.15 360.84 
L 689.56 353.78 
L 689.96 357.83 
L 690.37 343.87 
L 690.77 348.43 
L 691.18 357.30 
L 691.58 336.20 
L 691.99 346.70 
L 692.39 348.38 
L 692.80 361.74 
L 693.20 350.51 
L 693.61 369.07 
L 694.01 350.68 
L 694.42 363.52 
L 694.82 353.11 
L 695.23 356.98 
L 695.63 351.95 
L 696.04 350.06 
L 696.44 354.34 
L 696.85 354.76 
L 697.25 369.78 
L 697.66 375.23 
L 698.06 342.51 
L 698.47 346.80 
L 698.87 368.92 
L 699.28 334.85 
L 699.68 359.83 
L 700.09 349.24 
L 700.49 349.09 
L 700.90 352.49 
L 701.30 347.41 
L 701.71 367.86 
L 702.11 355.95 
L 702.52 357.05 
L 702.92 353.51 
L 703.73 361.18 
L 704.14 362.49 
L 704.54 345.38 
L 704.95 362.18 
L 705.35 351.09 
L 705.76 350.09 
L 706.16 354.80 
L 706.57 349.67 
L 706.97 347.86 
L 707.38 359.18 
L 707.78 351.06 
L 708.19 333.24 
L 708.59 363.30 
L 709.00 358.31 
L 709.40 362.57 
L 709.81 333.52 
L 710.21 366.80 
L 711.02 344.10 
L 711.43 362.27 
L 711.83 356.44 
L 712.24 361.83 
L 712.64 368.94 
L 713.05 356.43 
L 713.45 349.08 
L 713.86 357.90 
L 714.67 346.62 
L 715.08 340.20 
L 715.48 365.70 
L 715.89 348.77 
L 716.70 374.27 
L 717.10 364.28 
L 717.51 348.31 
L 717.91 350.29 
L 718.32 365.20 
L 718.72 337.63 
L 719.13 348.21 
L 719.53 354.31 
L 719.94 329.59 
L 720.34 350.27 
L 720.75 357.90 
L 721.15 342.05 
L 721.56 349.62 
L 721.96 347.06 
L 722.37 356.72 
L 722.77 369.84 
L 723.18 350.12 
L 723.58 364.25 
L 723.99 356.33 
L 724.39 354.53 
L 724.80 362.33 
L 725.20 345.34 
L 725.61 368.20 
L 726.01 339.20 
L 726.42 358.97 
L 726.82 344.13 
L 727.23 338.90 
L 727.63 361.71 
L 728.04 362.56 
L 728.44 344.80 
L 728.85 351.24 
L 729.25 352.99 
L 729.66 373.02 
L 730.06 373.08 
L 730.47 350.37 
L 730.87 338.00 
L 731.28 330.86 
L 731.68 363.71 
L 732.09 352.91 
L 732.49 349.06 
L 732.90 347.60 
L 733.30 358.17 
L 733.71 374.56 
L 734.11 340.30 
L 734.52 358.08 
L 734.92 340.75 
L 735.33 373.47 
L 735.73 352.19 
L 736.54 365.89 
L 736.95 344.85 
L 737.35 339.02 
L 737.76 358.88 
L 738.16 347.70 
L 738.57 364.65 
L 738.97 361.64 
L 739.38 357.52 
L 739.78 358.16 
L 740.19 347.72 
L 740.59 366.02 
L 741.00 344.90 
L 741.40 342.64 
L 742.21 366.53 
L 742.62 377.07 
L 743.02 357.47 
L 743.43 361.92 
L 743.83 353.86 
L 744.24 365.03 
L 744.64 355.25 
L 745.05 354.92 
L 745.45 354.11 
L 745.86 351.11 
L 746.26 350.75 
L 746.67 343.23 
L 747.07 361.26 
L 747.48 347.17 
L 747.88 351.75 
L 748.69 364.83 
L 749.10 339.30 
L 749.91 359.16 
L 750.31 353.87 
L 750.72 354.06 
L 751.12 359.60 
L 751.53 368.95 
L 751.93 354.02 
L 752.74 357.27 
L 753.15 388.35 
L 753.55 366.68 
L 753.96 365.20 
L 754.77 345.06 
L 755.17 346.66 
L 755.58 345.53 
L 755.98 375.62 
L 756.39 351.09 
L 756.79 349.38 
L 757.20 346.30 
L 757.60 360.51 
L 758.01 349.34 
L 758.82 335.58 
L 759.63 367.37 
L 760.04 354.86 
L 760.44 347.27 
L 760.85 347.92 
L 761.25 333.02 
L 761.66 354.10 
L 762.06 364.54 
L 762.47 361.70 
L 762.87 347.84 
L 763.28 361.75 
L 763.68 365.54 
L 764.09 363.81 
L 764.49 341.89 
L 765.30 357.23 
L 765.71 345.21 
L 766.11 345.77 
L 766.52 363.29 
L 766.92 346.08 
L 767.33 350.66 
L 767.73 374.75 
L 768.14 368.38 
L 768.54 352.73 
L 768.95 348.72 
L 769.76 364.53 
L 770.16 352.46 
L 770.57 327.93 
L 770.97 350.02 
L 771.38 355.19 
L 771.78 354.40 
L 772.19 360.79 
L 772.59 345.76 
L 773.00 376.61 
L 773.40 365.22 
L 773.81 348.97 
L 774.21 360.78 
L 774.62 338.69 
L 775.02 347.91 
L 775.43 361.26 
L 775.83 342.59 
L 776.24 353.75 
L 776.64 347.63 
L 777.05 359.66 
L 777.45 360.64 
L 777.86 346.90 
L 778.26 352.02 
L 778.67 361.43 
L 779.07 363.57 
L 779.88 334.19 
L 780.29 360.53 
L 780.69 347.11 
L 781.10 377.07 
L 781.50 370.94 
L 781.91 348.22 
L 782.31 335.86 
L 782.72 351.22 
L 783.12 347.55 
L 783.53 350.25 
L 783.93 342.25 
L 784.34 363.69 
L 784.74 347.85 
L 785.15 357.59 
L 785.55 357.55 
L 785.96 354.02 
L 786.36 355.79 
L 786.77 361.74 
L 787.17 357.10 
L 787.58 363.66 
L 787.98 338.45 
L 788.39 344.49 
L 788.79 357.04 
L 789.20 336.62 
L 789.60 337.82 
L 790.01 346.78 
L 790.41 358.50 
L 790.82 351.31 
L 791.22 347.20 
L 791.63 337.73 
L 792.03 353.91 
L 792.44 359.50 
L 792.84 330.19 
L 793.25 336.05 
L 794.06 362.55 
L 794.46 349.28 
L 794.87 340.86 
L 795.27 344.08 
L 795.68 343.62 
L 796.08 352.10 
L 796.49 340.93 
L 796.89 358.66 
L 797.30 358.67 
L 797.70 359.29 
L 798.11 360.83 
L 798.51 333.42 
L 798.92 369.15 
L 799.32 352.65 
L 799.73 363.65 
L 800.13 367.44 
L 800.54 353.94 
L 800.94 369.86 
L 801.35 356.23 
L 801.75 330.17 
L 802.16 352.39 
L 802.56 348.63 
L 802.97 361.96 
L 803.37 349.37 
L 803.78 368.70 
L 804.18 353.18 
L 804.59 354.99 
L 805 330.97 
L 805.40 352.39 
L 805.81 357.49 
L 806.21 360.05 
L 806.62 366.87 
L 807.02 346.95 
L 807.43 337.31 
L 807.83 356.24 
L 808.24 346.49 
L 808.64 356.95 
L 809.05 349.94 
L 809.45 348.63 
L 809.86 368.31 
L 810.26 363.39 
L 810.67 344.78 
L 811.07 372.85 
L 811.48 355.84 
L 811.88 357.82 
L 812.29 363.99 
L 812.69 354.50 
L 813.50 347.90 
L 813.91 377.07 
L 814.31 338.37 
L 814.72 357.58 
L 815.12 342.96 
L 815.53 354.25 
L 815.93 360.17 
L 816.34 355.35 
L 816.74 330.17 
L 817.15 333.70 
L 817.55 355.75 
L 817.96 351.80 
L 818.36 341.45 
L 819.58 355.92 
L 819.98 365.45 
L 820.39 320.43 
L 820.79 341.21 
L 821.20 330.17 
L 821.60 357.41 
L 822.01 347.41 
L 822.41 353.78 
L 822.82 340.18 
L 823.22 353.81 
L 823.63 360.88 
L 824.03 372.41 
L 824.44 348.30 
L 824.84 351.81 
L 825.25 341.46 
L 825.65 358.74 
L 826.06 330.17 
L 826.46 358.91 
L 826.87 349.08 
L 827.27 349.15 
L 827.68 341.40 
L 828.08 354.65 
L 828.49 363.71 
L 828.89 365.36 
L 829.30 346.46 
L 829.70 352.24 
L 830.11 350.25 
L 830.51 362.27 
L 830.92 353.47 
L 831.32 351.74 
L 831.73 347.25 
L 832.13 368.77 
L 832.54 363.60 
L 832.94 336.16 
L 833.35 356.61 
L 833.75 355.30 
L 834.16 358.50 
L 834.56 370.25 
L 834.97 366.98 
L 835.37 351.50 
L 835.78 360.96 
L 836.18 332.97 
L 836.59 367.76 
L 836.99 375.45 
L 837.40 360.47 
L 837.80 367.41 
L 838.21 340.29 
L 838.61 357.37 
L 839.02 348.93 
L 839.42 368.48 
L 839.83 348.52 
L 840.23 346.73 
L 840.64 339.75 
L 841.04 350.47 
L 841.45 348.30 
L 841.85 351.86 
L 842.26 343.86 
L 842.66 357.64 
L 843.07 348.74 
L 843.47 359.73 
L 843.88 347.18 
L 844.28 356.53 
L 844.69 361.30 
L 845.09 362.07 
L 845.50 338.84 
L 845.90 369.11 
L 846.31 371.27 
L 846.71 349.17 
L 847.12 364.15 
L 847.52 360.19 
L 847.93 360.08 
L 848.33 330.66 
L 848.74 359.05 
L 849.14 362.29 
L 849.55 359.21 
L 849.96 352.29 
L 849.96 352.29 
" clip-path="url(#p00ab3a5869)" style="fill: none; stroke: #1f77b4; stroke-opacity: 0.35; stroke-width: 1.23; stroke-linecap: square"/>
   </g>
   <g id="line2d_57">
    <path d="M 445.32 351.10 
L 445.72 370.51 
L 446.53 337.28 
L 446.94 372.26 
L 447.34 351.91 
L 447.75 348.06 
L 448.56 357.71 
L 448.96 379.10 
L 449.37 346.54 
L 449.77 358.28 
L 450.18 358.29 
L 450.58 344.13 
L 450.99 378.71 
L 451.39 358.92 
L 451.80 350.46 
L 452.20 348.39 
L 452.61 349.28 
L 453.01 336.29 
L 453.42 351.15 
L 453.82 345.48 
L 454.23 347.36 
L 454.63 370.16 
L 455.04 365.20 
L 455.44 337.18 
L 455.85 356.66 
L 456.25 356.67 
L 456.66 369.42 
L 457.06 360.77 
L 457.47 369.79 
L 457.87 363.52 
L 458.28 351.25 
L 458.68 363.91 
L 459.09 362.99 
L 459.49 343.45 
L 459.90 350.11 
L 460.30 350.32 
L 460.71 345.59 
L 461.11 360.46 
L 461.52 360.35 
L 461.92 377.53 
L 462.33 350.83 
L 462.73 357.48 
L 463.14 356.12 
L 463.54 367.04 
L 463.95 350.95 
L 464.35 349.32 
L 464.76 353.46 
L 465.16 371.93 
L 465.57 366.09 
L 465.97 357.27 
L 466.38 364.59 
L 466.78 352.96 
L 467.19 345.75 
L 467.59 362.56 
L 468.00 358.41 
L 468.40 363.16 
L 468.81 346.50 
L 469.21 346.18 
L 469.62 384.92 
L 470.02 353.13 
L 470.43 365.14 
L 470.83 352.78 
L 471.24 357.94 
L 471.64 354.21 
L 472.05 343.52 
L 472.45 357.51 
L 472.86 349.02 
L 473.26 376.96 
L 473.67 347.56 
L 474.07 353.73 
L 474.48 358.09 
L 474.88 361.20 
L 475.29 342.49 
L 475.69 359.63 
L 476.10 343.77 
L 476.50 359.76 
L 477.31 352.36 
L 477.72 336.57 
L 478.12 351.40 
L 478.53 353.05 
L 478.93 356.20 
L 479.34 334.04 
L 479.74 362.29 
L 480.15 339.04 
L 480.55 339.87 
L 480.96 361.11 
L 481.36 354.70 
L 481.77 367.64 
L 482.17 347.71 
L 482.58 348.25 
L 482.98 353.88 
L 483.39 363.79 
L 483.79 349.06 
L 484.20 349.07 
L 484.60 356.85 
L 485.01 348.67 
L 485.41 368.68 
L 485.82 363.14 
L 486.22 366.17 
L 486.63 355.63 
L 487.03 339.63 
L 487.44 353.63 
L 487.84 344.37 
L 488.25 354.91 
L 488.65 359.80 
L 489.06 346.22 
L 489.46 349.55 
L 489.87 341.29 
L 490.28 344.75 
L 491.09 379.10 
L 491.49 357.05 
L 491.90 367.90 
L 492.30 371.43 
L 492.71 372.55 
L 493.11 364.02 
L 493.52 358.66 
L 493.92 356.05 
L 494.33 336.70 
L 494.73 366.10 
L 495.14 356.95 
L 495.54 368.61 
L 495.95 367.25 
L 496.35 356.29 
L 496.76 351.80 
L 497.16 368.51 
L 497.57 345.84 
L 497.97 364.29 
L 498.38 347.29 
L 498.78 355.50 
L 499.19 346.95 
L 499.59 349.46 
L 500.00 358.09 
L 500.40 351.42 
L 500.81 369.07 
L 501.21 370.45 
L 501.62 360.95 
L 502.02 342.88 
L 502.43 362.14 
L 502.83 362.61 
L 503.24 340.34 
L 503.64 353.87 
L 504.05 355.66 
L 504.45 366.55 
L 504.86 356.32 
L 505.26 350.15 
L 505.67 355.85 
L 506.07 348.42 
L 506.48 351.93 
L 506.88 345.17 
L 507.29 346.72 
L 507.69 356.28 
L 508.50 337.93 
L 509.31 367.81 
L 509.72 355.15 
L 510.12 357.83 
L 510.53 334.96 
L 510.93 345.97 
L 511.34 366.15 
L 511.74 358.84 
L 512.15 341.89 
L 512.55 366.30 
L 513.36 356.53 
L 513.77 357.52 
L 514.17 362.18 
L 514.58 355.28 
L 514.98 370.31 
L 515.39 363.34 
L 515.79 362.86 
L 516.20 359.77 
L 516.60 359.45 
L 517.01 356.41 
L 517.41 359.64 
L 517.82 360.69 
L 518.63 346.97 
L 519.03 345.75 
L 519.44 366.77 
L 519.84 354.70 
L 520.25 348.70 
L 520.65 358.06 
L 521.06 351.75 
L 521.46 357.90 
L 521.87 352.61 
L 522.27 371.35 
L 522.68 353.07 
L 523.08 360.75 
L 523.49 364.12 
L 523.89 360.00 
L 524.30 346.87 
L 524.70 345.98 
L 525.11 352.71 
L 525.51 347.37 
L 526.32 369.18 
L 526.73 376.71 
L 527.13 358.52 
L 527.54 357.90 
L 527.94 356.00 
L 528.35 355.50 
L 528.75 344.15 
L 529.16 364.34 
L 529.56 364.91 
L 529.97 338.67 
L 530.37 346.88 
L 530.78 358.30 
L 531.18 377.40 
L 531.59 366.98 
L 531.99 360.97 
L 532.80 354.48 
L 533.21 358.37 
L 533.61 345.19 
L 534.02 367.20 
L 534.42 360.25 
L 534.83 363.60 
L 535.24 349.44 
L 535.64 353.84 
L 536.05 348.34 
L 536.45 354.71 
L 536.86 334.96 
L 537.26 345.51 
L 537.67 362.86 
L 538.07 356.99 
L 538.48 360.45 
L 538.88 349.30 
L 539.29 346.05 
L 540.50 363.19 
L 540.91 341.21 
L 541.31 343.71 
L 541.72 379.10 
L 542.12 358.33 
L 542.53 364.94 
L 542.93 360.86 
L 543.34 340.16 
L 543.74 366.00 
L 544.15 367.70 
L 544.55 334.96 
L 544.96 358.54 
L 545.36 358.71 
L 545.77 345.07 
L 546.17 360.08 
L 546.58 356.05 
L 546.98 353.58 
L 547.39 341.94 
L 547.79 371.01 
L 548.20 365.96 
L 548.60 358.24 
L 549.01 347.25 
L 549.41 361.57 
L 549.82 351.95 
L 550.22 360.73 
L 550.63 360.41 
L 551.03 343.82 
L 551.44 357.05 
L 551.84 334.96 
L 552.25 349.54 
L 552.65 344.20 
L 553.06 347.49 
L 553.46 370.92 
L 553.87 373.23 
L 554.27 352.79 
L 554.68 366.85 
L 555.08 362.59 
L 555.49 360.00 
L 555.89 365.66 
L 556.30 345.23 
L 556.70 347.22 
L 557.11 353.32 
L 557.51 350.20 
L 557.92 364.56 
L 558.32 348.20 
L 558.73 363.78 
L 559.13 341.40 
L 559.54 361.20 
L 559.94 362.10 
L 560.35 345.07 
L 560.75 348.50 
L 561.16 364.87 
L 561.56 350.89 
L 561.97 355.40 
L 562.37 355.67 
L 562.78 349.86 
L 563.18 349.29 
L 563.59 345.22 
L 563.99 350.14 
L 564.40 352.11 
L 564.80 356.51 
L 565.21 341.32 
L 565.61 362.31 
L 566.02 338.26 
L 566.42 334.96 
L 566.83 334.96 
L 567.23 354.84 
L 567.64 336.15 
L 568.04 342.50 
L 568.45 343.96 
L 568.85 334.96 
L 569.26 350.58 
L 569.66 349.72 
L 570.07 367.98 
L 570.47 379.10 
L 570.88 355.26 
L 571.69 348.49 
L 572.09 352.09 
L 572.50 375.92 
L 572.90 354.02 
L 573.31 344.58 
L 573.71 339.52 
L 574.12 363.75 
L 574.52 365.69 
L 574.93 363.89 
L 575.33 363.15 
L 575.74 373.21 
L 576.14 364.55 
L 576.55 341.21 
L 576.95 365.14 
L 577.36 376.08 
L 577.76 360.70 
L 578.17 361.54 
L 578.57 349.82 
L 578.98 362.86 
L 579.38 358.44 
L 579.79 364.75 
L 580.2 366.73 
L 580.60 353.33 
L 581.01 354.46 
L 581.41 356.33 
L 581.82 350.93 
L 582.22 363.86 
L 582.63 356.53 
L 583.03 353.98 
L 583.44 344.12 
L 583.84 374.21 
L 584.25 361.36 
L 584.65 352.09 
L 585.06 361.46 
L 585.87 349.24 
L 586.27 350.62 
L 586.68 373.15 
L 587.08 370.00 
L 587.49 379.10 
L 587.89 352.47 
L 588.30 353.54 
L 588.70 342.50 
L 589.51 367.46 
L 589.92 346.55 
L 590.32 368.47 
L 590.73 357.25 
L 591.13 358.21 
L 591.54 348.60 
L 591.94 346.29 
L 592.35 359.29 
L 592.75 363.81 
L 593.16 357.26 
L 593.56 362.02 
L 593.97 347.23 
L 594.37 351.41 
L 594.78 341.81 
L 595.18 334.96 
L 595.59 362.01 
L 595.99 362.74 
L 596.40 351.93 
L 596.80 351.63 
L 597.21 359.04 
L 597.61 374.00 
L 598.02 334.96 
L 598.83 367.59 
L 599.23 379.10 
L 599.64 344.61 
L 600.04 351.61 
L 600.45 355.48 
L 600.85 366.56 
L 601.26 358.08 
L 601.66 360.17 
L 602.07 379.10 
L 602.47 334.96 
L 602.88 349.30 
L 603.69 366.18 
L 604.09 363.22 
L 604.50 334.96 
L 604.90 349.82 
L 605.31 369.04 
L 605.71 348.50 
L 606.12 350.37 
L 606.52 350.27 
L 606.93 356.74 
L 607.33 357.80 
L 607.74 354.04 
L 608.14 357.95 
L 608.55 370.73 
L 608.95 367.76 
L 609.36 357.09 
L 609.76 372.68 
L 610.17 359.05 
L 610.57 359.59 
L 610.98 349.16 
L 611.79 358.84 
L 612.19 359.34 
L 613.00 346.35 
L 613.41 366.06 
L 613.81 372.91 
L 614.22 365.38 
L 614.62 379.10 
L 615.03 366.58 
L 615.43 348.85 
L 615.84 345.59 
L 616.24 339.98 
L 616.65 353.73 
L 617.05 354.24 
L 617.46 361.93 
L 617.86 362.00 
L 618.67 346.80 
L 619.08 350.90 
L 619.48 376.58 
L 619.89 353.09 
L 620.29 355.72 
L 620.70 362.12 
L 621.51 347.11 
L 621.91 353.76 
L 622.32 363.30 
L 622.72 334.96 
L 623.13 359.20 
L 623.94 343.17 
L 624.34 363.64 
L 624.75 351.41 
L 625.16 364.36 
L 625.56 359.66 
L 625.97 364.28 
L 626.37 339.71 
L 626.78 368.53 
L 627.18 352.22 
L 627.59 355.36 
L 627.99 376.65 
L 628.40 341.00 
L 628.80 360.40 
L 629.21 359.24 
L 629.61 354.26 
L 630.02 365.27 
L 630.42 365.02 
L 630.83 357.39 
L 631.23 365.31 
L 631.64 356.04 
L 632.04 343.56 
L 632.45 365.27 
L 632.85 373.47 
L 633.26 359.21 
L 633.66 352.47 
L 634.07 349.19 
L 634.47 366.68 
L 634.88 379.10 
L 635.28 349.93 
L 635.69 348.52 
L 636.09 340.56 
L 636.50 364.44 
L 636.90 351.41 
L 637.31 345.71 
L 637.71 374.11 
L 638.12 347.45 
L 638.52 341.21 
L 638.93 348.97 
L 639.33 350.15 
L 639.74 348.26 
L 640.14 357.99 
L 640.55 371.14 
L 640.95 367.13 
L 641.36 359.07 
L 641.76 365.16 
L 642.17 346.92 
L 642.57 359.38 
L 642.98 357.63 
L 643.38 374.64 
L 643.79 354.00 
L 644.19 363.17 
L 644.60 341.97 
L 645.00 372.43 
L 645.41 354.51 
L 645.81 360.15 
L 646.22 360.28 
L 646.62 339.99 
L 647.03 345.07 
L 647.43 363.74 
L 647.84 343.13 
L 648.24 361.49 
L 648.65 348.88 
L 649.05 373.30 
L 649.46 361.17 
L 649.86 359.63 
L 650.27 359.87 
L 650.67 372.91 
L 651.08 377.42 
L 651.48 358.43 
L 651.89 350.45 
L 652.70 359.54 
L 653.10 371.97 
L 653.51 360.48 
L 654.32 364.12 
L 654.72 355.15 
L 655.13 354.33 
L 655.53 352.03 
L 656.34 364.88 
L 656.75 359.03 
L 657.15 359.61 
L 657.56 373.40 
L 657.96 361.43 
L 658.37 373.80 
L 658.77 378.21 
L 659.18 366.76 
L 659.58 395.99 
L 659.99 350.12 
L 660.39 358.69 
L 660.80 351.25 
L 661.20 341.55 
L 661.61 353.52 
L 662.01 352.20 
L 662.42 362.83 
L 662.82 348.81 
L 663.23 354.85 
L 663.63 355.40 
L 664.04 367.60 
L 664.44 366.87 
L 664.85 364.14 
L 665.25 355.93 
L 665.66 345.45 
L 666.06 370.55 
L 666.47 361.37 
L 666.87 359.87 
L 667.28 335.41 
L 667.68 355.97 
L 668.09 361.67 
L 668.49 349.47 
L 668.90 366.82 
L 669.30 351.94 
L 669.71 372.98 
L 670.12 338.45 
L 670.52 354.83 
L 670.93 360.45 
L 671.33 370.07 
L 671.74 359.15 
L 672.14 355.69 
L 672.55 363.64 
L 672.95 345.23 
L 673.36 358.43 
L 674.17 353.35 
L 674.57 328.31 
L 674.98 358.69 
L 676.19 349.93 
L 676.60 374.42 
L 677.00 346.64 
L 677.81 363.56 
L 678.22 357.20 
L 678.62 376.07 
L 679.43 355.22 
L 679.84 342.69 
L 680.24 355.58 
L 680.65 352.19 
L 681.05 358.69 
L 681.46 347.93 
L 681.86 359.32 
L 682.27 351.91 
L 683.08 366.26 
L 683.48 367.23 
L 683.89 363.79 
L 684.29 345.43 
L 684.70 334.96 
L 685.10 354.79 
L 685.51 363.47 
L 685.91 351.57 
L 686.32 350.84 
L 686.72 360.91 
L 687.13 338.18 
L 687.53 345.58 
L 687.94 345.70 
L 688.34 354.31 
L 688.75 354.52 
L 689.15 346.27 
L 689.56 369.15 
L 689.96 365.49 
L 690.37 355.99 
L 690.77 370.91 
L 691.18 341.29 
L 691.58 360.75 
L 691.99 360.78 
L 692.39 353.20 
L 692.80 340.93 
L 693.20 354.81 
L 693.61 363.64 
L 694.01 366.20 
L 694.42 354.60 
L 694.82 361.69 
L 695.23 334.96 
L 695.63 341.34 
L 696.04 379.10 
L 696.44 368.45 
L 697.25 334.96 
L 697.66 374.28 
L 698.06 362.25 
L 698.47 344.68 
L 698.87 361.82 
L 699.28 355.77 
L 699.68 361.00 
L 700.09 349.86 
L 700.49 366.47 
L 700.90 356.72 
L 701.30 370.85 
L 701.71 347.79 
L 702.11 349.21 
L 702.52 355.58 
L 702.92 355.51 
L 703.33 355.60 
L 703.73 359.63 
L 704.14 354.71 
L 704.54 352.21 
L 704.95 356.22 
L 705.35 362.01 
L 705.76 360.66 
L 706.16 361.06 
L 706.57 351.97 
L 706.97 353.98 
L 707.38 337.15 
L 707.78 355.65 
L 708.19 355.13 
L 708.59 362.25 
L 709.00 355.52 
L 709.81 365.12 
L 710.21 355.20 
L 710.62 340.38 
L 711.02 363.11 
L 711.43 363.27 
L 711.83 357.04 
L 712.24 353.52 
L 712.64 342.90 
L 713.05 361.17 
L 713.45 357.85 
L 713.86 364.25 
L 714.26 365.71 
L 714.67 361.78 
L 715.08 367.94 
L 715.48 352.78 
L 715.89 345.38 
L 716.29 360.22 
L 716.70 363.67 
L 717.10 343.82 
L 717.51 357.02 
L 717.91 341.68 
L 718.32 379.10 
L 718.72 360.64 
L 719.13 366.98 
L 719.53 362.71 
L 719.94 348.94 
L 720.34 344.82 
L 720.75 356.77 
L 721.15 347.08 
L 721.56 366.66 
L 721.96 354.52 
L 722.37 357.60 
L 722.77 373.84 
L 723.18 349.08 
L 723.58 362.32 
L 723.99 352.54 
L 724.39 363.63 
L 724.80 355.17 
L 725.20 350.12 
L 726.01 360.99 
L 726.42 350.74 
L 726.82 353.53 
L 727.23 360.17 
L 727.63 356.11 
L 728.04 356.96 
L 728.44 359.69 
L 729.25 338.65 
L 729.66 359.46 
L 730.06 357.64 
L 730.47 365.84 
L 730.87 370.67 
L 731.28 346.38 
L 731.68 361.93 
L 732.09 353.31 
L 732.49 369.61 
L 732.90 363.96 
L 733.30 352.21 
L 733.71 351.08 
L 734.11 353.28 
L 734.52 351.82 
L 734.92 353.52 
L 735.73 338.82 
L 736.95 366.60 
L 737.35 362.10 
L 737.76 359.99 
L 738.16 342.34 
L 738.57 370.46 
L 738.97 365.65 
L 739.38 367.55 
L 739.78 348.76 
L 740.59 375.67 
L 741.00 379.08 
L 741.40 355.32 
L 741.81 372.84 
L 742.21 347.01 
L 742.62 344.84 
L 743.02 366.60 
L 743.83 356.49 
L 744.24 371.58 
L 744.64 370.42 
L 745.45 357.49 
L 745.86 353.75 
L 746.26 375.45 
L 746.67 355.83 
L 747.48 359.21 
L 747.88 361.39 
L 748.29 346.82 
L 748.69 340.28 
L 749.10 359.39 
L 749.50 358.45 
L 749.91 372.93 
L 750.72 350.28 
L 751.12 356.81 
L 751.53 352.94 
L 751.93 357.16 
L 752.34 355.47 
L 752.74 349.77 
L 753.15 348.19 
L 753.55 375.50 
L 753.96 360.36 
L 754.36 379.10 
L 754.77 359.04 
L 755.17 362.02 
L 755.58 362.77 
L 755.98 341.50 
L 756.39 351.15 
L 756.79 344.46 
L 757.20 348.79 
L 757.60 339.11 
L 758.01 356.71 
L 758.41 358.64 
L 758.82 357.17 
L 759.22 334.96 
L 759.63 357.91 
L 760.04 355.88 
L 760.44 342.45 
L 760.85 345.53 
L 761.25 359.90 
L 761.66 339.48 
L 762.06 349.59 
L 762.47 341.15 
L 762.87 348.54 
L 763.28 347.57 
L 763.68 362.61 
L 764.09 342.63 
L 764.49 361.68 
L 764.90 355.71 
L 765.30 345.21 
L 765.71 358.24 
L 766.11 354.95 
L 766.52 324.75 
L 766.92 354.34 
L 767.33 350.01 
L 767.73 370.58 
L 768.14 362.72 
L 768.54 337.10 
L 768.95 373.94 
L 769.35 364.19 
L 769.76 348.92 
L 770.16 374.11 
L 770.57 366.49 
L 770.97 365.16 
L 771.38 341.47 
L 771.78 363.27 
L 772.19 350.46 
L 772.59 361.76 
L 773.00 356.38 
L 773.40 367.49 
L 773.81 372.14 
L 774.21 362.31 
L 774.62 370.60 
L 775.02 359.16 
L 775.83 351.84 
L 776.24 340.64 
L 776.64 340.58 
L 777.05 365.56 
L 777.45 364.52 
L 777.86 340.32 
L 778.26 354.86 
L 778.67 359.73 
L 779.07 345.78 
L 779.48 361.23 
L 779.88 347.30 
L 780.29 358.08 
L 780.69 343.41 
L 781.10 356.10 
L 781.50 347.93 
L 781.91 385.05 
L 782.31 339.26 
L 782.72 362.28 
L 783.12 360.46 
L 783.53 370.85 
L 783.93 375.17 
L 784.34 362.90 
L 784.74 355.01 
L 785.15 343.51 
L 785.55 358.86 
L 785.96 338.03 
L 786.36 352.30 
L 786.77 346.93 
L 787.58 368.90 
L 787.98 341.67 
L 788.39 357.39 
L 788.79 345.15 
L 789.20 358.57 
L 789.60 350.49 
L 790.01 356.98 
L 790.41 359.58 
L 790.82 357.82 
L 791.22 349.50 
L 791.63 367.59 
L 792.03 367.05 
L 792.44 347.41 
L 792.84 362.58 
L 793.25 354.80 
L 793.65 369.61 
L 794.06 359.55 
L 794.46 345.56 
L 794.87 354.12 
L 795.27 353.77 
L 795.68 359.80 
L 796.08 355.42 
L 796.49 374.33 
L 796.89 374.72 
L 797.30 353.81 
L 797.70 374.02 
L 798.11 344.96 
L 798.51 346.67 
L 798.92 367.39 
L 799.32 379.10 
L 799.73 379.10 
L 800.13 355.70 
L 800.54 357.05 
L 800.94 342.99 
L 801.35 350.26 
L 801.75 340.41 
L 802.16 345.97 
L 802.56 364.76 
L 802.97 358.91 
L 803.37 365.08 
L 803.78 360.29 
L 804.18 361.88 
L 804.59 359.13 
L 805 343.14 
L 805.40 360.49 
L 805.81 368.83 
L 806.21 363.94 
L 806.62 361.87 
L 807.02 362.74 
L 807.43 358.58 
L 807.83 360.84 
L 808.24 345.71 
L 808.64 346.18 
L 809.05 362.93 
L 809.45 347.17 
L 809.86 341.54 
L 810.67 364.58 
L 811.07 352.64 
L 811.48 356.54 
L 811.88 352.82 
L 812.29 366.55 
L 812.69 337.26 
L 813.10 356.03 
L 813.50 350.87 
L 813.91 361.56 
L 814.31 355.00 
L 814.72 379.10 
L 815.12 371.64 
L 815.53 379.10 
L 815.93 348.88 
L 816.34 369.34 
L 816.74 373.28 
L 817.15 346.50 
L 817.55 359.90 
L 817.96 357.95 
L 818.36 345.51 
L 818.77 350.03 
L 819.17 352.18 
L 819.58 349.06 
L 819.98 375.14 
L 820.39 344.92 
L 820.79 341.68 
L 821.20 337.03 
L 821.60 375.29 
L 822.01 366.33 
L 822.41 362.53 
L 822.82 339.85 
L 823.22 348.59 
L 823.63 338.12 
L 824.84 369.48 
L 825.25 362.85 
L 825.65 342.60 
L 826.06 362.97 
L 826.46 374.70 
L 826.87 354.67 
L 827.27 342.08 
L 827.68 334.96 
L 828.08 340.91 
L 828.49 344.60 
L 828.89 372.79 
L 829.30 361.16 
L 829.70 360.01 
L 830.11 354.70 
L 830.51 365.02 
L 830.92 348.80 
L 831.32 342.64 
L 831.73 353.26 
L 832.13 358.35 
L 832.54 354.05 
L 832.94 351.80 
L 833.35 347.53 
L 833.75 363.63 
L 834.16 342.26 
L 834.56 354.00 
L 834.97 357.29 
L 835.37 349.14 
L 835.78 362.17 
L 836.59 335.13 
L 836.99 349.33 
L 837.40 353.08 
L 837.80 360.35 
L 838.21 341.57 
L 838.61 343.20 
L 839.02 369.94 
L 839.42 347.62 
L 839.83 361.80 
L 840.23 368.45 
L 840.64 357.86 
L 841.04 362.87 
L 841.45 345.14 
L 841.85 367.66 
L 842.26 370.27 
L 842.66 367.03 
L 843.47 350.43 
L 843.88 366.48 
L 844.28 364.41 
L 844.69 372.94 
L 845.09 359.67 
L 845.50 366.78 
L 845.90 336.62 
L 846.31 336.09 
L 846.71 363.33 
L 847.12 355.34 
L 847.52 351.83 
L 847.93 361.14 
L 848.33 360.51 
L 848.74 350.21 
L 849.14 358.16 
L 849.55 359.30 
L 849.96 356.66 
L 849.96 356.66 
" clip-path="url(#p00ab3a5869)" style="fill: none; stroke: #ff7f0e; stroke-opacity: 0.35; stroke-width: 1.23; stroke-linecap: square"/>
   </g>
   <g id="line2d_58">
    <path d="M 445.32 349.60 
L 445.72 362.14 
L 446.13 357.37 
L 446.53 358.26 
L 446.94 354.05 
L 447.34 361.98 
L 447.75 365.66 
L 448.15 367.84 
L 448.56 359.29 
L 448.96 359.36 
L 449.37 363.15 
L 449.77 358.97 
L 450.18 340.52 
L 450.58 351.50 
L 450.99 377.43 
L 451.39 350.59 
L 451.80 358.43 
L 452.20 370.19 
L 452.61 349.56 
L 453.01 360.38 
L 453.42 351.54 
L 453.82 365.71 
L 454.23 351.68 
L 454.63 362.55 
L 455.04 352.27 
L 455.44 352.50 
L 455.85 370.85 
L 456.25 358.37 
L 456.66 356.24 
L 457.06 360.90 
L 457.47 377.94 
L 457.87 359.84 
L 458.28 363.80 
L 458.68 350.27 
L 459.09 369.78 
L 459.49 352.73 
L 459.90 358.71 
L 460.30 340.52 
L 460.71 367.94 
L 461.11 352.80 
L 461.52 365.11 
L 461.92 370.22 
L 462.33 351.95 
L 462.73 354.41 
L 463.14 350.68 
L 463.54 375.06 
L 463.95 373.62 
L 464.35 356.63 
L 464.76 368.40 
L 465.16 349.59 
L 465.57 344.78 
L 465.97 360.28 
L 466.78 360.44 
L 467.19 363.52 
L 467.59 361.35 
L 468.00 363.03 
L 468.40 357.00 
L 468.81 363.54 
L 469.21 365.99 
L 469.62 364.14 
L 470.02 366.89 
L 470.43 362.11 
L 470.83 355.91 
L 471.24 341.97 
L 471.64 374.19 
L 472.05 375.18 
L 472.45 362.84 
L 472.86 360.63 
L 473.26 361.14 
L 473.67 344.07 
L 474.07 376.36 
L 474.48 363.79 
L 474.88 373.11 
L 475.69 356.39 
L 476.10 373.99 
L 476.50 352.68 
L 476.91 367.91 
L 477.31 371.38 
L 477.72 377.59 
L 478.12 369.01 
L 478.53 368.58 
L 478.93 353.92 
L 479.34 374.86 
L 479.74 360.11 
L 480.15 353.01 
L 480.55 362.32 
L 480.96 353.86 
L 481.36 366.61 
L 481.77 357.46 
L 482.17 363.60 
L 482.58 341.79 
L 482.98 361.39 
L 483.39 363.67 
L 483.79 357.28 
L 484.20 365.44 
L 484.60 363.08 
L 485.41 352.48 
L 485.82 365.57 
L 486.22 360.62 
L 486.63 362.35 
L 487.03 354.50 
L 487.44 352.63 
L 487.84 356.19 
L 488.25 357.80 
L 488.65 344.45 
L 489.06 367.28 
L 489.46 346.65 
L 489.87 354.37 
L 490.28 374.63 
L 490.68 360.87 
L 491.09 374.17 
L 491.49 363.26 
L 491.90 380.91 
L 492.30 355.90 
L 492.71 367.70 
L 493.11 346.56 
L 493.52 366.12 
L 493.92 360.72 
L 494.33 373.60 
L 494.73 363.25 
L 495.14 360.53 
L 495.54 356.03 
L 495.95 340.52 
L 496.35 343.76 
L 496.76 351.84 
L 497.16 362.86 
L 497.57 363.60 
L 497.97 363.89 
L 498.38 369.01 
L 498.78 355.26 
L 499.19 360.55 
L 499.59 355.71 
L 500.00 362.40 
L 500.40 394.20 
L 500.81 344.49 
L 501.21 355.60 
L 501.62 351.55 
L 502.02 367.52 
L 502.43 362.50 
L 502.83 364.20 
L 503.24 356.08 
L 503.64 357.12 
L 504.05 366.34 
L 504.45 357.56 
L 504.86 358.74 
L 505.26 374.86 
L 506.07 349.52 
L 506.48 367.34 
L 506.88 350.82 
L 507.29 352.71 
L 507.69 357.60 
L 508.10 355.60 
L 508.50 367.06 
L 508.91 354.11 
L 509.31 372.70 
L 509.72 371.73 
L 510.12 356.01 
L 510.53 369.81 
L 510.93 342.88 
L 511.34 354.93 
L 511.74 351.06 
L 512.15 350.10 
L 512.55 362.40 
L 512.96 359.69 
L 513.36 355.33 
L 513.77 359.13 
L 514.17 345.52 
L 514.58 348.89 
L 514.98 356.49 
L 515.39 347.91 
L 515.79 357.71 
L 516.20 352.34 
L 517.41 368.68 
L 517.82 367.32 
L 518.22 359.89 
L 518.63 355.77 
L 519.03 380.01 
L 519.84 355.02 
L 520.25 360.79 
L 520.65 370.36 
L 521.06 370.48 
L 521.46 345.84 
L 521.87 373.52 
L 522.27 364.48 
L 522.68 352.87 
L 523.08 378.42 
L 523.49 355.57 
L 523.89 374.29 
L 524.30 352.22 
L 524.70 340.52 
L 525.11 369.24 
L 525.51 361.58 
L 525.92 356.80 
L 526.32 365.15 
L 526.73 355.52 
L 527.13 366.35 
L 527.54 366.06 
L 527.94 368.36 
L 528.75 355.84 
L 529.16 391.92 
L 529.56 360.11 
L 529.97 370.20 
L 530.37 365.71 
L 530.78 365.57 
L 531.18 364.39 
L 531.59 355.18 
L 531.99 360.91 
L 532.40 359.32 
L 532.80 359.57 
L 533.21 360.93 
L 533.61 364.77 
L 534.02 353.97 
L 534.42 360.38 
L 534.83 361.28 
L 535.24 370.94 
L 535.64 367.98 
L 536.05 366.74 
L 536.45 355.71 
L 536.86 376.57 
L 537.26 355.21 
L 537.67 358.69 
L 538.07 366.98 
L 538.48 369.11 
L 538.88 356.59 
L 539.29 358.05 
L 539.69 379.39 
L 540.10 368.82 
L 540.50 332.13 
L 540.91 362.09 
L 541.31 366.67 
L 541.72 356.83 
L 542.12 365.08 
L 542.53 363.57 
L 542.93 349.55 
L 543.34 361.59 
L 543.74 365.34 
L 544.15 360.58 
L 544.96 384.03 
L 545.36 362.44 
L 545.77 366.34 
L 546.17 374.70 
L 546.58 353.50 
L 546.98 353.65 
L 547.39 357.84 
L 547.79 365.46 
L 548.20 363.05 
L 548.60 366.39 
L 549.01 353.40 
L 549.41 373.57 
L 549.82 359.42 
L 550.22 360.40 
L 550.63 371.40 
L 551.03 356.07 
L 551.44 363.50 
L 551.84 344.30 
L 552.25 348.48 
L 552.65 359.95 
L 553.46 367.54 
L 553.87 368.22 
L 554.27 384.54 
L 554.68 374.10 
L 555.08 353.16 
L 555.49 353.59 
L 555.89 361.24 
L 556.30 353.93 
L 556.70 340.52 
L 557.11 355.82 
L 557.51 344.89 
L 557.92 361.83 
L 558.32 366.61 
L 558.73 352.18 
L 559.13 378.26 
L 559.54 353.63 
L 560.35 365.26 
L 560.75 360.35 
L 561.16 359.63 
L 561.56 349.35 
L 561.97 351.94 
L 563.18 369.84 
L 563.59 359.75 
L 563.99 383.78 
L 564.40 354.24 
L 564.80 360.06 
L 565.21 376.52 
L 565.61 357.04 
L 566.02 368.76 
L 566.42 365.99 
L 566.83 378.47 
L 567.64 360.09 
L 568.04 361.46 
L 568.45 358.11 
L 568.85 367.40 
L 569.26 356.21 
L 569.66 374.35 
L 570.07 367.53 
L 570.47 383.78 
L 570.88 366.33 
L 571.28 366.58 
L 571.69 363.27 
L 572.50 348.52 
L 572.90 370.70 
L 573.31 364.18 
L 573.71 380.35 
L 574.12 346.26 
L 574.52 347.70 
L 574.93 355.25 
L 575.33 349.35 
L 575.74 351.88 
L 576.14 365.96 
L 576.55 354.72 
L 576.95 349.59 
L 577.36 352.33 
L 577.76 360.69 
L 578.17 364.46 
L 578.57 340.52 
L 578.98 356.09 
L 579.38 355.26 
L 579.79 373.47 
L 580.2 385.17 
L 580.60 357.92 
L 581.01 368.59 
L 581.41 349.82 
L 581.82 359.61 
L 582.22 354.69 
L 582.63 355.89 
L 583.03 366.88 
L 583.44 358.63 
L 583.84 348.06 
L 584.25 369.85 
L 584.65 371.47 
L 585.06 370.43 
L 585.46 354.89 
L 585.87 364.56 
L 586.27 358.36 
L 586.68 350.17 
L 587.08 370.28 
L 587.49 348.36 
L 587.89 359.17 
L 588.30 362.25 
L 588.70 347.13 
L 589.11 355.16 
L 589.51 372.64 
L 589.92 362.51 
L 590.32 368.22 
L 590.73 358.99 
L 591.13 365.07 
L 591.54 364.44 
L 591.94 352.37 
L 592.35 376.00 
L 592.75 359.60 
L 593.16 362.87 
L 593.56 357.94 
L 593.97 383.78 
L 594.37 372.01 
L 594.78 365.78 
L 595.18 346.39 
L 595.59 371.12 
L 595.99 372.45 
L 596.40 363.77 
L 596.80 358.08 
L 597.21 366.32 
L 597.61 360.47 
L 598.02 376.32 
L 598.42 347.03 
L 598.83 362.53 
L 599.23 359.71 
L 599.64 340.52 
L 600.04 363.54 
L 600.45 372.79 
L 600.85 371.31 
L 601.26 346.74 
L 601.66 361.05 
L 602.07 368.18 
L 602.47 361.83 
L 602.88 361.29 
L 603.28 351.65 
L 603.69 353.25 
L 604.09 356.50 
L 604.50 355.87 
L 604.90 367.86 
L 605.31 373.39 
L 605.71 358.19 
L 606.12 355.64 
L 606.52 358.60 
L 606.93 357.84 
L 607.33 354.65 
L 607.74 370.88 
L 608.14 365.00 
L 608.55 369.32 
L 608.95 379.67 
L 609.36 357.58 
L 609.76 362.57 
L 610.17 357.12 
L 610.57 354.58 
L 610.98 368.62 
L 611.38 347.89 
L 611.79 356.60 
L 612.60 344.64 
L 613.00 363.56 
L 613.41 366.86 
L 614.22 350.56 
L 614.62 349.39 
L 615.03 378.49 
L 615.43 349.41 
L 615.84 363.80 
L 616.24 356.50 
L 616.65 372.85 
L 617.05 370.28 
L 617.46 358.26 
L 617.86 377.58 
L 618.27 354.94 
L 618.67 365.29 
L 619.08 358.58 
L 619.48 359.12 
L 619.89 365.86 
L 620.29 349.35 
L 620.70 340.52 
L 621.10 352.74 
L 621.51 376.25 
L 621.91 361.11 
L 622.32 362.93 
L 622.72 352.65 
L 623.13 359.31 
L 623.53 341.53 
L 623.94 352.46 
L 624.34 354.42 
L 624.75 363.36 
L 625.16 369.40 
L 625.56 362.42 
L 626.37 356.15 
L 626.78 358.39 
L 627.18 363.17 
L 627.59 360.49 
L 628.40 370.53 
L 628.80 369.91 
L 629.21 357.07 
L 629.61 353.74 
L 630.02 362.06 
L 630.42 362.16 
L 630.83 355.85 
L 631.23 361.51 
L 631.64 340.52 
L 632.04 356.65 
L 632.45 365.28 
L 632.85 378.66 
L 633.26 360.49 
L 633.66 351.40 
L 634.07 360.28 
L 634.47 349.47 
L 634.88 365.22 
L 635.28 362.14 
L 635.69 362.64 
L 636.09 368.03 
L 636.50 375.57 
L 636.90 371.23 
L 637.31 380.41 
L 637.71 355.61 
L 638.12 361.83 
L 638.52 361.82 
L 638.93 366.32 
L 639.33 352.60 
L 639.74 367.90 
L 640.14 346.30 
L 640.55 349.47 
L 640.95 366.21 
L 641.36 363.21 
L 642.17 348.89 
L 642.57 367.01 
L 642.98 366.12 
L 643.38 340.52 
L 643.79 350.19 
L 644.19 351.53 
L 644.60 342.62 
L 645.81 377.69 
L 646.22 354.46 
L 646.62 370.81 
L 647.03 355.55 
L 647.43 379.32 
L 647.84 382.63 
L 648.24 361.53 
L 648.65 372.68 
L 649.05 367.12 
L 649.46 369.23 
L 649.86 360.34 
L 650.27 372.63 
L 650.67 364.45 
L 651.08 348.68 
L 651.48 346.94 
L 651.89 342.54 
L 652.29 355.05 
L 652.70 364.05 
L 653.10 357.99 
L 653.51 353.97 
L 653.91 357.45 
L 654.32 347.37 
L 654.72 365.60 
L 655.13 363.21 
L 655.53 375.43 
L 655.94 366.22 
L 656.34 350.03 
L 656.75 359.12 
L 657.15 353.74 
L 657.56 356.09 
L 657.96 351.52 
L 658.37 367.69 
L 658.77 356.48 
L 659.18 354.10 
L 659.58 349.61 
L 659.99 347.09 
L 660.39 364.05 
L 660.80 374.65 
L 661.20 368.19 
L 661.61 349.48 
L 662.01 368.94 
L 662.42 374.63 
L 663.23 374.46 
L 663.63 355.44 
L 664.04 367.46 
L 664.44 367.33 
L 664.85 351.00 
L 665.25 351.26 
L 665.66 351.77 
L 666.06 367.07 
L 666.47 377.71 
L 667.28 344.89 
L 667.68 362.44 
L 668.09 363.51 
L 668.49 383.78 
L 668.90 348.07 
L 669.71 377.47 
L 670.12 362.97 
L 670.52 366.62 
L 670.93 355.53 
L 671.33 341.06 
L 671.74 366.30 
L 672.14 359.80 
L 672.55 364.33 
L 672.95 367.39 
L 673.76 346.49 
L 674.57 364.25 
L 674.98 356.29 
L 675.38 358.08 
L 675.79 353.04 
L 676.19 365.21 
L 676.60 359.86 
L 677.00 345.89 
L 677.41 358.99 
L 677.81 351.69 
L 678.22 359.88 
L 678.62 359.97 
L 679.03 367.69 
L 679.43 340.52 
L 679.84 347.46 
L 680.24 348.75 
L 680.65 349.08 
L 681.05 369.15 
L 681.46 368.74 
L 681.86 363.28 
L 682.27 377.06 
L 682.67 370.90 
L 683.08 354.13 
L 683.48 381.01 
L 684.29 362.79 
L 685.10 361.18 
L 685.51 368.04 
L 685.91 353.17 
L 686.32 383.78 
L 686.72 359.00 
L 687.13 374.98 
L 687.94 362.31 
L 688.34 346.47 
L 688.75 367.90 
L 689.15 375.26 
L 689.56 353.26 
L 689.96 360.76 
L 690.37 360.63 
L 691.18 351.14 
L 691.58 358.28 
L 691.99 381.35 
L 692.39 364.74 
L 692.80 360.94 
L 693.20 384.03 
L 694.01 355.93 
L 694.42 357.98 
L 694.82 369.05 
L 695.23 356.37 
L 695.63 359.04 
L 696.04 372.86 
L 696.44 364.62 
L 696.85 373.63 
L 697.25 370.22 
L 697.66 358.86 
L 698.06 372.20 
L 698.47 373.75 
L 698.87 358.50 
L 699.28 370.08 
L 699.68 364.33 
L 700.49 362.58 
L 700.90 357.39 
L 701.30 364.57 
L 701.71 368.47 
L 702.11 365.95 
L 702.52 350.67 
L 702.92 351.26 
L 703.33 360.25 
L 703.73 349.55 
L 704.14 353.12 
L 704.54 370.11 
L 704.95 347.97 
L 705.35 340.52 
L 705.76 354.70 
L 706.16 375.55 
L 706.57 348.57 
L 706.97 353.92 
L 707.38 361.03 
L 707.78 380.75 
L 708.19 363.69 
L 709.00 364.09 
L 709.40 365.12 
L 709.81 352.38 
L 710.21 363.90 
L 710.62 357.04 
L 711.02 378.79 
L 711.43 371.89 
L 711.83 361.91 
L 712.24 369.29 
L 712.64 361.21 
L 713.05 361.23 
L 713.45 358.98 
L 713.86 363.71 
L 714.26 355.13 
L 714.67 373.08 
L 715.08 365.78 
L 715.48 347.42 
L 715.89 363.29 
L 716.29 347.12 
L 716.70 356.08 
L 717.10 362.50 
L 717.51 360.01 
L 717.91 346.26 
L 718.32 362.16 
L 718.72 371.39 
L 719.13 357.09 
L 719.53 353.75 
L 719.94 352.19 
L 720.34 374.30 
L 720.75 358.29 
L 721.15 359.79 
L 721.96 365.46 
L 722.37 356.83 
L 722.77 360.93 
L 723.18 361.16 
L 723.58 342.92 
L 724.39 371.46 
L 724.80 370.53 
L 725.20 368.92 
L 725.61 377.01 
L 726.01 352.39 
L 726.42 343.34 
L 726.82 364.93 
L 727.23 352.87 
L 727.63 367.08 
L 728.04 367.90 
L 728.44 378.38 
L 729.25 349.82 
L 729.66 348.28 
L 730.47 362.70 
L 730.87 350.03 
L 731.28 344.16 
L 731.68 366.30 
L 732.09 358.79 
L 732.49 361.03 
L 733.30 372.53 
L 733.71 369.80 
L 734.11 360.58 
L 734.52 358.34 
L 734.92 359.17 
L 735.33 349.01 
L 735.73 366.08 
L 736.14 373.22 
L 736.54 373.19 
L 736.95 358.27 
L 737.35 365.64 
L 737.76 376.99 
L 738.16 353.83 
L 738.57 347.45 
L 738.97 357.68 
L 739.38 354.54 
L 739.78 373.34 
L 740.19 375.44 
L 740.59 360.64 
L 741.00 358.76 
L 741.40 362.37 
L 741.81 363.67 
L 742.21 367.00 
L 742.62 348.32 
L 743.02 367.55 
L 743.43 362.69 
L 743.83 351.48 
L 744.24 369.41 
L 744.64 360.22 
L 745.05 361.76 
L 745.45 355.17 
L 745.86 383.78 
L 746.26 365.84 
L 746.67 368.66 
L 747.07 351.58 
L 747.48 360.29 
L 747.88 366.06 
L 748.29 353.16 
L 748.69 354.12 
L 749.10 350.86 
L 749.50 349.94 
L 749.91 352.64 
L 750.31 365.36 
L 750.72 358.40 
L 751.53 357.09 
L 751.93 357.23 
L 752.34 359.49 
L 752.74 364.62 
L 753.15 361.79 
L 753.55 370.12 
L 753.96 370.16 
L 754.36 355.01 
L 754.77 363.20 
L 755.17 360.09 
L 755.58 365.81 
L 755.98 376.83 
L 756.39 366.17 
L 756.79 346.74 
L 757.20 360.23 
L 757.60 367.16 
L 758.01 355.00 
L 758.41 364.78 
L 758.82 366.96 
L 759.22 376.27 
L 759.63 378.89 
L 760.04 358.60 
L 760.44 359.22 
L 760.85 360.21 
L 761.25 354.36 
L 761.66 364.48 
L 762.06 360.92 
L 762.47 368.97 
L 762.87 369.71 
L 763.28 368.72 
L 763.68 352.71 
L 764.09 353.49 
L 764.49 369.52 
L 765.30 359.99 
L 765.71 368.30 
L 766.11 355.29 
L 766.52 367.64 
L 766.92 364.68 
L 767.33 364.37 
L 767.73 378.98 
L 768.14 379.61 
L 768.54 370.77 
L 768.95 350.98 
L 769.35 354.47 
L 769.76 355.99 
L 770.16 366.25 
L 770.57 365.80 
L 770.97 360.84 
L 771.38 358.28 
L 771.78 374.99 
L 772.19 368.92 
L 772.59 368.87 
L 773.00 349.71 
L 773.40 364.85 
L 773.81 368.93 
L 774.21 354.14 
L 774.62 364.34 
L 775.02 352.67 
L 775.43 369.10 
L 775.83 344.77 
L 776.24 359.89 
L 776.64 359.41 
L 777.05 362.97 
L 777.45 361.47 
L 777.86 360.69 
L 778.26 363.98 
L 778.67 349.89 
L 779.07 382.03 
L 779.88 365.77 
L 780.29 362.59 
L 780.69 348.01 
L 781.91 368.35 
L 782.31 344.01 
L 782.72 351.20 
L 783.12 340.52 
L 783.53 372.42 
L 783.93 346.43 
L 784.34 360.20 
L 784.74 368.80 
L 785.15 360.35 
L 785.55 359.61 
L 785.96 363.67 
L 786.36 374.84 
L 786.77 333.91 
L 787.17 373.42 
L 787.58 361.18 
L 787.98 373.73 
L 788.39 359.98 
L 788.79 364.65 
L 789.20 352.45 
L 789.60 367.38 
L 790.01 374.33 
L 790.41 375.55 
L 791.22 340.52 
L 791.63 370.17 
L 792.03 367.73 
L 792.44 347.65 
L 792.84 353.58 
L 793.25 348.72 
L 793.65 356.85 
L 794.06 356.09 
L 794.46 359.98 
L 794.87 371.45 
L 795.27 360.05 
L 795.68 370.16 
L 796.08 356.17 
L 796.49 383.78 
L 796.89 383.78 
L 797.30 364.90 
L 797.70 360.78 
L 798.11 344.79 
L 798.51 367.46 
L 798.92 356.25 
L 799.32 378.40 
L 799.73 341.95 
L 800.13 383.78 
L 800.54 350.11 
L 801.35 379.78 
L 801.75 369.01 
L 802.16 354.53 
L 802.97 370.12 
L 803.37 361.25 
L 803.78 362.15 
L 804.18 353.77 
L 804.59 355.05 
L 805 366.02 
L 805.40 369.95 
L 805.81 362.66 
L 806.21 363.85 
L 806.62 359.95 
L 807.02 371.82 
L 807.43 362.09 
L 807.83 370.06 
L 808.24 357.81 
L 808.64 359.33 
L 809.05 364.42 
L 809.45 377.71 
L 809.86 353.44 
L 810.26 369.46 
L 810.67 367.57 
L 811.07 363.69 
L 811.48 358.59 
L 811.88 367.12 
L 812.29 367.73 
L 812.69 376.48 
L 813.10 354.03 
L 813.50 366.13 
L 813.91 367.10 
L 814.31 383.78 
L 815.12 354.86 
L 815.53 351.82 
L 815.93 370.97 
L 816.74 356.37 
L 817.15 375.15 
L 817.55 367.07 
L 817.96 356.07 
L 818.36 351.51 
L 818.77 374.79 
L 819.17 373.89 
L 819.58 352.61 
L 819.98 365.02 
L 820.39 359.01 
L 820.79 372.86 
L 821.20 352.48 
L 821.60 357.51 
L 822.01 348.84 
L 822.41 369.67 
L 822.82 368.08 
L 823.22 374.35 
L 823.63 375.17 
L 824.03 376.28 
L 824.44 362.17 
L 824.84 371.24 
L 825.25 363.84 
L 825.65 369.47 
L 826.06 360.15 
L 826.46 354.96 
L 826.87 354.67 
L 827.27 354.04 
L 827.68 363.35 
L 828.08 356.33 
L 828.49 364.72 
L 829.30 375.46 
L 829.70 364.56 
L 830.11 360.37 
L 830.51 347.65 
L 830.92 365.69 
L 831.32 349.51 
L 831.73 376.13 
L 832.13 364.82 
L 832.54 341.72 
L 832.94 363.49 
L 833.35 371.06 
L 833.75 372.97 
L 834.16 343.34 
L 834.56 349.04 
L 834.97 366.21 
L 835.37 367.01 
L 835.78 383.78 
L 836.59 348.49 
L 836.99 379.57 
L 837.40 353.85 
L 837.80 355.50 
L 838.21 347.13 
L 838.61 365.60 
L 839.02 359.78 
L 839.42 349.35 
L 839.83 356.03 
L 840.23 354.69 
L 840.64 364.10 
L 841.04 363.76 
L 841.45 367.49 
L 841.85 361.17 
L 842.26 361.32 
L 842.66 364.13 
L 843.07 383.78 
L 843.47 386.57 
L 843.88 363.95 
L 844.28 351.22 
L 844.69 369.01 
L 845.09 367.46 
L 845.50 362.70 
L 845.90 352.88 
L 846.31 345.78 
L 846.71 357.41 
L 847.12 361.16 
L 847.52 369.18 
L 847.93 358.72 
L 848.33 364.19 
L 848.74 360.43 
L 849.14 369.98 
L 849.55 352.49 
L 849.96 364.63 
L 849.96 364.63 
" clip-path="url(#p00ab3a5869)" style="fill: none; stroke: #2ca02c; stroke-opacity: 0.35; stroke-width: 1.23; stroke-linecap: square"/>
   </g>
   <g id="line2d_59">
    <path d="M 445.32 373.50 
L 445.72 359.20 
L 446.13 369.04 
L 446.53 353.16 
L 446.94 344.04 
L 447.75 358.16 
L 448.15 365.80 
L 448.56 362.85 
L 448.96 336.85 
L 449.37 344.88 
L 449.77 366.21 
L 450.18 367.77 
L 450.58 354.46 
L 450.99 355.87 
L 451.39 355.85 
L 451.80 350.72 
L 452.20 367.33 
L 452.61 366.08 
L 453.01 347.81 
L 453.82 358.82 
L 454.23 357.92 
L 454.63 350.46 
L 455.04 353.11 
L 455.44 362.91 
L 455.85 369.37 
L 456.25 350.02 
L 456.66 368.47 
L 457.06 337.77 
L 457.47 366.36 
L 457.87 363.67 
L 458.28 346.71 
L 458.68 341.66 
L 459.09 354.44 
L 459.49 380.07 
L 459.90 360.38 
L 460.30 378.94 
L 461.11 348.94 
L 461.52 348.04 
L 461.92 354.54 
L 462.33 353.97 
L 462.73 350.15 
L 463.14 359.79 
L 463.54 360.53 
L 463.95 345.27 
L 464.35 350.62 
L 464.76 344.28 
L 465.16 351.30 
L 465.57 352.21 
L 465.97 347.95 
L 466.38 348.62 
L 466.78 339.05 
L 467.59 360.33 
L 468.00 360.70 
L 468.40 366.55 
L 468.81 355.27 
L 469.62 370.79 
L 470.02 351.51 
L 470.43 341.78 
L 470.83 371.54 
L 471.24 348.42 
L 471.64 353.62 
L 472.05 366.62 
L 472.45 364.36 
L 472.86 359.18 
L 473.26 334.33 
L 473.67 351.95 
L 474.07 340.76 
L 474.48 360.76 
L 474.88 346.58 
L 475.29 347.57 
L 475.69 362.18 
L 476.10 362.72 
L 476.50 352.32 
L 476.91 372.53 
L 477.31 358.29 
L 477.72 370.09 
L 478.12 357.79 
L 478.53 352.44 
L 478.93 349.26 
L 479.34 351.85 
L 479.74 357.89 
L 480.55 365.61 
L 481.36 361.30 
L 481.77 362.00 
L 482.17 355.35 
L 482.58 363.03 
L 482.98 373.78 
L 483.39 351.51 
L 484.20 374.70 
L 485.01 360.94 
L 485.41 359.17 
L 485.82 354.81 
L 486.22 337.62 
L 486.63 368.04 
L 487.03 342.15 
L 487.44 353.46 
L 487.84 359.36 
L 488.25 380.07 
L 488.65 361.57 
L 489.06 350.64 
L 489.46 366.67 
L 489.87 373.59 
L 490.28 371.90 
L 490.68 356.42 
L 491.09 356.28 
L 491.49 341.15 
L 491.90 359.78 
L 492.30 349.03 
L 492.71 368.41 
L 493.11 359.95 
L 493.52 346.29 
L 493.92 358.47 
L 494.33 351.69 
L 494.73 369.31 
L 495.14 367.55 
L 495.54 363.07 
L 495.95 369.04 
L 496.35 362.38 
L 496.76 343.11 
L 497.16 357.60 
L 497.57 354.30 
L 497.97 341.25 
L 498.38 354.86 
L 499.19 361.44 
L 499.59 346.16 
L 500.00 346.60 
L 500.40 335.36 
L 500.81 334.15 
L 501.21 369.56 
L 502.02 335.01 
L 502.43 351.05 
L 502.83 354.20 
L 503.24 367.84 
L 503.64 346.22 
L 504.05 365.38 
L 504.45 355.46 
L 504.86 359.43 
L 505.26 351.97 
L 505.67 360.02 
L 506.07 360.69 
L 506.48 346.54 
L 506.88 355.64 
L 507.29 347.19 
L 507.69 361.79 
L 508.10 342.42 
L 508.50 349.58 
L 508.91 343.70 
L 509.31 347.29 
L 509.72 371.62 
L 510.12 380.07 
L 510.53 348.42 
L 510.93 360.15 
L 511.34 360.57 
L 511.74 365.08 
L 512.15 362.56 
L 512.96 347.34 
L 513.36 358.29 
L 513.77 379.41 
L 514.17 352.63 
L 514.58 353.04 
L 515.39 370.38 
L 515.79 371.70 
L 516.20 345.61 
L 516.60 361.27 
L 517.01 345.16 
L 517.41 357.70 
L 517.82 347.85 
L 518.22 364.75 
L 518.63 370.34 
L 519.03 359.65 
L 519.44 374.93 
L 519.84 372.21 
L 520.25 353.28 
L 520.65 340.91 
L 521.06 353.04 
L 521.46 373.30 
L 521.87 368.61 
L 522.27 355.84 
L 522.68 357.74 
L 523.08 334.15 
L 523.49 335.42 
L 523.89 357.23 
L 524.30 335.78 
L 524.70 363.69 
L 525.11 366.77 
L 525.51 343.47 
L 525.92 365.55 
L 526.32 362.72 
L 526.73 341.42 
L 527.13 358.89 
L 527.54 343.36 
L 527.94 347.95 
L 528.35 359.60 
L 528.75 350.20 
L 529.16 344.69 
L 529.56 346.93 
L 529.97 363.65 
L 530.37 347.65 
L 530.78 379.97 
L 531.18 361.54 
L 531.59 356.44 
L 531.99 347.08 
L 532.40 342.11 
L 532.80 368.84 
L 533.61 358.39 
L 534.02 361.31 
L 534.42 353.30 
L 534.83 349.75 
L 535.24 349.03 
L 535.64 359.13 
L 536.05 334.15 
L 536.45 364.98 
L 536.86 359.29 
L 537.26 341.53 
L 537.67 346.76 
L 538.07 347.51 
L 538.48 343.09 
L 538.88 356.74 
L 539.29 355.18 
L 539.69 344.97 
L 540.10 339.00 
L 540.50 367.37 
L 541.31 356.50 
L 541.72 346.99 
L 542.12 367.59 
L 542.53 347.62 
L 542.93 361.67 
L 543.34 348.90 
L 543.74 352.54 
L 544.15 340.99 
L 544.55 364.51 
L 544.96 350.92 
L 545.36 358.13 
L 545.77 362.89 
L 546.17 347.14 
L 546.58 364.58 
L 546.98 349.33 
L 547.39 365.61 
L 547.79 369.07 
L 548.60 334.15 
L 549.41 364.71 
L 549.82 353.53 
L 550.63 362.85 
L 551.03 354.66 
L 551.84 347.52 
L 552.25 365.60 
L 552.65 341.18 
L 553.46 373.14 
L 553.87 366.46 
L 554.27 356.05 
L 554.68 364.80 
L 555.08 355.17 
L 555.49 365.31 
L 555.89 347.12 
L 556.70 358.72 
L 557.11 347.01 
L 557.51 364.96 
L 557.92 358.88 
L 558.32 350.91 
L 558.73 352.27 
L 559.13 355.59 
L 559.54 347.81 
L 559.94 360.79 
L 560.35 357.22 
L 560.75 365.49 
L 561.16 358.14 
L 561.56 368.81 
L 561.97 370.02 
L 562.37 358.07 
L 562.78 367.29 
L 563.18 350.15 
L 563.59 346.52 
L 563.99 349.89 
L 564.40 348.55 
L 564.80 350.76 
L 565.21 371.83 
L 565.61 369.63 
L 566.02 354.71 
L 566.42 367.57 
L 566.83 364.54 
L 567.23 357.86 
L 567.64 353.76 
L 568.04 327.04 
L 568.45 357.97 
L 568.85 348.36 
L 569.26 352.12 
L 569.66 341.70 
L 570.07 359.71 
L 570.47 344.59 
L 570.88 334.20 
L 571.28 347.34 
L 571.69 345.97 
L 572.09 345.68 
L 572.50 378.24 
L 572.90 365.75 
L 573.31 346.83 
L 573.71 368.70 
L 574.12 354.85 
L 574.52 351.01 
L 574.93 343.83 
L 575.33 356.65 
L 575.74 348.04 
L 576.14 355.97 
L 576.55 341.23 
L 576.95 361.28 
L 577.36 362.30 
L 577.76 353.30 
L 578.17 340.05 
L 578.57 352.44 
L 578.98 356.58 
L 579.38 362.73 
L 579.79 346.99 
L 580.2 362.43 
L 580.60 359.67 
L 581.01 359.73 
L 581.41 346.11 
L 581.82 364.08 
L 582.22 365.94 
L 582.63 355.64 
L 583.03 386.32 
L 583.44 372.07 
L 583.84 367.25 
L 584.25 364.09 
L 584.65 357.09 
L 585.06 365.18 
L 585.46 338.26 
L 585.87 352.18 
L 586.27 344.56 
L 586.68 352.22 
L 587.08 353.89 
L 587.49 349.17 
L 587.89 359.32 
L 588.30 375.99 
L 588.70 354.21 
L 589.11 363.82 
L 589.51 344.67 
L 589.92 364.45 
L 590.32 355.99 
L 590.73 356.36 
L 591.13 362.16 
L 591.54 360.93 
L 591.94 358.83 
L 592.35 355.16 
L 592.75 354.00 
L 593.16 355.95 
L 593.56 356.73 
L 593.97 379.94 
L 594.37 345.39 
L 594.78 348.74 
L 595.18 368.81 
L 595.59 366.33 
L 595.99 379.98 
L 596.40 380.07 
L 596.80 364.41 
L 597.21 341.23 
L 597.61 353.55 
L 598.02 354.13 
L 598.42 355.61 
L 598.83 350.63 
L 599.23 356.39 
L 599.64 364.74 
L 600.04 363.10 
L 600.45 350.37 
L 600.85 359.75 
L 601.26 376.84 
L 601.66 352.97 
L 602.07 353.88 
L 602.47 343.26 
L 602.88 354.07 
L 603.28 356.09 
L 603.69 357.48 
L 604.09 364.40 
L 604.50 354.55 
L 605.31 367.48 
L 605.71 358.51 
L 606.52 352.78 
L 606.93 349.41 
L 607.33 334.26 
L 607.74 356.89 
L 608.14 343.47 
L 608.55 355.09 
L 608.95 355.08 
L 609.36 348.28 
L 609.76 364.05 
L 610.17 357.96 
L 610.57 349.77 
L 610.98 370.72 
L 611.38 367.43 
L 612.19 357.31 
L 612.60 348.92 
L 613.00 368.88 
L 613.41 344.18 
L 613.81 348.28 
L 614.22 349.64 
L 614.62 376.34 
L 615.03 355.15 
L 615.43 364.05 
L 615.84 349.98 
L 616.24 356.78 
L 616.65 360.69 
L 617.05 366.24 
L 617.46 359.72 
L 617.86 350.18 
L 618.27 372.91 
L 619.08 359.87 
L 619.48 358.81 
L 619.89 361.30 
L 620.29 355.14 
L 620.70 355.66 
L 621.10 378.41 
L 621.51 348.52 
L 621.91 370.42 
L 622.32 346.44 
L 622.72 347.89 
L 623.13 374.02 
L 623.94 343.42 
L 624.34 341.78 
L 625.16 363.78 
L 625.56 345.45 
L 625.97 370.89 
L 626.37 373.52 
L 626.78 350.41 
L 627.18 368.30 
L 627.59 352.16 
L 627.99 366.91 
L 628.40 363.70 
L 628.80 345.86 
L 629.21 356.16 
L 629.61 350.06 
L 630.02 357.68 
L 630.83 363.71 
L 631.23 366.55 
L 631.64 353.49 
L 632.04 351.67 
L 632.45 339.76 
L 632.85 351.89 
L 633.26 358.52 
L 633.66 351.67 
L 634.07 342.00 
L 634.47 369.72 
L 634.88 341.52 
L 635.69 382.88 
L 636.09 334.15 
L 636.50 343.44 
L 636.90 360.36 
L 637.31 348.31 
L 637.71 342.47 
L 638.12 348.18 
L 638.52 344.92 
L 638.93 351.63 
L 639.33 350.75 
L 639.74 367.43 
L 640.14 368.00 
L 640.55 355.64 
L 640.95 370.18 
L 641.36 351.04 
L 641.76 356.69 
L 642.17 344.94 
L 642.57 346.48 
L 642.98 359.38 
L 643.38 380.07 
L 643.79 374.33 
L 644.19 358.06 
L 644.60 336.43 
L 645.00 354.22 
L 645.41 350.36 
L 645.81 356.02 
L 646.22 380.07 
L 646.62 353.04 
L 647.03 358.50 
L 647.43 372.24 
L 647.84 350.99 
L 648.24 356.35 
L 648.65 334.15 
L 649.05 376.51 
L 649.86 356.89 
L 650.27 360.13 
L 650.67 350.30 
L 651.08 347.04 
L 651.89 355.18 
L 652.29 363.03 
L 653.10 347.46 
L 653.51 354.29 
L 653.91 378.08 
L 654.32 342.08 
L 654.72 359.73 
L 655.13 348.01 
L 655.53 360.35 
L 655.94 346.19 
L 656.34 358.53 
L 656.75 342.14 
L 657.15 342.29 
L 657.96 380.07 
L 658.37 355.86 
L 658.77 366.26 
L 659.18 347.63 
L 659.58 351.71 
L 660.39 366.23 
L 660.80 365.87 
L 661.20 343.07 
L 661.61 345.61 
L 662.01 357.38 
L 662.42 353.24 
L 662.82 347.00 
L 663.23 357.22 
L 663.63 392.42 
L 664.04 342.02 
L 664.44 358.04 
L 664.85 362.44 
L 665.25 356.68 
L 665.66 365.97 
L 666.06 368.40 
L 666.47 355.29 
L 666.87 363.13 
L 667.28 352.75 
L 667.68 351.92 
L 668.09 336.39 
L 668.49 356.91 
L 668.90 355.44 
L 669.30 361.41 
L 669.71 345.17 
L 670.12 350.25 
L 670.52 351.81 
L 670.93 337.21 
L 671.33 351.41 
L 671.74 353.04 
L 672.14 369.35 
L 672.55 375.78 
L 672.95 363.03 
L 673.36 355.90 
L 673.76 367.26 
L 674.17 366.98 
L 674.57 349.71 
L 674.98 361.02 
L 675.38 362.33 
L 675.79 360.08 
L 676.19 367.73 
L 676.60 348.74 
L 677.00 341.58 
L 677.41 344.60 
L 677.81 340.02 
L 678.22 375.01 
L 678.62 348.94 
L 679.03 356.72 
L 679.43 342.85 
L 679.84 361.02 
L 680.65 337.83 
L 681.05 348.10 
L 681.46 353.86 
L 681.86 357.29 
L 682.27 350.76 
L 682.67 357.19 
L 683.08 367.82 
L 683.48 350.75 
L 683.89 339.01 
L 684.29 350.06 
L 684.70 344.68 
L 685.10 342.77 
L 685.51 353.91 
L 685.91 356.12 
L 686.32 363.58 
L 686.72 354.12 
L 687.13 350.43 
L 687.53 364.35 
L 687.94 359.28 
L 688.34 345.68 
L 688.75 361.01 
L 689.15 348.79 
L 689.56 351.19 
L 689.96 358.16 
L 690.37 347.06 
L 690.77 348.60 
L 691.18 355.45 
L 691.58 354.58 
L 691.99 351.54 
L 692.39 350.21 
L 692.80 350.67 
L 693.20 348.05 
L 693.61 359.64 
L 694.01 341.73 
L 694.42 355.14 
L 694.82 357.24 
L 695.23 343.09 
L 695.63 344.59 
L 696.04 373.67 
L 696.44 357.28 
L 696.85 348.12 
L 697.25 349.38 
L 697.66 372.18 
L 698.06 364.04 
L 698.47 363.99 
L 698.87 350.13 
L 699.28 346.50 
L 700.09 355.42 
L 700.49 363.44 
L 700.90 345.86 
L 701.30 377.44 
L 701.71 352.21 
L 702.11 349.21 
L 702.52 351.84 
L 702.92 355.23 
L 703.33 354.10 
L 703.73 348.77 
L 704.14 361.29 
L 704.54 348.88 
L 704.95 354.88 
L 705.35 354.56 
L 705.76 380.07 
L 706.16 372.14 
L 706.57 359.35 
L 706.97 362.42 
L 707.38 347.40 
L 707.78 370.14 
L 708.19 345.32 
L 708.59 346.74 
L 709.00 352.62 
L 709.81 368.05 
L 710.21 369.42 
L 710.62 364.14 
L 711.43 349.21 
L 711.83 348.09 
L 712.24 344.56 
L 712.64 344.70 
L 713.05 361.36 
L 713.45 361.47 
L 713.86 345.88 
L 714.26 362.59 
L 714.67 346.46 
L 715.08 354.29 
L 715.48 369.73 
L 715.89 352.67 
L 716.29 353.19 
L 716.70 363.35 
L 717.10 329.71 
L 717.51 355.40 
L 718.32 347.18 
L 718.72 350.64 
L 719.53 373.74 
L 720.34 346.54 
L 720.75 355.76 
L 721.15 368.14 
L 721.96 380.07 
L 722.37 356.61 
L 722.77 351.32 
L 723.18 377.83 
L 723.58 363.81 
L 723.99 342.86 
L 724.39 376.55 
L 724.80 343.26 
L 725.20 343.26 
L 725.61 346.05 
L 726.01 349.75 
L 726.42 350.04 
L 726.82 348.77 
L 727.23 338.85 
L 727.63 364.93 
L 728.04 375.00 
L 728.44 378.24 
L 728.85 355.54 
L 729.25 345.65 
L 729.66 361.59 
L 730.06 352.00 
L 730.47 353.13 
L 730.87 344.10 
L 731.68 350.56 
L 732.09 361.55 
L 732.49 359.89 
L 732.90 347.30 
L 733.30 353.13 
L 733.71 342.69 
L 734.11 360.39 
L 734.52 346.76 
L 734.92 356.58 
L 735.33 351.58 
L 735.73 373.06 
L 736.14 350.52 
L 736.54 364.04 
L 736.95 345.02 
L 737.35 346.22 
L 737.76 360.83 
L 738.16 341.96 
L 738.97 336.91 
L 739.38 341.82 
L 739.78 357.65 
L 740.19 330.86 
L 740.59 366.53 
L 741.40 352.51 
L 741.81 371.67 
L 742.21 345.29 
L 742.62 348.21 
L 743.02 355.96 
L 743.43 377.64 
L 744.24 348.35 
L 744.64 348.30 
L 745.05 363.50 
L 745.45 369.53 
L 745.86 356.54 
L 746.26 367.30 
L 746.67 373.46 
L 747.07 343.25 
L 747.48 354.20 
L 747.88 351.76 
L 748.29 357.59 
L 748.69 346.42 
L 749.10 391.79 
L 749.50 356.08 
L 749.91 359.79 
L 750.31 359.89 
L 750.72 347.20 
L 751.12 353.41 
L 751.53 367.42 
L 751.93 343.91 
L 752.34 354.14 
L 752.74 350.51 
L 753.15 341.36 
L 753.55 349.10 
L 753.96 346.94 
L 754.36 355.55 
L 754.77 349.64 
L 755.17 346.22 
L 755.98 355.99 
L 756.79 358.39 
L 757.20 353.42 
L 757.60 360.02 
L 758.01 350.55 
L 758.41 359.54 
L 758.82 346.36 
L 759.63 361.63 
L 760.04 352.02 
L 760.44 366.09 
L 760.85 334.15 
L 761.25 359.54 
L 761.66 357.43 
L 762.06 342.43 
L 762.47 359.71 
L 762.87 365.16 
L 763.28 366.41 
L 763.68 345.87 
L 764.09 365.91 
L 764.49 340.54 
L 765.30 356.23 
L 765.71 344.94 
L 766.11 354.70 
L 766.52 358.38 
L 766.92 368.83 
L 767.33 371.81 
L 767.73 355.01 
L 768.14 376.66 
L 768.54 374.10 
L 768.95 373.61 
L 769.35 358.33 
L 769.76 370.51 
L 770.16 359.34 
L 770.57 334.15 
L 770.97 353.69 
L 771.38 339.22 
L 772.19 367.25 
L 772.59 363.01 
L 773.00 363.65 
L 773.40 353.11 
L 773.81 349.65 
L 774.21 354.33 
L 775.02 364.88 
L 775.43 361.52 
L 775.83 366.20 
L 776.24 365.65 
L 776.64 334.15 
L 777.05 345.95 
L 777.45 366.24 
L 777.86 357.67 
L 778.26 353.74 
L 778.67 357.05 
L 779.07 363.57 
L 779.48 354.19 
L 779.88 355.45 
L 780.29 352.10 
L 780.69 345.73 
L 781.10 361.14 
L 781.50 355.57 
L 782.31 366.12 
L 782.72 363.13 
L 783.12 355.65 
L 783.93 367.26 
L 784.34 365.27 
L 784.74 356.42 
L 785.15 343.34 
L 785.55 343.27 
L 785.96 371.68 
L 786.77 351.64 
L 787.17 360.32 
L 787.58 358.68 
L 787.98 366.42 
L 788.39 356.26 
L 788.79 358.08 
L 789.20 365.52 
L 789.60 352.58 
L 790.01 346.40 
L 790.41 351.00 
L 790.82 367.71 
L 791.22 355.23 
L 791.63 348.98 
L 792.03 345.31 
L 792.44 344.13 
L 792.84 346.38 
L 793.25 357.46 
L 793.65 351.77 
L 794.06 349.39 
L 794.46 354.87 
L 794.87 353.32 
L 795.27 366.57 
L 795.68 354.72 
L 796.08 360.69 
L 796.49 358.52 
L 796.89 340.54 
L 797.30 352.84 
L 797.70 353.27 
L 798.51 372.51 
L 798.92 370.57 
L 799.32 361.15 
L 799.73 359.31 
L 800.13 375.53 
L 800.54 365.09 
L 800.94 357.52 
L 801.35 364.80 
L 801.75 361.08 
L 802.16 356.05 
L 802.56 345.00 
L 802.97 352.24 
L 803.37 341.81 
L 803.78 369.11 
L 804.18 345.52 
L 804.59 357.30 
L 805.40 336.52 
L 805.81 345.55 
L 806.21 351.39 
L 806.62 340.91 
L 807.02 359.65 
L 807.43 346.88 
L 807.83 351.83 
L 808.24 352.38 
L 808.64 361.92 
L 809.05 353.89 
L 809.45 352.75 
L 809.86 356.39 
L 810.26 353.32 
L 810.67 370.35 
L 811.07 348.75 
L 811.48 358.20 
L 811.88 354.36 
L 812.29 362.37 
L 812.69 360.46 
L 813.10 363.14 
L 813.50 345.21 
L 813.91 363.36 
L 814.31 364.55 
L 814.72 359.02 
L 815.12 369.14 
L 815.53 368.10 
L 815.93 355.68 
L 816.34 353.68 
L 816.74 348.94 
L 817.15 351.46 
L 817.55 364.55 
L 817.96 367.88 
L 818.36 329.33 
L 818.77 378.17 
L 819.17 357.16 
L 819.98 344.78 
L 820.39 342.46 
L 820.79 344.91 
L 821.20 336.95 
L 821.60 373.06 
L 822.01 360.91 
L 822.41 353.71 
L 822.82 379.57 
L 823.22 366.40 
L 823.63 346.25 
L 824.03 361.86 
L 824.44 347.39 
L 824.84 349.39 
L 825.25 344.50 
L 826.06 350.27 
L 826.46 349.19 
L 826.87 364.26 
L 827.27 341.20 
L 827.68 357.13 
L 828.08 364.36 
L 828.49 352.72 
L 828.89 370.16 
L 829.30 337.59 
L 829.70 334.15 
L 830.11 342.50 
L 830.51 363.85 
L 830.92 352.51 
L 831.32 353.05 
L 831.73 360.83 
L 832.13 359.35 
L 832.54 351.96 
L 832.94 360.35 
L 833.35 356.73 
L 833.75 355.58 
L 834.16 368.60 
L 834.56 360.18 
L 834.97 360.20 
L 835.37 340.61 
L 835.78 352.75 
L 836.18 351.23 
L 836.59 352.82 
L 836.99 355.37 
L 837.40 354.71 
L 837.80 356.56 
L 838.21 377.31 
L 838.61 357.23 
L 839.02 361.66 
L 839.42 359.01 
L 839.83 365.34 
L 840.23 365.56 
L 840.64 356.48 
L 841.04 360.07 
L 841.45 355.52 
L 841.85 353.29 
L 842.26 355.44 
L 842.66 354.47 
L 843.07 361.14 
L 843.47 358.25 
L 843.88 349.65 
L 844.28 356.71 
L 844.69 349.90 
L 845.09 354.39 
L 845.50 345.66 
L 845.90 364.02 
L 846.31 353.68 
L 846.71 347.18 
L 847.12 362.07 
L 847.52 354.76 
L 847.93 352.10 
L 848.33 356.42 
L 848.74 346.70 
L 849.14 351.27 
L 849.55 357.46 
L 849.96 347.63 
L 849.96 347.63 
" clip-path="url(#p00ab3a5869)" style="fill: none; stroke: #d62728; stroke-opacity: 0.35; stroke-width: 1.23; stroke-linecap: square"/>
   </g>
   <g id="line2d_60">
    <path d="M 445.32 356.25 
L 445.72 340.13 
L 446.13 371.51 
L 446.53 359.32 
L 446.94 360.03 
L 447.34 359.76 
L 447.75 377.60 
L 448.15 360.75 
L 448.56 365.11 
L 448.96 353.94 
L 449.37 369.44 
L 449.77 345.52 
L 450.18 358.95 
L 450.58 364.41 
L 450.99 357.67 
L 451.39 373.23 
L 451.80 371.15 
L 452.20 355.99 
L 452.61 362.65 
L 453.01 359.77 
L 453.42 380.13 
L 453.82 374.87 
L 454.23 377.12 
L 454.63 347.24 
L 455.04 360.77 
L 455.44 349.03 
L 455.85 362.09 
L 456.25 351.46 
L 456.66 364.92 
L 457.06 365.60 
L 457.87 360.38 
L 458.28 378.75 
L 458.68 363.03 
L 459.09 370.17 
L 459.49 368.41 
L 459.90 364.53 
L 460.30 365.25 
L 460.71 362.24 
L 461.11 351.54 
L 461.52 350.09 
L 461.92 344.47 
L 462.33 365.53 
L 462.73 362.57 
L 463.54 365.44 
L 463.95 355.89 
L 464.35 353.67 
L 464.76 361.03 
L 465.16 359.41 
L 465.57 349.20 
L 465.97 360.71 
L 466.38 350.52 
L 466.78 359.33 
L 467.19 355.97 
L 467.59 343.45 
L 468.00 363.37 
L 468.40 357.16 
L 468.81 348.31 
L 469.21 357.54 
L 470.02 340.13 
L 470.43 344.67 
L 470.83 358.69 
L 471.24 366.91 
L 471.64 358.42 
L 472.05 364.47 
L 472.45 367.09 
L 472.86 353.68 
L 473.26 352.99 
L 473.67 373.89 
L 474.07 365.70 
L 474.48 369.64 
L 474.88 354.56 
L 475.29 355.56 
L 475.69 350.48 
L 476.10 358.79 
L 476.50 354.66 
L 476.91 352.62 
L 477.31 359.18 
L 477.72 351.40 
L 478.12 374.96 
L 478.53 351.80 
L 478.93 371.12 
L 479.74 357.79 
L 480.15 358.21 
L 480.55 372.25 
L 480.96 360.59 
L 481.36 379.24 
L 481.77 364.03 
L 482.17 364.64 
L 482.58 346.83 
L 482.98 361.45 
L 483.39 367.06 
L 483.79 367.36 
L 484.20 368.75 
L 484.60 361.14 
L 485.01 358.41 
L 485.41 345.51 
L 485.82 370.69 
L 486.22 356.05 
L 486.63 372.80 
L 487.03 364.22 
L 487.44 350.49 
L 487.84 348.26 
L 488.25 351.35 
L 488.65 364.56 
L 489.06 352.02 
L 489.46 345.78 
L 489.87 371.52 
L 490.68 359.97 
L 491.09 357.88 
L 491.49 357.04 
L 492.30 366.31 
L 492.71 355.97 
L 493.11 366.37 
L 493.52 362.23 
L 493.92 356.05 
L 494.33 355.58 
L 494.73 351.64 
L 495.14 350.79 
L 495.54 352.72 
L 495.95 345.55 
L 496.35 370.77 
L 496.76 359.00 
L 497.16 357.86 
L 497.57 361.64 
L 497.97 359.99 
L 498.38 356.42 
L 498.78 362.49 
L 499.19 342.16 
L 499.59 340.47 
L 500.00 361.94 
L 500.40 350.40 
L 500.81 350.99 
L 501.62 360.91 
L 502.02 355.02 
L 502.43 357.63 
L 502.83 364.19 
L 503.24 352.00 
L 503.64 357.21 
L 504.05 349.10 
L 504.45 370.45 
L 504.86 367.80 
L 505.26 380.55 
L 505.67 366.34 
L 506.07 370.96 
L 506.48 355.61 
L 506.88 350.16 
L 507.29 357.90 
L 507.69 351.39 
L 508.10 365.34 
L 508.50 371.80 
L 508.91 348.48 
L 509.31 349.64 
L 509.72 352.18 
L 510.12 362.11 
L 510.53 350.77 
L 510.93 353.39 
L 511.34 340.13 
L 511.74 380.55 
L 512.15 373.25 
L 512.55 353.46 
L 512.96 352.45 
L 513.36 356.17 
L 514.17 366.02 
L 514.58 345.66 
L 514.98 348.06 
L 515.39 355.59 
L 515.79 355.66 
L 516.20 344.29 
L 516.60 367.42 
L 517.01 371.29 
L 517.41 362.01 
L 517.82 369.65 
L 518.22 352.88 
L 519.03 352.55 
L 519.44 361.20 
L 519.84 365.41 
L 520.25 356.64 
L 520.65 378.10 
L 521.06 375.65 
L 521.46 371.02 
L 521.87 373.83 
L 522.27 361.28 
L 522.68 370.85 
L 523.08 355.10 
L 523.49 360.53 
L 523.89 375.15 
L 524.30 380.55 
L 524.70 345.74 
L 525.11 355.98 
L 525.51 355.93 
L 525.92 364.38 
L 526.32 369.80 
L 526.73 349.01 
L 527.13 370.16 
L 527.94 360.84 
L 528.35 368.61 
L 528.75 366.26 
L 529.56 365.56 
L 529.97 346.85 
L 530.37 358.62 
L 530.78 351.21 
L 531.18 367.66 
L 531.59 366.30 
L 531.99 366.91 
L 532.40 375.44 
L 532.80 361.92 
L 533.21 373.78 
L 533.61 372.77 
L 534.02 361.72 
L 534.42 357.95 
L 534.83 367.66 
L 535.24 359.84 
L 535.64 349.49 
L 536.05 346.22 
L 536.45 350.70 
L 536.86 362.33 
L 537.26 348.95 
L 537.67 361.90 
L 538.07 363.39 
L 538.48 351.91 
L 538.88 356.17 
L 539.29 355.41 
L 539.69 367.61 
L 540.10 363.57 
L 540.50 357.76 
L 540.91 355.29 
L 541.31 354.74 
L 541.72 375.88 
L 542.12 341.99 
L 542.53 351.05 
L 542.93 366.98 
L 543.34 350.08 
L 543.74 360.37 
L 544.15 363.75 
L 544.55 345.61 
L 544.96 369.08 
L 545.36 370.51 
L 545.77 369.29 
L 546.17 366.42 
L 546.58 340.13 
L 546.98 361.31 
L 547.39 369.64 
L 547.79 359.45 
L 548.60 347.79 
L 549.01 366.82 
L 549.41 343.20 
L 550.22 367.71 
L 550.63 368.00 
L 551.03 356.37 
L 551.44 359.47 
L 551.84 363.89 
L 552.25 358.96 
L 552.65 340.13 
L 553.06 344.74 
L 553.46 362.96 
L 553.87 366.89 
L 554.27 351.45 
L 554.68 369.05 
L 555.08 377.47 
L 555.49 370.93 
L 555.89 373.51 
L 556.30 375.08 
L 556.70 363.95 
L 557.11 368.13 
L 557.51 364.26 
L 557.92 357.44 
L 558.73 374.30 
L 559.13 370.57 
L 559.54 353.57 
L 559.94 369.88 
L 560.35 372.02 
L 560.75 357.66 
L 561.16 368.91 
L 561.56 370.10 
L 561.97 359.02 
L 562.37 361.49 
L 562.78 365.70 
L 563.18 364.76 
L 563.59 350.88 
L 563.99 356.36 
L 564.40 366.45 
L 564.80 364.89 
L 565.21 346.18 
L 565.61 360.96 
L 566.02 357.13 
L 566.42 357.14 
L 566.83 364.64 
L 567.23 359.10 
L 567.64 369.00 
L 568.04 363.51 
L 568.45 349.78 
L 568.85 360.62 
L 569.26 346.11 
L 569.66 356.84 
L 570.07 355.05 
L 570.47 358.44 
L 570.88 368.19 
L 571.28 351.00 
L 571.69 346.19 
L 572.09 355.87 
L 572.90 362.24 
L 573.71 349.70 
L 574.12 350.65 
L 574.52 356.68 
L 574.93 359.45 
L 575.33 358.68 
L 575.74 361.31 
L 576.14 370.26 
L 576.55 342.94 
L 576.95 365.87 
L 577.36 369.58 
L 577.76 347.85 
L 578.17 354.31 
L 578.57 354.53 
L 578.98 364.44 
L 579.38 360.64 
L 579.79 353.01 
L 580.2 340.13 
L 580.60 352.54 
L 581.01 358.07 
L 581.41 353.76 
L 581.82 359.01 
L 582.63 376.98 
L 583.03 357.27 
L 583.44 373.41 
L 583.84 350.46 
L 584.25 364.17 
L 584.65 365.02 
L 585.06 372.10 
L 585.46 371.71 
L 585.87 367.78 
L 586.27 358.52 
L 586.68 365.00 
L 587.08 362.59 
L 587.49 366.00 
L 587.89 356.63 
L 588.30 356.79 
L 588.70 356.11 
L 589.11 369.97 
L 589.51 369.22 
L 589.92 373.86 
L 590.32 355.71 
L 590.73 380.55 
L 591.13 349.23 
L 591.54 362.55 
L 591.94 367.19 
L 592.35 359.87 
L 592.75 363.32 
L 593.16 364.53 
L 593.56 357.77 
L 593.97 355.22 
L 594.37 365.21 
L 594.78 346.61 
L 595.18 371.83 
L 595.59 354.12 
L 595.99 357.85 
L 596.40 370.24 
L 596.80 353.90 
L 597.21 348.01 
L 597.61 374.15 
L 598.02 356.72 
L 598.42 361.30 
L 598.83 358.79 
L 599.23 375.87 
L 599.64 356.71 
L 600.04 349.56 
L 600.45 357.10 
L 600.85 366.80 
L 601.26 364.59 
L 601.66 358.22 
L 602.07 362.38 
L 602.47 373.65 
L 602.88 373.14 
L 603.28 375.64 
L 603.69 361.97 
L 604.09 344.30 
L 604.50 346.92 
L 604.90 361.56 
L 605.31 362.77 
L 605.71 352.40 
L 606.12 353.71 
L 606.52 348.41 
L 607.33 363.88 
L 607.74 355.64 
L 608.14 344.35 
L 608.55 356.54 
L 608.95 341.93 
L 609.36 366.85 
L 609.76 364.08 
L 610.17 358.83 
L 610.57 361.39 
L 610.98 352.21 
L 611.38 356.82 
L 611.79 354.15 
L 612.19 346.15 
L 612.60 370.28 
L 613.00 364.15 
L 613.41 343.08 
L 613.81 361.85 
L 614.22 370.76 
L 614.62 369.50 
L 615.03 372.33 
L 615.43 363.19 
L 615.84 358.50 
L 616.24 357.34 
L 616.65 353.36 
L 617.05 361.31 
L 617.46 353.23 
L 617.86 349.61 
L 618.27 372.62 
L 618.67 371.19 
L 619.08 357.38 
L 619.48 371.37 
L 619.89 351.78 
L 620.29 365.33 
L 620.70 367.02 
L 621.10 359.99 
L 621.51 340.13 
L 621.91 369.06 
L 622.32 361.91 
L 622.72 367.81 
L 623.13 356.16 
L 623.53 361.57 
L 623.94 361.36 
L 624.34 356.55 
L 624.75 362.47 
L 625.16 360.59 
L 625.56 388.61 
L 625.97 360.56 
L 626.37 363.06 
L 626.78 369.20 
L 627.18 357.69 
L 627.59 359.21 
L 627.99 361.86 
L 628.40 366.73 
L 628.80 365.84 
L 629.21 370.36 
L 629.61 345.54 
L 630.02 353.47 
L 630.42 342.16 
L 630.83 374.63 
L 631.23 376.51 
L 631.64 359.62 
L 632.45 365.22 
L 632.85 366.85 
L 633.26 363.70 
L 633.66 380.55 
L 634.07 341.34 
L 634.47 361.75 
L 634.88 362.71 
L 635.28 352.18 
L 635.69 361.38 
L 636.50 353.76 
L 636.90 352.74 
L 637.31 354.78 
L 637.71 349.67 
L 638.12 348.94 
L 638.52 357.83 
L 638.93 354.80 
L 639.33 364.25 
L 639.74 352.94 
L 640.14 371.34 
L 640.55 373.87 
L 640.95 368.37 
L 641.36 356.00 
L 641.76 364.75 
L 642.17 363.19 
L 642.57 348.48 
L 643.38 340.13 
L 643.79 347.10 
L 644.19 352.01 
L 644.60 353.79 
L 645.00 368.79 
L 645.41 358.78 
L 645.81 360.18 
L 646.22 349.59 
L 646.62 353.32 
L 647.03 367.29 
L 647.43 362.75 
L 647.84 354.65 
L 648.24 357.20 
L 648.65 364.75 
L 649.05 352.01 
L 649.46 375.76 
L 649.86 355.93 
L 650.27 367.13 
L 650.67 374.02 
L 651.08 364.24 
L 651.48 349.78 
L 651.89 373.47 
L 652.29 362.88 
L 652.70 360.29 
L 653.10 364.22 
L 653.51 364.31 
L 654.32 358.45 
L 654.72 346.64 
L 655.13 380.55 
L 655.53 360.23 
L 655.94 352.07 
L 656.34 375.37 
L 656.75 356.00 
L 657.15 350.93 
L 657.56 363.02 
L 657.96 358.21 
L 658.77 372.39 
L 659.18 366.53 
L 659.58 367.28 
L 659.99 352.41 
L 660.39 365.38 
L 660.80 354.72 
L 661.61 348.44 
L 662.01 358.68 
L 662.42 355.45 
L 662.82 367.09 
L 663.23 370.47 
L 663.63 346.65 
L 664.04 349.02 
L 664.44 368.61 
L 664.85 369.16 
L 665.25 345.52 
L 665.66 356.01 
L 666.06 348.95 
L 666.47 345.48 
L 666.87 360.04 
L 667.28 351.75 
L 667.68 370.24 
L 668.49 353.01 
L 668.90 346.76 
L 669.30 358.70 
L 669.71 355.12 
L 670.12 367.43 
L 670.52 352.43 
L 670.93 371.66 
L 671.33 364.57 
L 671.74 361.95 
L 672.14 369.08 
L 672.95 363.75 
L 673.36 351.84 
L 673.76 353.63 
L 674.17 356.45 
L 674.57 356.55 
L 674.98 356.31 
L 675.38 368.72 
L 675.79 364.15 
L 676.19 362.69 
L 676.60 353.61 
L 677.00 356.73 
L 677.41 354.91 
L 677.81 370.68 
L 678.22 346.81 
L 678.62 364.81 
L 679.03 369.97 
L 679.43 360.93 
L 679.84 357.92 
L 680.24 361.91 
L 680.65 347.06 
L 681.05 364.13 
L 681.46 365.19 
L 681.86 373.22 
L 682.27 349.72 
L 682.67 362.67 
L 683.08 364.33 
L 683.48 377.21 
L 683.89 370.18 
L 684.29 366.41 
L 684.70 357.63 
L 685.10 351.88 
L 685.51 349.45 
L 685.91 366.35 
L 686.32 359.15 
L 686.72 346.49 
L 687.13 353.27 
L 687.53 352.10 
L 687.94 347.69 
L 688.75 358.62 
L 689.15 340.13 
L 689.56 371.37 
L 689.96 358.90 
L 690.37 353.66 
L 690.77 358.08 
L 691.18 359.44 
L 691.58 363.22 
L 691.99 349.92 
L 692.39 375.05 
L 692.80 371.89 
L 693.20 373.83 
L 693.61 367.69 
L 694.01 365.70 
L 694.82 350.52 
L 695.23 366.63 
L 695.63 360.19 
L 696.04 341.53 
L 696.44 350.77 
L 696.85 373.61 
L 697.25 354.38 
L 697.66 358.43 
L 698.06 359.15 
L 698.47 356.47 
L 698.87 351.74 
L 699.28 356.28 
L 699.68 350.20 
L 700.09 355.52 
L 700.49 351.09 
L 700.90 353.71 
L 701.30 367.17 
L 701.71 374.20 
L 702.11 344.22 
L 702.52 366.14 
L 702.92 370.59 
L 703.33 351.32 
L 703.73 348.66 
L 704.14 360.32 
L 704.54 347.99 
L 704.95 363.51 
L 705.35 363.68 
L 705.76 372.92 
L 706.16 342.86 
L 706.57 356.95 
L 706.97 352.85 
L 707.38 373.82 
L 707.78 356.60 
L 708.19 375.72 
L 708.59 367.54 
L 709.00 354.21 
L 709.40 345.91 
L 709.81 343.80 
L 710.62 371.58 
L 711.02 357.20 
L 711.43 363.35 
L 711.83 353.17 
L 712.24 354.37 
L 712.64 343.29 
L 713.45 359.87 
L 713.86 355.15 
L 714.26 361.65 
L 714.67 363.87 
L 715.08 365.22 
L 715.48 388.61 
L 715.89 365.42 
L 716.29 359.65 
L 716.70 373.32 
L 717.10 365.22 
L 717.51 354.72 
L 717.91 366.26 
L 718.32 369.82 
L 718.72 344.41 
L 719.13 362.85 
L 719.53 344.17 
L 719.94 358.72 
L 720.75 351.05 
L 721.15 364.70 
L 721.56 367.50 
L 721.96 359.64 
L 722.37 360.20 
L 722.77 385.05 
L 723.18 363.34 
L 723.58 366.18 
L 723.99 358.17 
L 724.39 366.44 
L 724.80 368.98 
L 725.20 357.95 
L 725.61 363.23 
L 726.01 372.56 
L 726.42 353.11 
L 726.82 361.22 
L 727.23 379.94 
L 727.63 369.14 
L 728.04 351.64 
L 728.85 366.13 
L 729.25 358.57 
L 729.66 366.07 
L 730.06 363.88 
L 730.47 356.93 
L 730.87 368.66 
L 731.28 344.51 
L 731.68 380.55 
L 732.09 376.34 
L 732.49 353.53 
L 732.90 356.34 
L 733.30 342.93 
L 733.71 352.26 
L 734.11 348.78 
L 734.52 352.62 
L 734.92 360.93 
L 735.33 376.31 
L 735.73 364.22 
L 736.14 356.38 
L 736.54 357.24 
L 736.95 368.23 
L 737.35 351.98 
L 737.76 362.97 
L 738.16 369.49 
L 738.57 360.17 
L 738.97 360.48 
L 739.38 371.01 
L 739.78 370.09 
L 740.19 359.36 
L 740.59 344.00 
L 741.00 380.43 
L 741.40 380.55 
L 741.81 369.06 
L 742.21 364.92 
L 742.62 353.11 
L 743.02 374.25 
L 743.43 358.87 
L 743.83 356.75 
L 744.24 351.33 
L 744.64 364.80 
L 745.05 367.89 
L 745.45 362.85 
L 745.86 365.02 
L 746.26 365.05 
L 746.67 364.96 
L 747.07 353.72 
L 747.48 361.45 
L 747.88 361.69 
L 748.29 354.41 
L 748.69 361.62 
L 749.10 357.75 
L 749.50 373.17 
L 749.91 360.16 
L 750.31 359.26 
L 750.72 365.41 
L 751.12 365.23 
L 751.53 367.89 
L 751.93 349.67 
L 752.34 359.84 
L 752.74 366.09 
L 753.15 366.21 
L 753.55 369.19 
L 753.96 358.64 
L 754.36 358.29 
L 754.77 367.08 
L 755.17 367.25 
L 755.58 358.10 
L 755.98 370.31 
L 756.39 347.54 
L 756.79 357.46 
L 757.20 364.61 
L 757.60 358.10 
L 758.01 376.11 
L 758.41 356.56 
L 758.82 365.08 
L 759.22 351.77 
L 759.63 351.09 
L 760.04 366.26 
L 760.44 347.22 
L 760.85 361.35 
L 761.25 362.62 
L 761.66 350.54 
L 762.06 350.20 
L 762.47 364.67 
L 762.87 358.73 
L 763.28 365.21 
L 763.68 369.01 
L 764.09 367.05 
L 764.49 357.12 
L 764.90 375.90 
L 765.30 359.44 
L 765.71 367.31 
L 766.11 363.28 
L 766.52 349.15 
L 766.92 355.01 
L 767.33 362.92 
L 767.73 344.46 
L 768.14 373.04 
L 768.95 351.58 
L 769.35 371.53 
L 769.76 356.95 
L 770.16 362.07 
L 770.57 345.60 
L 770.97 350.72 
L 771.38 354.18 
L 771.78 373.35 
L 772.19 363.94 
L 772.59 345.57 
L 773.00 351.39 
L 773.40 365.79 
L 773.81 362.63 
L 774.21 376.45 
L 774.62 360.71 
L 775.02 369.52 
L 775.43 374.21 
L 775.83 370.91 
L 776.24 354.26 
L 776.64 373.83 
L 777.05 380.55 
L 777.45 343.93 
L 777.86 362.77 
L 778.26 364.76 
L 778.67 371.55 
L 779.07 350.87 
L 779.48 353.17 
L 779.88 352.74 
L 780.29 355.27 
L 780.69 351.57 
L 781.10 355.58 
L 781.50 361.44 
L 781.91 351.15 
L 782.31 357.22 
L 782.72 364.99 
L 783.12 357.56 
L 783.53 320.43 
L 783.93 360.70 
L 784.34 366.58 
L 784.74 374.62 
L 785.55 342.39 
L 785.96 346.98 
L 786.36 353.42 
L 786.77 366.73 
L 787.17 373.91 
L 787.58 364.81 
L 787.98 367.09 
L 788.39 358.83 
L 788.79 344.60 
L 789.60 356.06 
L 790.01 356.28 
L 790.41 373.91 
L 790.82 355.01 
L 791.22 357.98 
L 791.63 366.78 
L 792.03 361.49 
L 792.44 362.17 
L 792.84 354.91 
L 793.25 364.17 
L 793.65 350.23 
L 794.06 358.79 
L 794.46 364.48 
L 794.87 347.70 
L 795.27 360.37 
L 795.68 360.15 
L 796.08 370.01 
L 796.49 350.31 
L 796.89 359.42 
L 797.30 355.03 
L 797.70 362.20 
L 798.11 357.80 
L 798.51 371.84 
L 798.92 365.52 
L 799.32 372.57 
L 800.13 353.84 
L 800.54 364.24 
L 801.35 358.52 
L 801.75 344.98 
L 802.16 351.21 
L 802.56 374.29 
L 802.97 349.31 
L 803.37 374.59 
L 803.78 375.19 
L 804.59 346.03 
L 805 366.25 
L 805.40 372.20 
L 805.81 364.56 
L 806.21 359.32 
L 806.62 347.86 
L 807.02 358.46 
L 807.43 363.80 
L 807.83 364.60 
L 808.24 359.61 
L 808.64 356.01 
L 809.05 369.27 
L 809.45 363.08 
L 809.86 353.97 
L 810.26 340.27 
L 810.67 354.08 
L 811.07 379.62 
L 811.88 357.54 
L 812.29 363.37 
L 812.69 350.02 
L 813.10 361.87 
L 813.50 355.79 
L 813.91 355.63 
L 814.31 364.25 
L 814.72 365.75 
L 815.12 364.36 
L 815.53 371.16 
L 815.93 361.18 
L 816.34 367.00 
L 816.74 361.17 
L 817.15 370.63 
L 817.55 346.86 
L 817.96 354.41 
L 818.36 347.29 
L 818.77 365.07 
L 819.17 364.39 
L 819.58 356.48 
L 820.39 357.32 
L 820.79 352.81 
L 821.20 355.19 
L 821.60 349.43 
L 822.01 364.23 
L 822.41 351.68 
L 822.82 380.55 
L 823.22 360.64 
L 824.03 365.23 
L 824.44 361.11 
L 824.84 361.45 
L 825.25 357.11 
L 825.65 369.61 
L 826.06 366.97 
L 826.46 357.71 
L 826.87 364.99 
L 827.27 364.85 
L 827.68 356.18 
L 828.08 358.22 
L 828.49 365.41 
L 828.89 368.28 
L 829.30 356.38 
L 829.70 353.16 
L 830.51 355.16 
L 831.32 368.27 
L 831.73 361.90 
L 832.13 362.09 
L 832.54 366.49 
L 832.94 358.91 
L 833.35 340.13 
L 833.75 362.51 
L 834.16 363.95 
L 834.56 354.49 
L 834.97 366.66 
L 835.37 365.06 
L 835.78 365.05 
L 836.18 361.61 
L 836.59 353.29 
L 836.99 355.09 
L 837.40 373.22 
L 837.80 364.82 
L 838.21 370.32 
L 838.61 358.71 
L 839.02 364.96 
L 839.42 351.33 
L 839.83 342.73 
L 840.23 361.53 
L 840.64 359.01 
L 841.04 353.54 
L 841.45 366.23 
L 841.85 374.54 
L 842.26 357.73 
L 842.66 357.57 
L 843.07 377.13 
L 843.47 363.19 
L 843.88 365.72 
L 844.28 367.23 
L 844.69 361.20 
L 845.09 374.11 
L 845.50 374.83 
L 845.90 350.98 
L 846.31 354.23 
L 846.71 360.98 
L 847.12 359.92 
L 847.52 358.03 
L 847.93 360.27 
L 848.33 340.25 
L 848.74 363.99 
L 849.14 355.73 
L 849.55 370.95 
L 849.96 356.19 
L 849.96 356.19 
" clip-path="url(#p00ab3a5869)" style="fill: none; stroke: #9467bd; stroke-opacity: 0.35; stroke-width: 1.23; stroke-linecap: square"/>
   </g>
   <g id="line2d_61">
    <path d="M 445.32 344.30 
L 445.72 359.22 
L 446.53 376.26 
L 446.94 351.48 
L 447.34 365.73 
L 448.15 353.64 
L 448.56 368.26 
L 448.96 360.42 
L 449.37 347.73 
L 449.77 366.64 
L 450.58 360.25 
L 450.99 375.33 
L 451.39 365.58 
L 452.20 341.33 
L 452.61 366.76 
L 453.01 360.18 
L 453.42 356.78 
L 453.82 362.38 
L 454.23 365.85 
L 454.63 362.57 
L 455.04 364.33 
L 455.44 368.12 
L 455.85 363.02 
L 456.25 361.57 
L 456.66 381.68 
L 457.06 360.90 
L 457.47 361.91 
L 457.87 359.61 
L 458.28 378.89 
L 458.68 343.98 
L 459.49 375.02 
L 459.90 351.50 
L 460.30 353.32 
L 460.71 364.32 
L 461.11 348.97 
L 461.52 353.77 
L 461.92 368.60 
L 462.33 366.95 
L 463.14 344.71 
L 463.54 362.47 
L 463.95 347.21 
L 464.76 366.29 
L 465.16 348.20 
L 465.57 367.04 
L 465.97 362.39 
L 466.38 380.31 
L 467.19 352.86 
L 467.59 370.93 
L 468.00 375.50 
L 468.40 347.02 
L 468.81 352.60 
L 469.21 366.01 
L 469.62 361.18 
L 470.02 342.68 
L 470.43 369.09 
L 470.83 351.67 
L 471.64 355.93 
L 472.05 360.23 
L 472.45 352.61 
L 472.86 367.68 
L 473.26 359.79 
L 473.67 347.14 
L 474.07 360.09 
L 474.48 358.45 
L 474.88 351.31 
L 475.29 374.52 
L 475.69 381.36 
L 476.10 348.90 
L 476.50 355.78 
L 476.91 354.80 
L 477.31 363.34 
L 477.72 359.56 
L 478.12 352.34 
L 478.53 359.85 
L 478.93 364.99 
L 479.34 368.67 
L 480.15 381.69 
L 480.55 366.09 
L 480.96 364.74 
L 481.36 339.21 
L 481.77 363.49 
L 482.17 371.00 
L 482.58 343.86 
L 482.98 365.11 
L 483.39 363.61 
L 483.79 351.02 
L 484.20 349.49 
L 484.60 349.22 
L 485.01 352.44 
L 485.41 367.72 
L 485.82 366.50 
L 486.22 364.65 
L 486.63 354.26 
L 487.03 361.43 
L 487.44 349.52 
L 487.84 356.09 
L 488.25 355.94 
L 488.65 380.26 
L 489.06 359.86 
L 489.46 369.02 
L 489.87 351.88 
L 490.28 360.10 
L 490.68 352.45 
L 491.09 352.30 
L 491.49 363.67 
L 491.90 366.26 
L 492.30 349.80 
L 492.71 345.81 
L 493.11 365.20 
L 493.52 375.04 
L 493.92 352.56 
L 494.33 372.06 
L 494.73 360.81 
L 495.14 379.24 
L 495.54 350.84 
L 495.95 354.71 
L 496.76 371.03 
L 497.16 381.69 
L 497.57 362.63 
L 497.97 353.13 
L 498.38 356.38 
L 498.78 371.18 
L 499.19 353.39 
L 499.59 355.32 
L 500.00 373.75 
L 500.40 376.91 
L 500.81 370.00 
L 501.21 348.58 
L 501.62 363.94 
L 502.02 343.47 
L 502.43 345.77 
L 502.83 373.61 
L 503.24 362.81 
L 503.64 339.21 
L 504.05 355.95 
L 504.45 351.90 
L 504.86 354.84 
L 505.67 366.03 
L 506.07 357.01 
L 507.29 350.24 
L 507.69 368.44 
L 508.10 368.68 
L 508.50 352.71 
L 508.91 356.87 
L 509.31 377.22 
L 509.72 369.92 
L 510.12 339.21 
L 510.53 360.30 
L 510.93 361.77 
L 511.34 356.00 
L 511.74 354.27 
L 512.15 371.80 
L 512.55 366.94 
L 512.96 345.47 
L 513.36 366.90 
L 513.77 359.37 
L 514.17 345.73 
L 514.58 358.80 
L 514.98 359.84 
L 515.39 367.73 
L 515.79 367.20 
L 516.20 349.21 
L 517.01 356.05 
L 517.41 363.47 
L 517.82 390.01 
L 518.22 341.59 
L 519.03 366.71 
L 519.44 370.24 
L 519.84 339.53 
L 520.25 339.21 
L 520.65 362.67 
L 521.06 357.68 
L 521.46 378.57 
L 521.87 368.76 
L 522.27 342.59 
L 522.68 350.00 
L 523.08 350.32 
L 523.49 361.48 
L 523.89 369.26 
L 524.30 363.24 
L 524.70 348.94 
L 525.11 354.57 
L 525.51 352.61 
L 525.92 352.39 
L 526.32 365.55 
L 526.73 358.78 
L 527.13 367.84 
L 527.54 370.25 
L 527.94 355.82 
L 528.35 371.55 
L 528.75 346.41 
L 529.16 355.98 
L 529.56 371.88 
L 529.97 366.04 
L 530.37 370.39 
L 530.78 351.43 
L 531.18 353.17 
L 531.59 358.24 
L 531.99 343.86 
L 532.40 357.32 
L 532.80 361.46 
L 533.21 368.27 
L 533.61 371.71 
L 534.02 356.93 
L 534.42 351.31 
L 534.83 359.38 
L 535.24 356.62 
L 535.64 358.51 
L 536.05 343.49 
L 536.45 355.66 
L 536.86 347.91 
L 537.26 359.92 
L 538.07 375.19 
L 538.48 371.38 
L 538.88 356.75 
L 539.29 368.73 
L 539.69 350.06 
L 540.50 377.96 
L 540.91 359.84 
L 541.31 364.37 
L 541.72 342.93 
L 542.12 351.44 
L 542.53 368.46 
L 542.93 359.81 
L 543.34 373.42 
L 543.74 376.11 
L 544.15 362.12 
L 544.55 355.07 
L 544.96 364.03 
L 545.36 349.30 
L 545.77 376.33 
L 546.17 356.20 
L 546.58 357.16 
L 546.98 373.83 
L 547.39 357.15 
L 547.79 362.48 
L 548.20 348.82 
L 548.60 373.69 
L 549.01 354.88 
L 549.41 362.04 
L 549.82 345.77 
L 550.22 339.21 
L 550.63 360.84 
L 551.03 362.55 
L 551.44 361.05 
L 551.84 360.75 
L 552.25 350.38 
L 552.65 364.17 
L 553.06 367.46 
L 553.46 361.19 
L 553.87 360.10 
L 554.27 346.38 
L 554.68 363.65 
L 555.08 365.95 
L 555.49 355.05 
L 555.89 354.53 
L 556.30 368.99 
L 556.70 364.25 
L 557.11 373.52 
L 557.51 354.18 
L 557.92 367.27 
L 558.32 367.16 
L 558.73 364.66 
L 559.13 369.26 
L 559.94 351.89 
L 560.35 356.71 
L 560.75 340.47 
L 561.56 375.99 
L 561.97 362.10 
L 562.37 366.06 
L 562.78 351.89 
L 563.18 361.42 
L 563.59 357.03 
L 563.99 373.20 
L 564.40 368.20 
L 564.80 359.72 
L 565.21 363.35 
L 565.61 360.39 
L 566.02 345.12 
L 566.42 370.48 
L 566.83 372.81 
L 567.23 349.00 
L 568.04 366.38 
L 568.45 357.20 
L 568.85 351.06 
L 569.26 366.10 
L 569.66 351.98 
L 570.07 360.71 
L 570.47 346.93 
L 570.88 379.95 
L 571.28 344.66 
L 571.69 359.43 
L 572.09 348.80 
L 572.50 364.46 
L 573.31 349.01 
L 573.71 357.95 
L 574.12 363.47 
L 574.52 367.05 
L 574.93 367.33 
L 575.33 353.14 
L 575.74 368.21 
L 576.14 354.06 
L 576.55 358.93 
L 576.95 361.92 
L 577.36 366.57 
L 577.76 364.91 
L 578.17 379.94 
L 578.57 356.02 
L 578.98 363.80 
L 579.38 348.65 
L 579.79 366.09 
L 580.2 368.17 
L 580.60 361.29 
L 581.01 363.78 
L 581.41 371.23 
L 581.82 380.79 
L 582.22 370.00 
L 582.63 366.86 
L 583.03 354.13 
L 583.44 352.37 
L 583.84 368.82 
L 584.25 353.56 
L 584.65 368.99 
L 585.06 367.32 
L 585.46 364.74 
L 585.87 368.83 
L 586.27 353.76 
L 586.68 344.97 
L 587.08 368.03 
L 587.49 357.12 
L 587.89 359.76 
L 588.30 355.35 
L 588.70 364.79 
L 589.11 348.52 
L 589.51 352.50 
L 589.92 354.02 
L 590.32 340.50 
L 590.73 364.32 
L 591.13 360.77 
L 591.54 353.23 
L 591.94 349.36 
L 592.35 357.98 
L 592.75 353.29 
L 593.16 345.47 
L 593.56 360.02 
L 593.97 362.12 
L 594.37 359.30 
L 594.78 381.69 
L 595.18 356.59 
L 595.59 354.27 
L 595.99 341.17 
L 596.40 370.85 
L 596.80 357.91 
L 597.61 352.70 
L 598.02 370.31 
L 598.42 381.69 
L 598.83 362.31 
L 599.23 357.58 
L 599.64 357.08 
L 600.04 365.85 
L 600.45 368.22 
L 600.85 361.59 
L 601.26 368.81 
L 601.66 369.61 
L 602.07 358.25 
L 602.47 354.46 
L 602.88 369.67 
L 603.28 378.46 
L 603.69 371.32 
L 604.09 354.51 
L 604.50 362.25 
L 604.90 353.60 
L 605.31 353.39 
L 605.71 348.21 
L 606.12 361.94 
L 606.52 358.91 
L 606.93 351.56 
L 607.33 363.04 
L 607.74 369.32 
L 608.14 350.36 
L 608.55 344.91 
L 608.95 366.38 
L 609.36 355.52 
L 609.76 355.17 
L 610.17 357.26 
L 610.98 367.97 
L 611.38 371.87 
L 611.79 351.82 
L 612.19 359.06 
L 612.60 354.33 
L 613.00 376.66 
L 613.41 352.17 
L 613.81 349.99 
L 614.22 356.10 
L 614.62 340.70 
L 615.03 355.85 
L 615.43 357.92 
L 615.84 368.47 
L 616.24 366.69 
L 616.65 356.09 
L 617.05 356.45 
L 617.46 348.45 
L 617.86 364.22 
L 618.27 355.64 
L 618.67 368.05 
L 619.08 362.34 
L 619.48 366.00 
L 619.89 381.69 
L 620.29 354.70 
L 620.70 367.97 
L 621.10 369.06 
L 621.51 359.49 
L 621.91 370.91 
L 622.32 370.02 
L 622.72 381.69 
L 623.13 362.74 
L 623.53 354.34 
L 623.94 363.66 
L 624.34 350.03 
L 624.75 345.48 
L 625.16 352.17 
L 625.56 362.24 
L 625.97 353.53 
L 626.37 352.55 
L 626.78 358.04 
L 627.18 349.28 
L 627.59 354.89 
L 627.99 370.89 
L 628.40 363.53 
L 628.80 359.53 
L 629.21 371.66 
L 629.61 375.00 
L 630.02 360.87 
L 630.42 355.66 
L 630.83 369.30 
L 631.23 356.33 
L 631.64 368.86 
L 632.04 372.70 
L 632.45 352.98 
L 632.85 358.11 
L 633.26 377.54 
L 633.66 377.69 
L 634.07 361.27 
L 634.47 368.70 
L 634.88 369.24 
L 635.28 374.57 
L 635.69 364.25 
L 636.09 339.80 
L 636.50 373.78 
L 636.90 346.23 
L 637.31 367.26 
L 637.71 372.56 
L 638.12 353.61 
L 638.52 362.05 
L 638.93 363.21 
L 639.33 350.09 
L 639.74 341.39 
L 640.55 370.03 
L 640.95 371.77 
L 641.76 351.27 
L 642.17 355.73 
L 642.57 357.47 
L 642.98 349.66 
L 643.38 380.81 
L 643.79 354.20 
L 644.19 359.25 
L 644.60 360.31 
L 645.00 356.59 
L 645.41 362.87 
L 646.22 380.91 
L 646.62 359.31 
L 647.03 371.90 
L 647.43 362.45 
L 647.84 377.09 
L 648.24 362.43 
L 648.65 356.15 
L 649.05 363.54 
L 649.46 356.91 
L 649.86 366.94 
L 650.27 365.59 
L 650.67 359.07 
L 651.08 360.13 
L 651.48 355.80 
L 651.89 358.61 
L 652.70 344.06 
L 653.10 352.34 
L 653.51 350.13 
L 653.91 355.57 
L 654.32 369.37 
L 654.72 352.80 
L 655.13 350.95 
L 655.53 369.36 
L 655.94 362.37 
L 656.34 374.86 
L 657.15 345.79 
L 657.96 366.12 
L 658.37 350.17 
L 659.18 357.37 
L 659.58 351.76 
L 659.99 361.09 
L 660.39 349.65 
L 660.80 379.07 
L 661.20 356.75 
L 661.61 367.19 
L 662.01 357.10 
L 662.82 376.21 
L 663.23 356.70 
L 663.63 372.35 
L 664.04 381.69 
L 664.85 348.01 
L 665.25 342.64 
L 665.66 344.10 
L 666.06 376.61 
L 666.47 362.17 
L 666.87 369.53 
L 667.28 359.15 
L 667.68 387.59 
L 668.09 355.96 
L 668.49 357.85 
L 668.90 347.74 
L 669.30 347.37 
L 669.71 357.89 
L 670.12 375.27 
L 670.52 356.18 
L 670.93 365.90 
L 671.33 360.25 
L 671.74 348.89 
L 672.14 377.53 
L 672.55 364.48 
L 672.95 369.93 
L 673.36 359.02 
L 673.76 355.80 
L 674.17 356.64 
L 674.57 355.89 
L 674.98 367.29 
L 675.38 366.44 
L 675.79 361.60 
L 676.19 358.48 
L 676.60 361.06 
L 677.00 369.08 
L 677.81 359.00 
L 678.22 370.89 
L 678.62 370.06 
L 679.03 356.55 
L 679.43 339.21 
L 680.24 370.31 
L 680.65 346.23 
L 681.05 353.60 
L 681.46 369.15 
L 681.86 358.31 
L 682.27 356.11 
L 682.67 349.83 
L 683.08 367.81 
L 683.48 350.85 
L 683.89 362.82 
L 684.29 357.70 
L 684.70 371.41 
L 685.10 349.48 
L 685.51 356.96 
L 685.91 368.06 
L 686.32 356.82 
L 686.72 352.99 
L 687.13 350.32 
L 687.53 351.11 
L 687.94 377.33 
L 688.34 372.18 
L 688.75 362.09 
L 689.15 358.72 
L 689.56 371.88 
L 689.96 351.23 
L 690.37 355.01 
L 690.77 377.04 
L 691.18 373.69 
L 691.58 350.41 
L 691.99 376.96 
L 692.39 342.80 
L 692.80 343.47 
L 693.20 370.53 
L 693.61 357.62 
L 694.01 350.27 
L 694.42 372.76 
L 694.82 380.27 
L 695.23 348.15 
L 696.04 377.33 
L 696.44 352.04 
L 696.85 349.64 
L 697.66 361.14 
L 698.47 378.30 
L 698.87 355.49 
L 699.28 355.88 
L 699.68 374.63 
L 700.09 371.32 
L 700.49 370.06 
L 701.30 362.77 
L 701.71 347.62 
L 702.11 359.34 
L 702.52 350.59 
L 702.92 359.36 
L 703.33 351.67 
L 703.73 361.65 
L 704.14 352.45 
L 704.95 378.71 
L 705.35 352.88 
L 705.76 372.73 
L 706.16 373.43 
L 706.57 348.16 
L 706.97 363.10 
L 708.19 356.10 
L 708.59 351.09 
L 709.00 362.65 
L 709.40 370.34 
L 709.81 352.76 
L 710.21 361.46 
L 710.62 366.01 
L 711.02 355.60 
L 711.43 353.85 
L 711.83 358.41 
L 712.24 381.33 
L 712.64 343.67 
L 713.45 374.73 
L 713.86 357.19 
L 714.26 348.13 
L 714.67 348.55 
L 715.08 356.05 
L 715.48 355.99 
L 715.89 378.02 
L 716.29 381.69 
L 716.70 351.81 
L 717.10 357.95 
L 717.51 358.68 
L 717.91 375.97 
L 718.32 346.63 
L 718.72 365.57 
L 719.13 353.79 
L 719.53 374.11 
L 719.94 381.69 
L 720.34 361.26 
L 720.75 356.26 
L 721.15 371.62 
L 721.56 339.57 
L 721.96 363.95 
L 722.37 348.07 
L 722.77 348.90 
L 723.18 373.67 
L 723.58 357.70 
L 723.99 368.72 
L 724.39 359.66 
L 724.80 361.84 
L 725.20 351.39 
L 725.61 366.76 
L 726.01 356.03 
L 726.82 349.03 
L 727.23 367.11 
L 727.63 354.47 
L 728.04 352.76 
L 728.44 349.40 
L 728.85 381.69 
L 729.25 381.59 
L 729.66 381.69 
L 730.06 367.98 
L 730.47 373.94 
L 730.87 366.33 
L 731.28 363.93 
L 731.68 351.16 
L 732.09 351.20 
L 732.49 364.81 
L 732.90 362.91 
L 733.30 378.46 
L 733.71 368.52 
L 734.11 363.73 
L 734.52 366.17 
L 734.92 343.36 
L 735.33 381.69 
L 735.73 369.00 
L 736.14 362.05 
L 736.54 353.11 
L 736.95 356.87 
L 737.35 377.27 
L 737.76 372.11 
L 738.16 357.56 
L 738.57 359.63 
L 738.97 350.26 
L 739.38 354.55 
L 739.78 362.39 
L 740.19 364.48 
L 740.59 354.62 
L 741.00 366.98 
L 741.40 364.18 
L 741.81 350.38 
L 742.21 364.00 
L 742.62 356.98 
L 743.02 381.69 
L 743.83 361.95 
L 744.24 356.03 
L 744.64 362.00 
L 745.05 360.57 
L 745.45 369.01 
L 745.86 362.54 
L 746.26 353.84 
L 746.67 369.28 
L 747.07 375.18 
L 747.48 352.88 
L 747.88 343.36 
L 748.29 345.94 
L 748.69 365.63 
L 749.10 363.90 
L 749.50 365.16 
L 749.91 356.07 
L 750.31 352.79 
L 750.72 366.91 
L 751.12 355.57 
L 751.53 356.65 
L 751.93 346.45 
L 752.34 360.74 
L 752.74 357.55 
L 753.15 377.45 
L 753.96 355.25 
L 754.36 372.25 
L 754.77 369.69 
L 755.17 362.02 
L 755.58 364.04 
L 755.98 369.84 
L 756.39 366.86 
L 757.20 346.90 
L 757.60 350.48 
L 758.01 356.77 
L 758.41 347.34 
L 758.82 373.89 
L 759.22 351.05 
L 759.63 358.76 
L 760.04 361.22 
L 760.44 366.61 
L 761.25 356.38 
L 761.66 366.29 
L 762.06 370.03 
L 762.87 345.84 
L 763.28 348.13 
L 763.68 348.64 
L 764.09 365.50 
L 764.49 365.50 
L 764.90 364.62 
L 765.30 343.38 
L 765.71 362.95 
L 766.11 349.48 
L 766.52 351.57 
L 766.92 367.48 
L 767.73 347.05 
L 768.54 357.00 
L 768.95 349.43 
L 769.35 372.49 
L 770.97 347.66 
L 771.38 364.64 
L 771.78 360.04 
L 772.19 348.51 
L 772.59 347.96 
L 773.00 364.66 
L 773.40 369.28 
L 773.81 364.39 
L 774.21 357.16 
L 774.62 381.69 
L 775.02 348.97 
L 775.43 360.99 
L 775.83 350.41 
L 776.24 345.40 
L 776.64 362.54 
L 777.05 374.45 
L 777.45 377.94 
L 777.86 346.37 
L 778.26 364.97 
L 778.67 361.05 
L 779.07 373.36 
L 779.88 358.28 
L 780.29 355.16 
L 780.69 359.92 
L 781.10 369.88 
L 781.50 363.27 
L 781.91 363.20 
L 782.31 349.05 
L 782.72 364.74 
L 783.12 390.01 
L 783.53 357.67 
L 783.93 368.59 
L 784.34 348.69 
L 784.74 346.77 
L 785.15 362.45 
L 785.55 364.19 
L 785.96 354.48 
L 786.36 375.28 
L 786.77 351.87 
L 787.17 346.94 
L 787.58 356.68 
L 787.98 358.95 
L 788.39 366.03 
L 788.79 368.82 
L 789.20 357.40 
L 789.60 356.96 
L 790.01 365.25 
L 790.41 351.03 
L 790.82 362.62 
L 791.22 351.08 
L 791.63 368.48 
L 792.03 357.82 
L 792.84 349.98 
L 793.25 361.82 
L 793.65 359.81 
L 794.06 358.83 
L 794.46 349.34 
L 794.87 367.23 
L 795.27 362.73 
L 795.68 377.45 
L 796.08 346.31 
L 796.49 356.82 
L 796.89 362.84 
L 797.30 361.36 
L 797.70 352.84 
L 798.11 362.28 
L 798.51 357.71 
L 798.92 373.48 
L 799.32 373.43 
L 799.73 350.26 
L 800.13 358.61 
L 800.54 375.35 
L 800.94 360.58 
L 801.75 344.89 
L 802.16 365.83 
L 802.56 358.99 
L 803.37 377.17 
L 803.78 371.19 
L 804.18 361.72 
L 804.59 365.28 
L 805 363.05 
L 805.40 365.16 
L 805.81 358.72 
L 806.21 339.58 
L 806.62 352.67 
L 807.02 349.79 
L 807.43 341.17 
L 807.83 371.32 
L 808.24 372.89 
L 808.64 369.04 
L 809.05 373.37 
L 809.45 351.16 
L 809.86 370.49 
L 810.26 367.43 
L 810.67 351.76 
L 811.07 367.18 
L 811.48 358.37 
L 811.88 352.08 
L 812.29 365.44 
L 812.69 349.28 
L 813.50 355.26 
L 813.91 360.86 
L 814.31 369.16 
L 814.72 343.11 
L 815.12 363.53 
L 815.53 362.74 
L 815.93 361.30 
L 816.34 361.59 
L 816.74 354.74 
L 817.15 366.65 
L 817.55 360.87 
L 817.96 350.85 
L 818.36 369.10 
L 818.77 361.14 
L 819.17 372.00 
L 819.58 362.48 
L 819.98 384.79 
L 820.39 367.59 
L 820.79 343.34 
L 821.20 371.68 
L 821.60 350.02 
L 822.01 360.45 
L 822.41 357.03 
L 822.82 368.91 
L 823.22 355.17 
L 823.63 355.48 
L 824.03 375.18 
L 824.44 363.01 
L 824.84 362.43 
L 825.25 352.21 
L 825.65 370.77 
L 826.06 354.09 
L 826.46 356.29 
L 826.87 345.38 
L 827.27 371.06 
L 827.68 351.88 
L 828.08 381.69 
L 828.49 374.93 
L 828.89 364.46 
L 829.30 371.44 
L 829.70 354.12 
L 830.11 364.17 
L 830.51 359.66 
L 830.92 360.42 
L 831.32 353.51 
L 831.73 366.02 
L 832.13 350.94 
L 832.54 360.93 
L 832.94 356.05 
L 833.35 353.84 
L 833.75 354.53 
L 834.16 366.75 
L 834.56 365.83 
L 834.97 366.06 
L 835.37 358.32 
L 835.78 357.91 
L 836.18 380.69 
L 836.59 381.69 
L 836.99 354.94 
L 837.40 370.28 
L 837.80 356.81 
L 838.21 367.12 
L 838.61 357.09 
L 839.02 357.20 
L 839.42 369.68 
L 839.83 349.88 
L 840.23 347.83 
L 840.64 353.61 
L 841.04 376.78 
L 841.45 368.59 
L 841.85 356.30 
L 842.26 350.69 
L 843.07 381.69 
L 843.47 372.21 
L 843.88 354.98 
L 844.28 367.06 
L 844.69 347.14 
L 845.09 361.73 
L 845.50 345.12 
L 845.90 369.26 
L 846.71 352.97 
L 847.12 367.61 
L 847.52 339.21 
L 847.93 345.43 
L 848.33 362.44 
L 848.74 355.63 
L 849.14 362.68 
L 849.55 362.13 
L 849.96 347.75 
L 849.96 347.75 
" clip-path="url(#p00ab3a5869)" style="fill: none; stroke: #8c564b; stroke-opacity: 0.35; stroke-width: 1.23; stroke-linecap: square"/>
   </g>
   <g id="line2d_62">
    <path d="M 445.32 347.27 
L 445.72 330.42 
L 446.13 348.24 
L 446.53 339.23 
L 446.94 341.32 
L 447.34 324.75 
L 447.75 351.97 
L 448.15 344.44 
L 448.56 344.17 
L 448.96 366.06 
L 449.37 341.58 
L 449.77 345.05 
L 450.18 358.53 
L 450.58 324.75 
L 451.39 353.41 
L 452.20 333.26 
L 452.61 343.62 
L 453.42 351.49 
L 453.82 360.81 
L 454.23 338.65 
L 455.04 360.49 
L 455.44 376.73 
L 455.85 353.41 
L 456.25 357.95 
L 456.66 353.17 
L 457.06 349.96 
L 457.47 352.48 
L 457.87 329.08 
L 458.28 337.94 
L 458.68 353.69 
L 459.09 346.38 
L 459.49 355.85 
L 459.90 341.03 
L 460.30 351.55 
L 460.71 352.98 
L 461.11 346.38 
L 461.52 349.12 
L 461.92 356.75 
L 462.33 347.45 
L 462.73 341.33 
L 463.54 356.45 
L 463.95 336.87 
L 464.35 330.22 
L 464.76 359.44 
L 465.16 361.35 
L 465.57 353.38 
L 465.97 336.99 
L 466.38 334.62 
L 466.78 340.01 
L 467.19 362.67 
L 467.59 355.45 
L 468.00 335.38 
L 468.40 338.69 
L 468.81 345.56 
L 469.21 325.52 
L 469.62 351.70 
L 470.02 345.41 
L 470.43 343.30 
L 470.83 358.29 
L 471.24 338.67 
L 471.64 352.64 
L 472.05 321.32 
L 472.45 360.06 
L 472.86 334.11 
L 473.26 324.22 
L 473.67 353.01 
L 474.07 341.52 
L 474.48 359.37 
L 474.88 329.29 
L 475.29 362.49 
L 475.69 354.58 
L 476.10 329.59 
L 476.50 330.81 
L 476.91 359.55 
L 477.31 346.08 
L 477.72 336.69 
L 478.53 354.25 
L 478.93 346.25 
L 479.34 355.06 
L 479.74 342.31 
L 480.15 342.02 
L 480.55 345.96 
L 480.96 338.46 
L 481.36 353.41 
L 481.77 353.39 
L 482.17 346.91 
L 482.58 342.83 
L 482.98 318.90 
L 483.39 343.27 
L 483.79 341.73 
L 484.20 347.91 
L 484.60 351.11 
L 485.01 355.35 
L 485.41 335.35 
L 485.82 356.87 
L 486.22 332.15 
L 487.03 367.03 
L 487.44 343.60 
L 487.84 347.20 
L 488.25 354.82 
L 488.65 330.73 
L 489.06 352.59 
L 489.46 342.13 
L 489.87 362.42 
L 490.28 362.72 
L 490.68 337.22 
L 491.09 342.23 
L 491.49 351.27 
L 491.90 333.05 
L 492.30 353.97 
L 492.71 326.98 
L 493.11 355.79 
L 493.52 346.76 
L 493.92 346.57 
L 494.33 332.74 
L 494.73 340.61 
L 495.14 342.76 
L 495.54 341.32 
L 495.95 337.65 
L 496.35 336.40 
L 496.76 355.21 
L 497.16 356.05 
L 497.57 326.53 
L 497.97 367.73 
L 498.38 371.51 
L 498.78 348.08 
L 499.19 344.65 
L 499.59 353.47 
L 500.00 359.22 
L 500.40 361.03 
L 500.81 348.57 
L 501.21 330.44 
L 501.62 351.97 
L 502.02 345.12 
L 502.43 350.40 
L 502.83 353.00 
L 503.24 341.03 
L 503.64 367.06 
L 504.45 346.80 
L 504.86 348.24 
L 505.26 368.30 
L 505.67 332.26 
L 506.07 324.22 
L 506.48 353.99 
L 506.88 339.41 
L 507.29 343.17 
L 507.69 327.68 
L 508.10 364.91 
L 508.50 342.98 
L 508.91 344.85 
L 509.31 360.05 
L 509.72 339.43 
L 510.12 355.97 
L 510.53 337.62 
L 511.34 354.45 
L 511.74 327.09 
L 512.15 331.46 
L 512.55 339.56 
L 512.96 359.11 
L 513.36 355.05 
L 513.77 343.46 
L 514.17 355.20 
L 514.58 357.77 
L 514.98 345.13 
L 515.39 322.59 
L 515.79 364.05 
L 516.20 341.34 
L 516.60 348.23 
L 517.01 326.53 
L 517.41 347.51 
L 517.82 350.83 
L 518.22 358.12 
L 518.63 343.03 
L 519.03 352.86 
L 519.44 348.49 
L 519.84 337.28 
L 520.25 332.70 
L 520.65 344.67 
L 521.06 352.17 
L 521.46 351.35 
L 521.87 361.64 
L 522.27 335.34 
L 522.68 340.74 
L 523.08 363.60 
L 523.49 364.67 
L 523.89 358.66 
L 524.30 332.63 
L 524.70 363.88 
L 525.11 352.12 
L 525.51 347.98 
L 525.92 361.84 
L 526.32 354.45 
L 526.73 333.05 
L 527.13 334.84 
L 527.54 364.67 
L 527.94 346.31 
L 528.35 349.31 
L 528.75 332.51 
L 529.16 362.39 
L 529.56 349.92 
L 529.97 341.62 
L 530.37 361.65 
L 530.78 351.40 
L 531.18 350.50 
L 531.59 344.81 
L 531.99 356.30 
L 532.40 324.22 
L 532.80 339.18 
L 533.21 360.92 
L 533.61 360.04 
L 534.02 363.31 
L 534.42 349.81 
L 534.83 348.91 
L 535.24 341.08 
L 535.64 345.03 
L 536.05 357.15 
L 536.45 355.68 
L 536.86 343.30 
L 537.26 340.34 
L 537.67 363.49 
L 538.07 356.94 
L 538.48 340.75 
L 538.88 356.09 
L 539.29 348.77 
L 539.69 359.52 
L 540.10 337.58 
L 540.50 351.97 
L 540.91 355.21 
L 541.31 344.59 
L 541.72 350.57 
L 542.12 346.07 
L 542.53 335.01 
L 542.93 347.67 
L 543.34 347.82 
L 543.74 332.00 
L 544.15 348.81 
L 544.55 351.19 
L 544.96 338.65 
L 545.36 362.02 
L 545.77 336.62 
L 546.17 349.29 
L 546.58 356.67 
L 546.98 330.86 
L 547.39 358.06 
L 547.79 341.65 
L 548.20 355.31 
L 548.60 374.63 
L 549.41 342.43 
L 549.82 351.50 
L 550.63 362.66 
L 551.03 337.80 
L 551.44 355.15 
L 551.84 343.19 
L 552.25 373.09 
L 552.65 355.42 
L 553.06 360.59 
L 553.87 348.36 
L 554.27 354.69 
L 555.08 336.56 
L 555.49 347.11 
L 555.89 362.86 
L 556.30 339.76 
L 556.70 356.91 
L 557.11 350.58 
L 557.51 337.56 
L 557.92 347.00 
L 558.32 351.20 
L 558.73 352.34 
L 559.13 364.05 
L 559.54 356.15 
L 559.94 364.53 
L 560.35 322.08 
L 560.75 354.83 
L 561.16 350.25 
L 561.56 337.75 
L 561.97 339.12 
L 562.37 344.96 
L 562.78 339.57 
L 563.18 340.35 
L 563.59 348.66 
L 563.99 342.09 
L 564.40 333.32 
L 564.80 350.95 
L 565.21 346.64 
L 565.61 367.87 
L 566.02 361.16 
L 566.42 349.38 
L 566.83 354.54 
L 567.23 347.26 
L 567.64 352.70 
L 568.04 352.02 
L 568.45 350.41 
L 568.85 356.97 
L 569.26 342.43 
L 569.66 357.35 
L 570.07 349.75 
L 570.47 335.30 
L 571.28 356.49 
L 571.69 356.34 
L 572.09 343.55 
L 572.50 341.16 
L 572.90 356.92 
L 573.31 357.65 
L 573.71 328.14 
L 574.12 357.19 
L 574.52 333.28 
L 575.33 356.67 
L 575.74 353.13 
L 576.14 354.11 
L 576.55 354.22 
L 576.95 345.53 
L 577.36 325.13 
L 577.76 339.28 
L 578.17 343.16 
L 578.57 358.36 
L 578.98 368.91 
L 579.38 332.52 
L 579.79 366.31 
L 580.2 347.62 
L 580.60 342.86 
L 581.01 362.86 
L 581.41 337.23 
L 581.82 366.32 
L 582.22 372.70 
L 583.03 361.08 
L 583.44 335.03 
L 583.84 362.36 
L 584.25 329.76 
L 584.65 345.37 
L 585.06 337.74 
L 585.46 342.37 
L 585.87 357.86 
L 586.27 354.07 
L 586.68 344.67 
L 587.08 344.18 
L 587.49 326.89 
L 587.89 358.09 
L 588.30 366.22 
L 588.70 365.65 
L 589.11 366.83 
L 589.51 327.04 
L 589.92 346.20 
L 590.32 327.60 
L 590.73 346.05 
L 591.13 356.75 
L 591.54 348.74 
L 591.94 327.23 
L 592.35 353.43 
L 592.75 360.39 
L 593.16 345.01 
L 593.56 340.78 
L 593.97 340.27 
L 594.37 341.43 
L 594.78 337.32 
L 595.18 327.89 
L 595.59 326.70 
L 596.40 343.54 
L 596.80 358.59 
L 597.21 357.90 
L 597.61 366.44 
L 598.83 339.76 
L 599.23 362.57 
L 599.64 335.33 
L 600.04 350.36 
L 600.45 372.28 
L 600.85 347.86 
L 601.26 360.43 
L 601.66 361.01 
L 602.07 351.65 
L 602.47 323.74 
L 602.88 350.39 
L 603.28 347.70 
L 603.69 336.72 
L 604.09 359.49 
L 604.50 364.83 
L 604.90 324.22 
L 605.31 354.23 
L 605.71 334.96 
L 606.12 349.75 
L 606.52 354.12 
L 606.93 326.04 
L 607.33 337.33 
L 607.74 353.54 
L 608.14 352.90 
L 608.55 341.30 
L 608.95 350.49 
L 609.36 343.21 
L 609.76 324.75 
L 610.17 351.54 
L 610.57 346.45 
L 610.98 351.23 
L 611.38 365.47 
L 611.79 349.78 
L 612.19 361.03 
L 612.60 355.34 
L 613.00 355.50 
L 613.41 362.43 
L 613.81 329.40 
L 614.22 365.01 
L 614.62 337.37 
L 615.03 362.84 
L 615.43 322.72 
L 615.84 340.02 
L 616.24 348.30 
L 616.65 346.95 
L 617.05 327.98 
L 617.46 339.65 
L 617.86 334.39 
L 618.27 345.47 
L 618.67 348.16 
L 619.08 348.84 
L 619.48 331.04 
L 619.89 376.73 
L 620.29 348.20 
L 620.70 343.31 
L 621.10 368.96 
L 621.51 348.65 
L 621.91 352.29 
L 622.32 361.10 
L 622.72 348.30 
L 623.13 362.67 
L 623.53 334.19 
L 623.94 363.01 
L 624.34 364.89 
L 624.75 356.52 
L 625.16 350.53 
L 625.56 342.15 
L 626.37 348.36 
L 626.78 376.73 
L 627.18 358.07 
L 627.59 351.58 
L 627.99 338.97 
L 628.40 360.80 
L 628.80 346.16 
L 629.21 354.12 
L 629.61 359.61 
L 630.02 350.97 
L 630.42 352.48 
L 630.83 348.43 
L 631.23 350.43 
L 631.64 339.41 
L 632.04 339.29 
L 632.45 361.13 
L 632.85 333.64 
L 633.26 332.54 
L 633.66 337.95 
L 634.07 346.08 
L 634.47 327.59 
L 634.88 351.53 
L 635.28 346.69 
L 635.69 360.32 
L 636.50 335.81 
L 636.90 352.96 
L 637.31 340.32 
L 637.71 359.61 
L 638.52 330.26 
L 638.93 350.09 
L 639.33 350.38 
L 639.74 336.72 
L 640.14 336.32 
L 640.55 348.46 
L 640.95 346.27 
L 641.36 348.42 
L 641.76 338.16 
L 642.17 340.46 
L 642.57 344.85 
L 643.38 367.58 
L 643.79 373.91 
L 644.60 324.22 
L 645.00 338.52 
L 645.41 337.62 
L 645.81 348.62 
L 646.22 344.28 
L 646.62 360.86 
L 647.03 349.08 
L 647.43 362.92 
L 647.84 343.45 
L 648.24 363.03 
L 648.65 338.76 
L 649.05 347.99 
L 649.46 340.94 
L 649.86 343.25 
L 650.27 364.76 
L 650.67 325.64 
L 651.08 338.34 
L 651.48 342.87 
L 651.89 338.73 
L 652.29 324.59 
L 652.70 338.16 
L 653.10 329.51 
L 653.51 327.17 
L 653.91 356.32 
L 654.32 347.03 
L 654.72 346.98 
L 655.13 344.69 
L 655.53 339.00 
L 655.94 337.84 
L 656.34 333.02 
L 656.75 351.68 
L 657.15 356.69 
L 657.56 343.87 
L 657.96 338.65 
L 658.37 343.78 
L 658.77 344.68 
L 659.18 327.11 
L 659.58 340.44 
L 659.99 360.02 
L 660.39 355.76 
L 660.80 330.73 
L 661.20 337.02 
L 661.61 363.78 
L 662.01 360.66 
L 662.42 345.42 
L 662.82 352.51 
L 663.23 343.45 
L 663.63 360.91 
L 664.04 350.37 
L 664.85 341.16 
L 665.25 323.61 
L 665.66 349.10 
L 666.06 349.78 
L 666.47 342.54 
L 666.87 340.30 
L 667.28 356.14 
L 667.68 358.55 
L 668.09 348.47 
L 668.49 361.54 
L 668.90 353.26 
L 669.30 324.22 
L 670.12 353.74 
L 670.93 357.81 
L 671.33 362.30 
L 671.74 353.82 
L 672.14 341.09 
L 672.55 337.55 
L 672.95 338.78 
L 673.36 371.90 
L 673.76 348.44 
L 674.17 358.30 
L 674.57 348.45 
L 674.98 350.28 
L 675.38 353.65 
L 675.79 364.30 
L 676.19 352.22 
L 676.60 350.07 
L 677.00 343.90 
L 677.41 348.31 
L 677.81 360.11 
L 678.22 333.66 
L 678.62 329.69 
L 679.03 351.03 
L 679.43 364.95 
L 679.84 325.11 
L 680.24 328.76 
L 680.65 338.55 
L 681.05 366.72 
L 681.46 331.75 
L 681.86 335.11 
L 682.67 376.73 
L 683.08 335.64 
L 683.48 355.26 
L 684.70 335.54 
L 685.10 350.27 
L 685.51 341.46 
L 685.91 344.53 
L 686.32 350.38 
L 686.72 319.16 
L 687.13 350.81 
L 687.53 351.66 
L 687.94 351.08 
L 688.34 367.55 
L 688.75 358.68 
L 689.15 363.21 
L 689.56 342.50 
L 689.96 366.63 
L 690.37 327.55 
L 690.77 345.28 
L 691.18 349.33 
L 691.58 364.28 
L 691.99 356.97 
L 692.39 331.70 
L 692.80 346.84 
L 693.20 368.16 
L 693.61 341.30 
L 694.01 330.19 
L 694.42 353.07 
L 694.82 350.48 
L 695.23 332.15 
L 695.63 376.73 
L 696.04 337.93 
L 696.44 356.16 
L 697.25 334.97 
L 698.06 341.97 
L 698.47 333.97 
L 698.87 355.56 
L 699.28 347.68 
L 699.68 358.14 
L 700.09 346.10 
L 700.49 354.84 
L 700.90 360.96 
L 701.30 361.51 
L 701.71 339.56 
L 702.11 369.59 
L 702.52 367.42 
L 702.92 374.22 
L 703.33 366.80 
L 703.73 374.44 
L 704.14 368.40 
L 704.54 366.15 
L 704.95 334.43 
L 706.16 374.88 
L 706.57 361.86 
L 706.97 336.13 
L 707.38 354.15 
L 707.78 341.10 
L 709.00 354.03 
L 709.40 353.05 
L 709.81 355.55 
L 710.21 359.68 
L 710.62 351.25 
L 711.02 339.03 
L 711.43 343.04 
L 711.83 368.31 
L 712.24 345.47 
L 712.64 345.59 
L 713.05 356.94 
L 713.45 341.20 
L 713.86 342.41 
L 714.26 328.84 
L 714.67 374.29 
L 715.08 344.10 
L 715.48 362.71 
L 715.89 350.20 
L 716.29 344.33 
L 716.70 333.19 
L 717.51 359.61 
L 717.91 341.88 
L 718.32 343.54 
L 718.72 336.47 
L 719.13 376.73 
L 719.53 352.90 
L 719.94 376.73 
L 720.34 350.92 
L 720.75 350.97 
L 721.15 360.35 
L 721.56 346.47 
L 721.96 321.95 
L 722.37 337.79 
L 722.77 332.98 
L 723.18 347.22 
L 723.58 352.48 
L 723.99 359.60 
L 724.39 336.90 
L 724.80 349.77 
L 725.20 352.86 
L 725.61 343.04 
L 726.01 356.59 
L 726.42 353.59 
L 726.82 330.22 
L 727.23 338.91 
L 727.63 361.38 
L 728.04 365.01 
L 728.44 359.03 
L 728.85 359.40 
L 729.25 360.49 
L 729.66 342.51 
L 730.06 355.51 
L 730.47 330.31 
L 730.87 337.05 
L 731.28 348.45 
L 731.68 351.41 
L 732.09 342.20 
L 732.49 324.22 
L 733.30 360.50 
L 733.71 350.61 
L 734.11 324.22 
L 734.52 357.05 
L 734.92 354.23 
L 735.33 349.77 
L 735.73 356.54 
L 736.14 335.18 
L 736.54 356.21 
L 736.95 351.78 
L 737.35 344.00 
L 737.76 342.58 
L 738.16 352.01 
L 738.57 348.31 
L 738.97 350.71 
L 739.38 376.73 
L 739.78 345.15 
L 740.19 346.85 
L 740.59 351.41 
L 741.00 339.47 
L 741.40 370.45 
L 741.81 337.28 
L 742.21 355.59 
L 742.62 361.73 
L 743.02 363.13 
L 743.43 346.72 
L 743.83 320.43 
L 744.64 365.74 
L 745.05 337.49 
L 745.45 351.10 
L 745.86 329.36 
L 746.67 354.23 
L 747.07 353.39 
L 747.48 373.29 
L 747.88 355.13 
L 748.29 365.10 
L 748.69 359.31 
L 749.10 326.68 
L 749.50 307.33 
L 749.91 344.07 
L 750.31 342.99 
L 750.72 352.75 
L 751.12 351.48 
L 751.53 358.04 
L 751.93 330.09 
L 752.34 341.15 
L 752.74 336.95 
L 753.15 369.93 
L 753.55 353.81 
L 753.96 363.22 
L 754.36 338.36 
L 754.77 352.16 
L 755.17 359.38 
L 755.58 349.71 
L 755.98 347.86 
L 756.39 350.78 
L 756.79 331.83 
L 757.20 328.57 
L 757.60 345.97 
L 758.01 342.23 
L 758.82 366.86 
L 759.22 351.86 
L 759.63 376.73 
L 760.04 327.93 
L 760.85 373.72 
L 761.66 324.22 
L 762.06 354.92 
L 762.47 352.00 
L 762.87 344.26 
L 763.28 363.27 
L 763.68 333.55 
L 764.09 352.65 
L 764.90 339.30 
L 765.30 350.05 
L 765.71 341.17 
L 766.11 367.52 
L 766.52 368.24 
L 766.92 349.08 
L 767.33 357.83 
L 767.73 357.96 
L 769.35 326.15 
L 770.16 336.37 
L 770.57 357.96 
L 770.97 360.57 
L 771.38 364.78 
L 771.78 326.28 
L 772.19 346.64 
L 772.59 325.87 
L 773.00 355.10 
L 773.40 341.74 
L 773.81 354.55 
L 774.21 349.99 
L 774.62 370.46 
L 775.02 324.22 
L 775.43 343.07 
L 775.83 348.21 
L 776.24 347.74 
L 776.64 365.39 
L 777.05 339.97 
L 777.45 343.06 
L 777.86 337.24 
L 778.26 328.80 
L 778.67 336.93 
L 779.07 352.78 
L 779.48 352.10 
L 779.88 365.51 
L 780.29 324.22 
L 780.69 361.89 
L 781.10 335.10 
L 781.50 357.36 
L 781.91 345.54 
L 782.31 347.76 
L 782.72 359.63 
L 783.53 318.52 
L 783.93 345.11 
L 784.34 337.31 
L 784.74 326.69 
L 785.15 359.23 
L 785.55 354.99 
L 785.96 364.61 
L 786.77 352.61 
L 787.17 351.79 
L 787.58 347.45 
L 787.98 329.33 
L 788.39 335.95 
L 788.79 351.50 
L 789.20 341.87 
L 789.60 354.42 
L 790.01 337.34 
L 790.41 352.27 
L 790.82 350.32 
L 791.22 365.11 
L 791.63 356.32 
L 792.03 332.13 
L 792.44 376.73 
L 792.84 352.78 
L 793.25 357.03 
L 793.65 356.34 
L 794.06 335.15 
L 794.46 356.95 
L 794.87 368.72 
L 795.27 353.85 
L 795.68 351.48 
L 796.49 332.67 
L 796.89 339.23 
L 797.30 338.48 
L 797.70 356.36 
L 798.11 360.61 
L 798.51 347.25 
L 799.32 339.23 
L 799.73 342.37 
L 800.13 355.68 
L 800.54 358.73 
L 800.94 336.48 
L 801.35 337.99 
L 801.75 371.38 
L 802.16 345.54 
L 802.56 344.06 
L 802.97 358.89 
L 803.37 365.41 
L 803.78 341.19 
L 804.18 343.47 
L 804.59 365.19 
L 805.40 335.99 
L 805.81 353.47 
L 806.21 330.77 
L 806.62 363.91 
L 807.02 335.85 
L 807.43 350.90 
L 807.83 361.17 
L 808.24 354.62 
L 808.64 326.28 
L 809.05 363.97 
L 809.45 337.89 
L 809.86 340.27 
L 810.26 376.73 
L 811.07 327.42 
L 811.48 357.06 
L 811.88 376.73 
L 812.29 343.07 
L 813.10 330.77 
L 813.50 359.37 
L 813.91 363.39 
L 814.31 358.07 
L 814.72 335.73 
L 815.12 359.96 
L 815.53 349.96 
L 815.93 370.31 
L 816.34 334.43 
L 816.74 348.30 
L 817.15 348.08 
L 817.55 324.22 
L 818.36 341.01 
L 818.77 348.59 
L 819.17 351.85 
L 819.58 368.32 
L 819.98 340.74 
L 820.39 351.44 
L 820.79 352.20 
L 821.20 369.33 
L 821.60 336.65 
L 822.01 346.27 
L 822.41 346.99 
L 822.82 355.27 
L 823.22 343.15 
L 823.63 338.25 
L 824.03 341.13 
L 824.44 361.55 
L 824.84 372.70 
L 825.65 328.95 
L 826.06 376.73 
L 826.46 363.77 
L 827.27 349.99 
L 827.68 336.53 
L 828.08 353.56 
L 828.49 339.25 
L 828.89 352.59 
L 829.30 338.44 
L 829.70 356.57 
L 830.11 350.53 
L 830.51 339.28 
L 830.92 348.73 
L 831.32 376.73 
L 831.73 356.76 
L 832.13 329.97 
L 832.94 362.99 
L 833.35 357.70 
L 833.75 342.04 
L 834.16 338.58 
L 834.56 343.10 
L 834.97 357.92 
L 835.37 362.05 
L 835.78 326.41 
L 836.18 361.12 
L 836.59 336.96 
L 836.99 346.97 
L 837.40 342.68 
L 837.80 344.60 
L 838.21 352.65 
L 838.61 342.37 
L 839.02 360.67 
L 839.42 327.04 
L 839.83 348.10 
L 840.23 376.73 
L 840.64 337.03 
L 841.04 326.28 
L 841.45 353.70 
L 841.85 363.24 
L 842.26 354.09 
L 842.66 368.08 
L 843.07 364.86 
L 843.47 360.56 
L 843.88 351.57 
L 844.28 351.42 
L 844.69 359.15 
L 845.09 357.84 
L 845.50 344.18 
L 845.90 359.13 
L 846.31 333.84 
L 846.71 341.17 
L 847.12 357.68 
L 847.52 367.79 
L 848.33 338.31 
L 848.74 347.77 
L 849.14 349.17 
L 849.55 368.66 
L 849.96 342.64 
L 849.96 342.64 
" clip-path="url(#p00ab3a5869)" style="fill: none; stroke: #e377c2; stroke-opacity: 0.35; stroke-width: 1.23; stroke-linecap: square"/>
   </g>
   <g id="line2d_63">
    <path d="M 445.32 370.55 
L 445.72 344.50 
L 446.13 357.10 
L 446.53 342.45 
L 446.94 350.36 
L 447.34 379.11 
L 447.75 361.82 
L 448.56 344.05 
L 448.96 358.80 
L 449.37 353.77 
L 449.77 376.30 
L 450.18 358.56 
L 450.58 327.04 
L 450.99 352.83 
L 451.39 359.14 
L 451.80 361.22 
L 452.20 360.36 
L 453.01 343.79 
L 453.42 347.88 
L 453.82 346.29 
L 454.23 367.67 
L 454.63 374.59 
L 455.04 371.65 
L 455.44 371.10 
L 455.85 329.97 
L 456.25 359.49 
L 456.66 361.63 
L 457.06 335.28 
L 457.47 359.04 
L 457.87 349.34 
L 458.28 357.03 
L 458.68 369.65 
L 459.09 377.61 
L 459.90 355.04 
L 460.30 352.71 
L 460.71 345.00 
L 461.11 351.56 
L 461.52 338.78 
L 461.92 363.55 
L 462.33 365.95 
L 462.73 350.84 
L 463.14 358.94 
L 463.54 347.20 
L 463.95 340.90 
L 464.76 360.93 
L 465.16 381.57 
L 465.57 363.21 
L 465.97 355.54 
L 466.38 371.78 
L 466.78 354.94 
L 467.19 355.09 
L 467.59 355.76 
L 468.40 341.46 
L 468.81 366.77 
L 469.62 354.84 
L 470.02 341.77 
L 470.43 355.33 
L 470.83 350.88 
L 471.24 355.85 
L 472.05 354.91 
L 472.45 345.72 
L 472.86 350.86 
L 473.26 347.40 
L 473.67 355.35 
L 474.07 360.27 
L 474.48 358.54 
L 474.88 347.59 
L 475.29 355.66 
L 475.69 373.64 
L 476.10 354.61 
L 476.91 381.57 
L 477.72 341.33 
L 478.12 347.63 
L 478.53 350.81 
L 478.93 365.88 
L 479.34 370.33 
L 479.74 370.29 
L 480.15 363.59 
L 480.55 366.52 
L 480.96 358.25 
L 481.36 356.08 
L 481.77 367.45 
L 482.17 354.04 
L 482.58 381.21 
L 482.98 366.71 
L 483.39 364.94 
L 483.79 384.54 
L 484.20 361.55 
L 484.60 361.21 
L 485.01 356.24 
L 485.41 354.33 
L 485.82 376.51 
L 486.22 350.97 
L 486.63 353.28 
L 487.03 345.34 
L 487.44 342.65 
L 487.84 339.06 
L 488.25 343.32 
L 488.65 356.73 
L 489.06 343.22 
L 489.46 356.14 
L 489.87 361.34 
L 490.28 357.25 
L 490.68 339.43 
L 491.09 345.16 
L 491.49 354.78 
L 491.90 357.14 
L 492.30 366.58 
L 492.71 349.13 
L 493.11 381.57 
L 493.52 360.20 
L 493.92 361.46 
L 494.33 364.46 
L 494.73 349.59 
L 495.14 359.96 
L 495.54 343.00 
L 495.95 369.25 
L 496.35 337.37 
L 496.76 361.76 
L 497.16 350.89 
L 497.57 362.91 
L 497.97 364.37 
L 498.78 350.33 
L 499.19 362.45 
L 499.59 365.73 
L 500.00 364.21 
L 500.40 372.45 
L 500.81 372.83 
L 501.21 357.73 
L 501.62 349.55 
L 502.02 349.11 
L 502.43 357.93 
L 502.83 356.28 
L 503.24 381.57 
L 503.64 369.49 
L 504.05 364.03 
L 504.45 354.71 
L 504.86 353.62 
L 505.26 358.96 
L 505.67 358.04 
L 506.07 335.82 
L 506.48 364.84 
L 506.88 358.20 
L 507.29 362.91 
L 507.69 365.48 
L 508.10 362.32 
L 508.50 357.24 
L 508.91 365.82 
L 509.31 340.43 
L 509.72 358.25 
L 510.12 360.04 
L 510.53 342.95 
L 510.93 341.45 
L 511.74 345.24 
L 512.15 376.56 
L 512.55 365.46 
L 512.96 361.86 
L 513.36 366.37 
L 513.77 344.24 
L 514.17 347.16 
L 514.58 366.12 
L 514.98 373.73 
L 515.39 376.80 
L 515.79 373.53 
L 516.20 385.43 
L 516.60 352.29 
L 517.01 363.70 
L 517.41 343.99 
L 517.82 359.25 
L 518.22 354.55 
L 518.63 369.93 
L 519.03 362.67 
L 519.44 372.40 
L 519.84 359.58 
L 520.25 350.36 
L 520.65 359.67 
L 521.06 359.99 
L 521.46 346.68 
L 521.87 361.66 
L 522.27 347.47 
L 522.68 354.14 
L 523.08 364.63 
L 523.49 367.94 
L 524.30 348.72 
L 525.11 371.99 
L 525.51 365.15 
L 525.92 349.46 
L 526.73 360.23 
L 527.13 359.21 
L 527.54 338.37 
L 527.94 381.57 
L 528.35 374.34 
L 528.75 348.79 
L 529.16 350.67 
L 529.56 353.38 
L 529.97 366.15 
L 530.37 349.72 
L 530.78 365.53 
L 531.18 364.98 
L 531.59 368.28 
L 531.99 353.75 
L 532.40 370.65 
L 532.80 354.03 
L 533.21 363.69 
L 533.61 352.23 
L 534.02 362.42 
L 534.42 342.53 
L 534.83 359.86 
L 535.24 359.77 
L 535.64 364.14 
L 536.05 364.94 
L 536.45 359.79 
L 536.86 357.10 
L 537.26 375.23 
L 538.07 358.43 
L 538.48 366.44 
L 538.88 359.81 
L 539.29 350.25 
L 539.69 348.58 
L 540.10 345.22 
L 540.50 351.45 
L 540.91 343.97 
L 541.31 373.91 
L 541.72 366.43 
L 542.12 369.28 
L 542.53 365.63 
L 542.93 351.81 
L 543.34 358.74 
L 543.74 379.20 
L 544.15 341.83 
L 544.55 347.76 
L 544.96 356.78 
L 545.77 368.72 
L 546.17 371.14 
L 546.58 372.10 
L 546.98 352.98 
L 547.39 374.26 
L 547.79 353.89 
L 548.20 345.54 
L 548.60 357.94 
L 549.01 346.30 
L 549.41 350.09 
L 549.82 357.57 
L 550.22 358.58 
L 550.63 341.34 
L 551.03 338.51 
L 551.44 369.15 
L 551.84 358.02 
L 552.25 374.93 
L 552.65 363.85 
L 553.06 346.10 
L 553.87 365.15 
L 554.27 330.99 
L 554.68 350.26 
L 555.08 351.03 
L 555.49 347.55 
L 555.89 354.38 
L 556.30 355.18 
L 556.70 352.67 
L 557.11 350.93 
L 557.51 335.14 
L 557.92 366.57 
L 558.32 368.80 
L 558.73 368.95 
L 559.13 378.97 
L 559.54 370.88 
L 559.94 372.32 
L 560.35 352.60 
L 560.75 348.59 
L 561.16 372.60 
L 561.56 361.68 
L 561.97 373.56 
L 562.37 368.16 
L 562.78 358.12 
L 563.18 362.02 
L 563.59 362.12 
L 563.99 345.62 
L 564.40 383.27 
L 564.80 366.57 
L 565.21 368.67 
L 565.61 376.28 
L 566.42 346.37 
L 566.83 347.28 
L 567.64 371.04 
L 568.04 366.20 
L 568.45 375.79 
L 568.85 381.57 
L 569.26 381.57 
L 569.66 361.20 
L 570.07 367.93 
L 570.47 377.30 
L 570.88 353.90 
L 571.28 351.81 
L 571.69 345.22 
L 572.09 357.86 
L 572.50 366.61 
L 572.90 353.16 
L 573.31 370.46 
L 573.71 364.67 
L 574.12 348.56 
L 574.52 370.34 
L 574.93 359.95 
L 575.33 363.73 
L 575.74 373.44 
L 576.14 343.91 
L 576.55 370.82 
L 576.95 368.16 
L 577.36 361.80 
L 577.76 349.09 
L 578.17 354.68 
L 578.57 367.02 
L 578.98 369.14 
L 579.38 353.34 
L 579.79 359.81 
L 580.2 361.36 
L 580.60 359.44 
L 581.01 356.58 
L 581.41 361.74 
L 581.82 346.96 
L 582.22 337.51 
L 582.63 365.93 
L 583.03 363.76 
L 583.44 351.73 
L 583.84 354.56 
L 584.25 363.51 
L 584.65 368.68 
L 585.06 366.72 
L 585.46 353.00 
L 585.87 349.49 
L 586.27 367.56 
L 586.68 357.11 
L 587.08 370.51 
L 587.49 347.88 
L 587.89 361.55 
L 588.30 364.85 
L 588.70 369.83 
L 589.11 354.44 
L 589.51 348.73 
L 589.92 372.14 
L 590.32 348.80 
L 590.73 366.08 
L 591.13 363.71 
L 591.54 367.09 
L 591.94 349.72 
L 592.35 338.85 
L 592.75 363.96 
L 593.16 349.04 
L 593.56 360.37 
L 593.97 341.85 
L 594.78 363.60 
L 595.18 343.36 
L 595.59 355.03 
L 595.99 354.09 
L 596.40 348.37 
L 596.80 361.39 
L 597.21 354.95 
L 597.61 353.53 
L 598.02 353.95 
L 598.42 327.93 
L 598.83 360.34 
L 599.23 349.83 
L 599.64 349.08 
L 600.04 361.91 
L 600.45 357.70 
L 600.85 364.21 
L 601.26 364.95 
L 601.66 371.82 
L 602.07 358.35 
L 602.47 350.81 
L 602.88 355.81 
L 603.28 385.43 
L 604.09 326.41 
L 604.50 356.99 
L 604.90 356.02 
L 605.31 369.07 
L 605.71 361.77 
L 606.12 369.22 
L 606.52 371.29 
L 606.93 340.68 
L 607.33 364.66 
L 607.74 369.74 
L 608.14 381.57 
L 608.55 363.62 
L 608.95 358.98 
L 609.36 380.67 
L 609.76 362.93 
L 610.17 353.86 
L 610.57 369.40 
L 610.98 350.37 
L 611.38 358.92 
L 611.79 353.88 
L 612.19 366.51 
L 612.60 358.41 
L 613.00 353.17 
L 613.41 350.13 
L 613.81 363.73 
L 614.22 364.36 
L 614.62 347.37 
L 615.03 363.29 
L 615.43 364.64 
L 615.84 359.61 
L 616.24 369.11 
L 616.65 348.65 
L 617.05 373.33 
L 617.46 367.37 
L 617.86 354.48 
L 618.27 358.62 
L 618.67 369.29 
L 619.08 353.00 
L 619.48 353.76 
L 619.89 356.80 
L 620.29 367.27 
L 620.70 356.06 
L 621.10 379.02 
L 621.51 351.89 
L 621.91 351.26 
L 622.32 376.58 
L 622.72 375.93 
L 623.13 370.00 
L 623.53 360.70 
L 623.94 343.43 
L 624.34 359.89 
L 624.75 346.36 
L 625.56 358.92 
L 625.97 368.85 
L 626.37 349.96 
L 626.78 352.55 
L 627.18 372.27 
L 627.59 366.94 
L 627.99 347.19 
L 628.40 365.54 
L 628.80 349.68 
L 629.21 354.17 
L 629.61 354.07 
L 630.02 361.34 
L 630.42 358.18 
L 630.83 345.79 
L 631.23 350.17 
L 631.64 381.57 
L 632.04 370.11 
L 632.45 348.37 
L 632.85 371.05 
L 633.26 364.51 
L 633.66 367.27 
L 634.07 346.97 
L 634.47 367.73 
L 634.88 353.55 
L 635.28 352.52 
L 635.69 340.62 
L 636.09 350.84 
L 636.50 355.99 
L 636.90 354.61 
L 637.31 358.20 
L 637.71 359.25 
L 638.12 349.27 
L 638.52 377.82 
L 638.93 371.97 
L 639.74 342.81 
L 640.14 355.86 
L 640.55 361.85 
L 640.95 361.77 
L 641.36 373.16 
L 641.76 356.75 
L 642.17 347.38 
L 642.98 352.26 
L 643.38 345.72 
L 643.79 358.62 
L 644.19 352.55 
L 644.60 356.43 
L 645.00 367.65 
L 645.41 361.89 
L 645.81 359.08 
L 646.22 343.54 
L 646.62 353.84 
L 647.03 356.16 
L 647.43 344.15 
L 647.84 372.05 
L 648.24 375.88 
L 648.65 360.08 
L 649.05 353.48 
L 649.46 354.78 
L 649.86 352.59 
L 650.27 354.03 
L 650.67 381.57 
L 651.08 361.44 
L 651.48 368.79 
L 651.89 350.74 
L 652.29 349.55 
L 652.70 367.98 
L 653.10 363.25 
L 653.51 369.40 
L 653.91 342.47 
L 654.32 352.36 
L 654.72 342.82 
L 655.13 345.88 
L 655.53 357.46 
L 655.94 355.56 
L 656.34 370.02 
L 656.75 359.59 
L 657.15 360.71 
L 657.56 367.11 
L 657.96 376.31 
L 658.37 355.28 
L 659.18 381.57 
L 659.99 348.35 
L 660.39 346.89 
L 660.80 353.74 
L 661.20 364.00 
L 662.01 354.47 
L 662.42 367.28 
L 662.82 368.68 
L 663.23 367.14 
L 663.63 361.56 
L 664.04 361.08 
L 664.44 367.31 
L 664.85 356.32 
L 665.25 357.13 
L 665.66 350.37 
L 666.06 372.21 
L 666.47 346.38 
L 666.87 381.03 
L 667.28 360.01 
L 668.09 348.39 
L 668.49 351.46 
L 668.90 337.82 
L 669.71 374.77 
L 670.12 381.57 
L 670.52 365.71 
L 670.93 362.34 
L 671.33 374.21 
L 671.74 351.95 
L 672.14 347.96 
L 672.55 356.26 
L 672.95 357.26 
L 673.36 371.94 
L 673.76 355.38 
L 674.17 346.91 
L 674.57 361.48 
L 674.98 361.97 
L 675.38 369.87 
L 675.79 354.19 
L 676.19 367.42 
L 676.60 356.42 
L 677.00 369.66 
L 677.41 364.10 
L 677.81 355.47 
L 678.22 361.22 
L 678.62 358.49 
L 679.03 363.13 
L 679.43 373.43 
L 679.84 351.58 
L 680.24 377.75 
L 681.05 353.01 
L 681.46 361.43 
L 681.86 355.89 
L 682.27 369.92 
L 682.67 354.70 
L 683.08 345.69 
L 683.48 355.46 
L 683.89 371.95 
L 684.29 367.65 
L 684.70 343.83 
L 685.10 350.04 
L 685.51 361.61 
L 685.91 364.00 
L 686.32 357.30 
L 686.72 358.17 
L 687.13 350.50 
L 687.53 354.25 
L 687.94 352.69 
L 688.34 341.91 
L 688.75 360.58 
L 689.15 372.87 
L 689.56 365.27 
L 689.96 347.76 
L 690.37 356.97 
L 690.77 361.68 
L 691.18 361.72 
L 691.58 379.30 
L 691.99 360.80 
L 692.39 370.24 
L 692.80 343.82 
L 693.20 366.61 
L 693.61 369.46 
L 694.01 365.51 
L 694.42 352.42 
L 694.82 369.42 
L 695.23 358.51 
L 695.63 368.76 
L 696.04 335.14 
L 696.85 358.64 
L 697.25 361.52 
L 697.66 355.31 
L 698.06 373.28 
L 698.87 343.26 
L 699.28 372.16 
L 699.68 373.32 
L 700.09 373.49 
L 700.49 357.50 
L 700.90 364.23 
L 701.30 357.56 
L 701.71 345.38 
L 702.52 361.52 
L 702.92 347.16 
L 703.33 370.98 
L 703.73 365.03 
L 704.14 350.68 
L 704.54 357.98 
L 704.95 338.34 
L 705.35 372.39 
L 705.76 370.36 
L 706.16 359.51 
L 706.57 357.78 
L 706.97 348.58 
L 707.38 353.11 
L 707.78 350.32 
L 708.19 351.02 
L 708.59 368.80 
L 709.00 362.20 
L 709.40 363.67 
L 709.81 337.98 
L 710.21 355.04 
L 710.62 347.32 
L 711.02 358.95 
L 711.83 352.29 
L 712.24 365.05 
L 712.64 365.19 
L 713.05 354.67 
L 713.45 353.21 
L 713.86 346.65 
L 714.26 362.28 
L 714.67 350.14 
L 715.08 347.11 
L 715.48 360.85 
L 715.89 366.08 
L 716.29 366.14 
L 716.70 355.19 
L 717.10 379.30 
L 717.51 346.16 
L 717.91 379.07 
L 718.32 368.97 
L 719.13 359.35 
L 719.94 373.98 
L 720.34 364.13 
L 720.75 342.86 
L 721.15 358.62 
L 721.56 348.55 
L 721.96 367.51 
L 722.77 341.90 
L 723.58 368.44 
L 723.99 347.94 
L 724.39 344.58 
L 724.80 346.05 
L 725.20 360.22 
L 725.61 359.75 
L 726.01 362.12 
L 726.42 363.79 
L 726.82 381.57 
L 727.23 354.71 
L 727.63 359.00 
L 728.04 375.45 
L 728.44 353.71 
L 728.85 375.10 
L 729.25 355.56 
L 729.66 351.04 
L 730.06 343.79 
L 730.47 372.69 
L 730.87 361.64 
L 731.28 354.55 
L 731.68 367.17 
L 732.09 351.62 
L 732.49 363.35 
L 732.90 347.65 
L 733.30 355.97 
L 733.71 348.09 
L 734.11 351.92 
L 734.52 364.06 
L 734.92 356.39 
L 735.33 353.31 
L 735.73 354.07 
L 736.14 347.86 
L 736.54 352.30 
L 736.95 347.65 
L 737.35 364.08 
L 737.76 345.46 
L 738.16 351.89 
L 738.57 361.54 
L 738.97 357.62 
L 739.38 367.65 
L 739.78 366.05 
L 740.19 350.15 
L 740.59 347.25 
L 741.00 359.55 
L 741.40 378.94 
L 741.81 370.36 
L 742.21 352.43 
L 742.62 353.61 
L 743.02 353.39 
L 743.43 369.29 
L 744.24 355.63 
L 744.64 353.07 
L 745.05 362.04 
L 745.45 360.73 
L 745.86 355.13 
L 746.26 365.42 
L 746.67 368.90 
L 747.07 352.78 
L 747.48 356.86 
L 747.88 371.00 
L 748.29 347.58 
L 748.69 342.07 
L 749.50 359.78 
L 750.31 353.59 
L 750.72 362.56 
L 751.12 354.91 
L 751.53 366.26 
L 751.93 359.97 
L 752.34 372.22 
L 752.74 365.26 
L 753.15 362.67 
L 753.55 380.44 
L 753.96 360.00 
L 754.77 351.15 
L 755.17 352.19 
L 755.58 383.77 
L 755.98 370.44 
L 756.39 347.49 
L 756.79 360.01 
L 757.20 377.51 
L 758.41 355.50 
L 758.82 357.13 
L 759.22 344.73 
L 759.63 372.66 
L 760.04 362.26 
L 760.44 373.22 
L 760.85 371.52 
L 761.25 349.79 
L 761.66 357.45 
L 762.06 340.68 
L 762.87 348.04 
L 763.28 350.16 
L 763.68 365.30 
L 764.09 364.81 
L 764.49 361.71 
L 764.90 365.30 
L 765.30 360.20 
L 765.71 340.93 
L 766.11 352.81 
L 766.52 360.76 
L 766.92 363.30 
L 767.33 357.24 
L 767.73 344.86 
L 768.14 355.56 
L 768.54 361.48 
L 768.95 344.32 
L 769.35 359.98 
L 769.76 367.55 
L 770.16 365.07 
L 770.57 363.87 
L 770.97 367.49 
L 771.38 357.31 
L 771.78 341.97 
L 772.59 375.73 
L 773.00 355.74 
L 773.40 351.52 
L 773.81 364.96 
L 774.21 367.61 
L 775.02 336.29 
L 775.43 360.62 
L 775.83 338.52 
L 776.24 340.44 
L 777.45 377.69 
L 777.86 357.39 
L 778.26 367.94 
L 778.67 346.92 
L 779.07 360.60 
L 779.48 347.78 
L 779.88 363.40 
L 780.29 352.30 
L 780.69 361.63 
L 781.10 349.88 
L 781.50 369.91 
L 781.91 365.52 
L 782.31 366.84 
L 782.72 359.96 
L 783.12 335.48 
L 783.53 353.11 
L 784.34 366.84 
L 784.74 335.14 
L 785.15 335.14 
L 785.55 355.66 
L 785.96 369.50 
L 786.36 379.52 
L 786.77 350.14 
L 787.17 343.60 
L 787.58 365.66 
L 787.98 359.01 
L 788.39 354.27 
L 788.79 351.15 
L 789.20 367.97 
L 789.60 364.56 
L 790.01 365.50 
L 790.41 373.37 
L 790.82 355.78 
L 791.22 363.94 
L 791.63 344.22 
L 792.44 361.73 
L 792.84 360.06 
L 793.25 362.85 
L 793.65 335.14 
L 794.06 357.88 
L 794.46 367.03 
L 794.87 362.50 
L 795.27 364.01 
L 795.68 367.19 
L 796.08 352.78 
L 796.49 354.64 
L 796.89 355.78 
L 797.30 348.29 
L 797.70 346.75 
L 798.11 361.03 
L 798.51 346.82 
L 799.32 358.57 
L 799.73 353.88 
L 800.13 357.24 
L 800.54 370.10 
L 800.94 361.18 
L 801.35 376.14 
L 801.75 354.59 
L 802.16 369.05 
L 802.56 358.06 
L 802.97 356.52 
L 803.37 367.63 
L 803.78 348.62 
L 804.18 362.63 
L 804.59 356.44 
L 805 365.91 
L 805.40 350.05 
L 805.81 342.07 
L 806.21 351.63 
L 806.62 351.70 
L 807.02 364.39 
L 807.43 355.46 
L 807.83 361.12 
L 808.24 343.82 
L 808.64 362.83 
L 809.05 352.69 
L 809.45 355.22 
L 809.86 343.43 
L 810.26 349.69 
L 810.67 377.20 
L 811.07 384.03 
L 811.88 350.67 
L 812.29 374.66 
L 812.69 359.35 
L 813.10 352.50 
L 813.50 381.57 
L 813.91 376.46 
L 814.31 336.76 
L 814.72 358.64 
L 815.12 339.96 
L 815.53 354.33 
L 815.93 363.79 
L 816.34 363.09 
L 816.74 362.03 
L 817.15 359.81 
L 817.55 352.53 
L 817.96 357.51 
L 818.36 345.17 
L 819.17 366.36 
L 819.58 354.23 
L 819.98 360.98 
L 820.39 347.77 
L 821.20 363.36 
L 821.60 354.49 
L 822.01 364.69 
L 822.41 359.00 
L 822.82 369.74 
L 823.22 337.37 
L 823.63 358.94 
L 824.44 381.57 
L 824.84 346.34 
L 825.25 341.34 
L 826.06 365.36 
L 826.46 357.01 
L 826.87 363.82 
L 827.27 367.59 
L 827.68 354.26 
L 828.08 350.95 
L 828.49 365.74 
L 828.89 348.94 
L 829.30 362.21 
L 829.70 381.57 
L 830.11 375.34 
L 830.51 353.16 
L 830.92 355.94 
L 831.32 348.82 
L 831.73 351.95 
L 832.13 343.95 
L 832.54 366.85 
L 833.35 337.25 
L 833.75 360.02 
L 834.16 371.18 
L 834.56 360.31 
L 834.97 353.72 
L 835.37 350.80 
L 835.78 351.77 
L 836.18 335.14 
L 836.59 363.47 
L 836.99 366.09 
L 837.40 351.72 
L 837.80 330.22 
L 838.21 363.09 
L 838.61 357.50 
L 839.02 342.26 
L 839.42 362.59 
L 839.83 372.86 
L 840.23 355.81 
L 840.64 353.21 
L 841.04 342.44 
L 841.45 356.63 
L 842.26 361.17 
L 842.66 359.04 
L 843.07 367.15 
L 843.47 359.35 
L 843.88 370.91 
L 844.28 353.30 
L 844.69 358.42 
L 845.09 355.20 
L 845.50 364.46 
L 845.90 358.94 
L 846.31 363.95 
L 846.71 341.00 
L 847.52 359.79 
L 847.93 353.01 
L 848.33 350.91 
L 848.74 356.03 
L 849.14 370.49 
L 849.55 341.33 
L 849.96 356.95 
L 849.96 356.95 
" clip-path="url(#p00ab3a5869)" style="fill: none; stroke: #7f7f7f; stroke-opacity: 0.35; stroke-width: 1.23; stroke-linecap: square"/>
   </g>
   <g id="patch_28">
    <path d="M 445.32 400.68 
L 445.32 302.76 
" style="fill: none; stroke: #000000; stroke-width: 0.8; stroke-linejoin: miter; stroke-linecap: square"/>
   </g>
   <g id="patch_29">
    <path d="M 849.96 400.68 
L 849.96 302.76 
" style="fill: none; stroke: #000000; stroke-width: 0.8; stroke-linejoin: miter; stroke-linecap: square"/>
   </g>
   <g id="patch_30">
    <path d="M 445.32 400.68 
L 849.96 400.68 
" style="fill: none; stroke: #000000; stroke-width: 0.8; stroke-linejoin: miter; stroke-linecap: square"/>
   </g>
   <g id="patch_31">
    <path d="M 445.32 302.76 
L 849.96 302.76 
" style="fill: none; stroke: #000000; stroke-width: 0.8; stroke-linejoin: miter; stroke-linecap: square"/>
   </g>
   <g id="text_49">
    <text style="font-size: 11.43px; font-family: 'DejaVu Sans', 'Liberation Sans', sans-serif; text-anchor: middle" x="647.64" y="296.76">z</text>
   </g>
  </g>
 </g>
 <defs>
  <clipPath id="p5a673e6192">
   <rect x="7.56" y="21.96" width="404.64" height="97.92"/>
  </clipPath>
  <clipPath id="p54a7ca2164">
   <rect x="445.32" y="21.96" width="404.64" height="97.92"/>
  </clipPath>
  <clipPath id="pdcc25c7797">
   <rect x="7.56" y="162.36" width="404.64" height="97.92"/>
  </clipPath>
  <clipPath id="pd38983baa3">
   <rect x="445.32" y="162.36" width="404.64" height="97.92"/>
  </clipPath>
  <clipPath id="pd3d91a87b0">
   <rect x="7.56" y="302.76" width="404.64" height="97.92"/>
  </clipPath>
  <clipPath id="p00ab3a5869">
   <rect x="445.32" y="302.76" width="404.64" height="97.92"/>
  </clipPath>
 </defs>
</svg>

</body></html>
